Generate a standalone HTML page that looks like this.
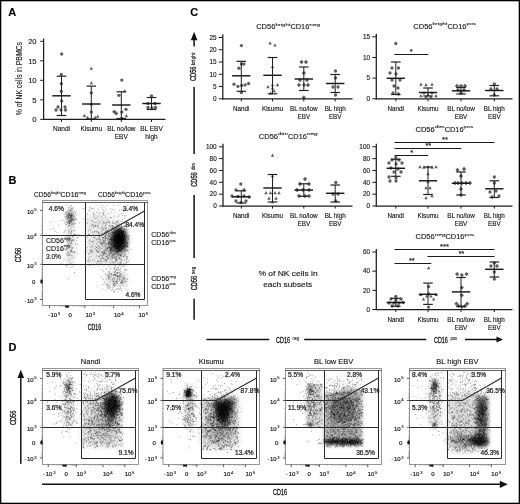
<!DOCTYPE html>
<html><head><meta charset="utf-8"><style>
html,body{margin:0;padding:0;background:#fff;}
svg{display:block;font-family:"Liberation Sans", sans-serif;will-change:transform;}
text{stroke:#222;stroke-width:0.14px;}
</style></head><body>
<svg width="520" height="504" viewBox="0 0 520 504">
<defs><filter id="b1" x="-50%" y="-50%" width="200%" height="200%"><feGaussianBlur stdDeviation="1"/></filter><filter id="b2" x="-50%" y="-50%" width="200%" height="200%"><feGaussianBlur stdDeviation="2"/></filter><filter id="b3" x="-50%" y="-50%" width="200%" height="200%"><feGaussianBlur stdDeviation="3"/></filter><filter id="b5" x="-50%" y="-50%" width="200%" height="200%"><feGaussianBlur stdDeviation="5"/></filter><radialGradient id="rg"><stop offset="0" stop-color="#000" stop-opacity="1"/><stop offset="0.55" stop-color="#000" stop-opacity="0.8"/><stop offset="1" stop-color="#000" stop-opacity="0"/></radialGradient></defs>
<rect width="520" height="504" fill="#fff"/>
<rect x="0.65" y="0.65" width="518.7" height="502.7" fill="none" stroke="#000" stroke-width="1.3"/>
<text x="8.2" y="16.2" font-size="11" font-weight="bold" fill="#000">A</text>
<text x="8.5" y="184.1" font-size="11" font-weight="bold" fill="#000">B</text>
<text x="190.2" y="16.2" font-size="11" font-weight="bold" fill="#000">C</text>
<text x="8.5" y="351.3" font-size="11" font-weight="bold" fill="#000">D</text>
<circle cx="61.70" cy="54.00" r="1.65" fill="#5e5e5e"/>
<circle cx="61.30" cy="74.50" r="1.65" fill="#5e5e5e"/>
<circle cx="61.30" cy="83.70" r="1.65" fill="#5e5e5e"/>
<circle cx="61.30" cy="91.50" r="1.65" fill="#5e5e5e"/>
<circle cx="61.70" cy="101.00" r="1.65" fill="#5e5e5e"/>
<circle cx="58.00" cy="107.00" r="1.65" fill="#5e5e5e"/>
<circle cx="65.00" cy="107.00" r="1.65" fill="#5e5e5e"/>
<circle cx="56.00" cy="110.00" r="1.65" fill="#5e5e5e"/>
<circle cx="61.00" cy="110.00" r="1.65" fill="#5e5e5e"/>
<circle cx="65.50" cy="110.00" r="1.65" fill="#5e5e5e"/>
<path d="M91.30 66.72L93.02 69.85L89.58 69.85Z" fill="#5e5e5e"/>
<path d="M91.30 81.22L93.02 84.35L89.58 84.35Z" fill="#5e5e5e"/>
<circle cx="91.30" cy="92.80" r="1.65" fill="#5e5e5e"/>
<circle cx="91.30" cy="104.20" r="1.65" fill="#5e5e5e"/>
<circle cx="91.30" cy="112.10" r="1.65" fill="#5e5e5e"/>
<path d="M84.40 113.82L86.12 116.95L82.68 116.95Z" fill="#5e5e5e"/>
<path d="M87.50 115.72L89.22 118.85L85.78 118.85Z" fill="#5e5e5e"/>
<path d="M95.20 115.72L96.92 118.85L93.48 118.85Z" fill="#5e5e5e"/>
<path d="M97.70 114.62L99.42 117.75L95.98 117.75Z" fill="#5e5e5e"/>
<circle cx="121.80" cy="80.10" r="1.65" fill="#5e5e5e"/>
<path d="M124.80 89.22L126.52 92.35L123.08 92.35Z" fill="#5e5e5e"/>
<circle cx="118.90" cy="95.30" r="1.65" fill="#5e5e5e"/>
<path d="M114.20 109.66L116.34 111.80L114.20 113.94L112.06 111.80Z" fill="#5e5e5e"/>
<path d="M116.20 111.26L118.34 113.40L116.20 115.55L114.06 113.40Z" fill="#5e5e5e"/>
<circle cx="121.80" cy="112.10" r="1.65" fill="#5e5e5e"/>
<circle cx="126.00" cy="109.30" r="1.65" fill="#5e5e5e"/>
<path d="M126.30 114.02L128.02 117.15L124.58 117.15Z" fill="#5e5e5e"/>
<circle cx="121.80" cy="118.30" r="1.65" fill="#5e5e5e"/>
<circle cx="151.50" cy="96.00" r="1.65" fill="#5e5e5e"/>
<circle cx="148.00" cy="103.50" r="1.65" fill="#5e5e5e"/>
<circle cx="155.00" cy="103.50" r="1.65" fill="#5e5e5e"/>
<circle cx="148.00" cy="107.50" r="1.65" fill="#5e5e5e"/>
<circle cx="152.00" cy="108.00" r="1.65" fill="#5e5e5e"/>
<circle cx="155.50" cy="107.50" r="1.65" fill="#5e5e5e"/>
<line x1="43.6" y1="38.5" x2="43.6" y2="119.89999999999999" stroke="#1c1c1c" stroke-width="1.25"/>
<line x1="43.0" y1="119.3" x2="165.5" y2="119.3" stroke="#1c1c1c" stroke-width="1.25"/>
<line x1="40.2" y1="119.3" x2="43.6" y2="119.3" stroke="#1c1c1c" stroke-width="1.0"/>
<text x="36.6" y="122.04" font-size="7.6" text-anchor="end" fill="#151515">0</text>
<line x1="40.2" y1="99.8" x2="43.6" y2="99.8" stroke="#1c1c1c" stroke-width="1.0"/>
<text x="36.6" y="102.54" font-size="7.6" text-anchor="end" fill="#151515">5</text>
<line x1="40.2" y1="80.3" x2="43.6" y2="80.3" stroke="#1c1c1c" stroke-width="1.0"/>
<text x="36.6" y="83.04" font-size="7.6" text-anchor="end" fill="#151515">10</text>
<line x1="40.2" y1="60.8" x2="43.6" y2="60.8" stroke="#1c1c1c" stroke-width="1.0"/>
<text x="36.6" y="63.54" font-size="7.6" text-anchor="end" fill="#151515">15</text>
<line x1="40.2" y1="41.3" x2="43.6" y2="41.3" stroke="#1c1c1c" stroke-width="1.0"/>
<text x="36.6" y="44.04" font-size="7.6" text-anchor="end" fill="#151515">20</text>
<line x1="61.5" y1="119.3" x2="61.5" y2="121.89999999999999" stroke="#1c1c1c" stroke-width="1.0"/>
<line x1="61.5" y1="76.2" x2="61.5" y2="115.5" stroke="#222" stroke-width="1.0"/>
<line x1="56.7" y1="76.2" x2="66.3" y2="76.2" stroke="#222" stroke-width="1.2"/>
<line x1="56.7" y1="115.5" x2="66.3" y2="115.5" stroke="#222" stroke-width="1.2"/>
<line x1="52.3" y1="95.8" x2="70.7" y2="95.8" stroke="#181818" stroke-width="1.45"/>
<text x="61.5" y="131.3" font-size="6.5" text-anchor="middle" fill="#151515">Nandi</text>
<line x1="91.3" y1="119.3" x2="91.3" y2="121.89999999999999" stroke="#1c1c1c" stroke-width="1.0"/>
<line x1="91.3" y1="86.1" x2="91.3" y2="119" stroke="#222" stroke-width="1.0"/>
<line x1="86.5" y1="86.1" x2="96.1" y2="86.1" stroke="#222" stroke-width="1.2"/>
<line x1="86.5" y1="119" x2="96.1" y2="119" stroke="#222" stroke-width="1.2"/>
<line x1="82.1" y1="104" x2="100.5" y2="104" stroke="#181818" stroke-width="1.45"/>
<text x="91.3" y="131.3" font-size="6.5" text-anchor="middle" fill="#151515">Kisumu</text>
<line x1="121.3" y1="119.3" x2="121.3" y2="121.89999999999999" stroke="#1c1c1c" stroke-width="1.0"/>
<line x1="121.3" y1="91.8" x2="121.3" y2="118.5" stroke="#222" stroke-width="1.0"/>
<line x1="116.5" y1="91.8" x2="126.1" y2="91.8" stroke="#222" stroke-width="1.2"/>
<line x1="116.5" y1="118.5" x2="126.1" y2="118.5" stroke="#222" stroke-width="1.2"/>
<line x1="112.1" y1="105" x2="130.5" y2="105" stroke="#181818" stroke-width="1.45"/>
<text x="121.3" y="131.3" font-size="6.5" text-anchor="middle" fill="#151515">BL no/low</text>
<text x="121.3" y="138.6" font-size="6.5" text-anchor="middle" fill="#151515">EBV</text>
<line x1="151.5" y1="119.3" x2="151.5" y2="121.89999999999999" stroke="#1c1c1c" stroke-width="1.0"/>
<line x1="151.5" y1="97.5" x2="151.5" y2="109.5" stroke="#222" stroke-width="1.0"/>
<line x1="146.7" y1="97.5" x2="156.3" y2="97.5" stroke="#222" stroke-width="1.2"/>
<line x1="146.7" y1="109.5" x2="156.3" y2="109.5" stroke="#222" stroke-width="1.2"/>
<line x1="142.3" y1="103.5" x2="160.7" y2="103.5" stroke="#181818" stroke-width="1.45"/>
<text x="151.5" y="131.3" font-size="6.5" text-anchor="middle" fill="#151515">BL EBV</text>
<text x="151.5" y="138.6" font-size="6.5" text-anchor="middle" fill="#151515">high</text>
<text transform="translate(22.0,78.6) rotate(-90)" font-size="9" text-anchor="middle" fill="#151515" style="stroke-width:0.1px" textLength="73.2" lengthAdjust="spacingAndGlyphs">% of NK cells in PBMCs</text>
<circle cx="241.40" cy="45.60" r="1.65" fill="#5e5e5e"/>
<circle cx="241.40" cy="64.00" r="1.65" fill="#5e5e5e"/>
<circle cx="243.80" cy="64.00" r="1.65" fill="#5e5e5e"/>
<circle cx="238.90" cy="68.20" r="1.65" fill="#5e5e5e"/>
<circle cx="234.00" cy="84.20" r="1.65" fill="#5e5e5e"/>
<circle cx="237.90" cy="86.30" r="1.65" fill="#5e5e5e"/>
<circle cx="241.70" cy="85.50" r="1.65" fill="#5e5e5e"/>
<circle cx="245.10" cy="84.90" r="1.65" fill="#5e5e5e"/>
<circle cx="248.60" cy="83.50" r="1.65" fill="#5e5e5e"/>
<circle cx="241.40" cy="92.50" r="1.65" fill="#5e5e5e"/>
<path d="M270.10 41.32L271.82 44.45L268.38 44.45Z" fill="#5e5e5e"/>
<path d="M275.00 43.42L276.72 46.55L273.28 46.55Z" fill="#5e5e5e"/>
<path d="M272.50 64.92L274.22 68.05L270.78 68.05Z" fill="#5e5e5e"/>
<path d="M268.00 85.12L269.72 88.25L266.28 88.25Z" fill="#5e5e5e"/>
<path d="M277.50 83.02L279.22 86.15L275.78 86.15Z" fill="#5e5e5e"/>
<path d="M272.50 83.02L274.22 86.15L270.78 86.15Z" fill="#5e5e5e"/>
<path d="M270.80 91.32L272.52 94.45L269.08 94.45Z" fill="#5e5e5e"/>
<path d="M274.30 89.22L276.02 92.35L272.58 92.35Z" fill="#5e5e5e"/>
<path d="M272.50 86.42L274.22 89.55L270.78 89.55Z" fill="#5e5e5e"/>
<path d="M301.50 59.85L303.64 62.00L301.50 64.14L299.36 62.00Z" fill="#5e5e5e"/>
<path d="M306.00 59.85L308.14 62.00L306.00 64.14L303.86 62.00Z" fill="#5e5e5e"/>
<path d="M303.80 70.86L305.94 73.00L303.80 75.14L301.66 73.00Z" fill="#5e5e5e"/>
<path d="M300.00 77.86L302.14 80.00L300.00 82.14L297.86 80.00Z" fill="#5e5e5e"/>
<path d="M307.00 77.86L309.14 80.00L307.00 82.14L304.86 80.00Z" fill="#5e5e5e"/>
<path d="M299.00 82.86L301.14 85.00L299.00 87.14L296.86 85.00Z" fill="#5e5e5e"/>
<path d="M304.00 82.86L306.14 85.00L304.00 87.14L301.86 85.00Z" fill="#5e5e5e"/>
<path d="M308.00 82.86L310.14 85.00L308.00 87.14L305.86 85.00Z" fill="#5e5e5e"/>
<path d="M303.80 95.36L305.94 97.50L303.80 99.64L301.66 97.50Z" fill="#5e5e5e"/>
<circle cx="335.50" cy="71.00" r="1.65" fill="#5e5e5e"/>
<circle cx="335.50" cy="78.00" r="1.65" fill="#5e5e5e"/>
<circle cx="333.00" cy="87.00" r="1.65" fill="#5e5e5e"/>
<circle cx="338.00" cy="87.00" r="1.65" fill="#5e5e5e"/>
<circle cx="335.50" cy="95.00" r="1.65" fill="#5e5e5e"/>
<line x1="222.8" y1="34.2" x2="222.8" y2="99.39999999999999" stroke="#1c1c1c" stroke-width="1.25"/>
<line x1="222.20000000000002" y1="98.8" x2="352.5" y2="98.8" stroke="#1c1c1c" stroke-width="1.25"/>
<line x1="218.8" y1="98.8" x2="222.8" y2="98.8" stroke="#1c1c1c" stroke-width="1.0"/>
<text x="216.5" y="101.1" font-size="6.4" text-anchor="end" fill="#151515">0</text>
<line x1="218.8" y1="86.54" x2="222.8" y2="86.54" stroke="#1c1c1c" stroke-width="1.0"/>
<text x="216.5" y="88.84" font-size="6.4" text-anchor="end" fill="#151515">5</text>
<line x1="218.8" y1="74.28" x2="222.8" y2="74.28" stroke="#1c1c1c" stroke-width="1.0"/>
<text x="216.5" y="76.58" font-size="6.4" text-anchor="end" fill="#151515">10</text>
<line x1="218.8" y1="62.02" x2="222.8" y2="62.02" stroke="#1c1c1c" stroke-width="1.0"/>
<text x="216.5" y="64.32" font-size="6.4" text-anchor="end" fill="#151515">15</text>
<line x1="218.8" y1="49.76" x2="222.8" y2="49.76" stroke="#1c1c1c" stroke-width="1.0"/>
<text x="216.5" y="52.06" font-size="6.4" text-anchor="end" fill="#151515">20</text>
<line x1="218.8" y1="37.5" x2="222.8" y2="37.5" stroke="#1c1c1c" stroke-width="1.0"/>
<text x="216.5" y="39.8" font-size="6.4" text-anchor="end" fill="#151515">25</text>
<line x1="241.3" y1="98.8" x2="241.3" y2="101.39999999999999" stroke="#1c1c1c" stroke-width="1.0"/>
<line x1="241.3" y1="61.3" x2="241.3" y2="91.3" stroke="#222" stroke-width="1.0"/>
<line x1="236.5" y1="61.3" x2="246.10000000000002" y2="61.3" stroke="#222" stroke-width="1.2"/>
<line x1="236.5" y1="91.3" x2="246.10000000000002" y2="91.3" stroke="#222" stroke-width="1.2"/>
<line x1="232.10000000000002" y1="75.8" x2="250.5" y2="75.8" stroke="#181818" stroke-width="1.45"/>
<text x="241.3" y="110.5" font-size="6.3" text-anchor="middle" fill="#151515">Nandi</text>
<line x1="272.5" y1="98.8" x2="272.5" y2="101.39999999999999" stroke="#1c1c1c" stroke-width="1.0"/>
<line x1="272.5" y1="57.5" x2="272.5" y2="93.8" stroke="#222" stroke-width="1.0"/>
<line x1="267.7" y1="57.5" x2="277.3" y2="57.5" stroke="#222" stroke-width="1.2"/>
<line x1="267.7" y1="93.8" x2="277.3" y2="93.8" stroke="#222" stroke-width="1.2"/>
<line x1="263.3" y1="75.3" x2="281.7" y2="75.3" stroke="#181818" stroke-width="1.45"/>
<text x="272.5" y="110.5" font-size="6.3" text-anchor="middle" fill="#151515">Kisumu</text>
<line x1="303.8" y1="98.8" x2="303.8" y2="101.39999999999999" stroke="#1c1c1c" stroke-width="1.0"/>
<line x1="303.8" y1="67.0" x2="303.8" y2="90.5" stroke="#222" stroke-width="1.0"/>
<line x1="299.0" y1="67.0" x2="308.6" y2="67.0" stroke="#222" stroke-width="1.2"/>
<line x1="299.0" y1="90.5" x2="308.6" y2="90.5" stroke="#222" stroke-width="1.2"/>
<line x1="294.6" y1="79.0" x2="313.0" y2="79.0" stroke="#181818" stroke-width="1.45"/>
<text x="303.8" y="110.5" font-size="6.3" text-anchor="middle" fill="#151515">BL no/low</text>
<text x="303.8" y="118.6" font-size="6.3" text-anchor="middle" fill="#151515">EBV</text>
<line x1="335.2" y1="98.8" x2="335.2" y2="101.39999999999999" stroke="#1c1c1c" stroke-width="1.0"/>
<line x1="335.2" y1="74.5" x2="335.2" y2="92.5" stroke="#222" stroke-width="1.0"/>
<line x1="330.4" y1="74.5" x2="340.0" y2="74.5" stroke="#222" stroke-width="1.2"/>
<line x1="330.4" y1="92.5" x2="340.0" y2="92.5" stroke="#222" stroke-width="1.2"/>
<line x1="326.0" y1="83.5" x2="344.4" y2="83.5" stroke="#181818" stroke-width="1.45"/>
<text x="335.2" y="110.5" font-size="6.3" text-anchor="middle" fill="#151515">BL high</text>
<text x="335.2" y="118.6" font-size="6.3" text-anchor="middle" fill="#151515">EBV</text>
<circle cx="395.80" cy="43.50" r="1.65" fill="#5e5e5e"/>
<circle cx="392.00" cy="68.00" r="1.65" fill="#5e5e5e"/>
<circle cx="398.50" cy="68.00" r="1.65" fill="#5e5e5e"/>
<circle cx="390.00" cy="73.00" r="1.65" fill="#5e5e5e"/>
<circle cx="396.00" cy="74.00" r="1.65" fill="#5e5e5e"/>
<circle cx="392.00" cy="80.00" r="1.65" fill="#5e5e5e"/>
<circle cx="400.00" cy="80.00" r="1.65" fill="#5e5e5e"/>
<circle cx="394.00" cy="86.00" r="1.65" fill="#5e5e5e"/>
<circle cx="398.00" cy="88.00" r="1.65" fill="#5e5e5e"/>
<circle cx="393.00" cy="93.00" r="1.65" fill="#5e5e5e"/>
<circle cx="398.50" cy="94.00" r="1.65" fill="#5e5e5e"/>
<path d="M421.00 82.62L422.72 85.75L419.28 85.75Z" fill="#5e5e5e"/>
<path d="M426.00 83.12L427.72 86.25L424.28 86.25Z" fill="#5e5e5e"/>
<path d="M432.00 82.62L433.72 85.75L430.28 85.75Z" fill="#5e5e5e"/>
<path d="M424.00 91.12L425.72 94.25L422.28 94.25Z" fill="#5e5e5e"/>
<path d="M428.00 93.12L429.72 96.25L426.28 96.25Z" fill="#5e5e5e"/>
<path d="M432.00 91.12L433.72 94.25L430.28 94.25Z" fill="#5e5e5e"/>
<path d="M421.00 94.12L422.72 97.25L419.28 97.25Z" fill="#5e5e5e"/>
<path d="M426.00 95.12L427.72 98.25L424.28 98.25Z" fill="#5e5e5e"/>
<path d="M431.00 95.12L432.72 98.25L429.28 98.25Z" fill="#5e5e5e"/>
<path d="M436.00 94.12L437.72 97.25L434.28 97.25Z" fill="#5e5e5e"/>
<path d="M457.00 83.86L459.14 86.00L457.00 88.14L454.86 86.00Z" fill="#5e5e5e"/>
<path d="M461.00 83.86L463.14 86.00L461.00 88.14L458.86 86.00Z" fill="#5e5e5e"/>
<path d="M465.00 83.86L467.14 86.00L465.00 88.14L462.86 86.00Z" fill="#5e5e5e"/>
<path d="M458.00 87.86L460.14 90.00L458.00 92.14L455.86 90.00Z" fill="#5e5e5e"/>
<path d="M464.00 87.86L466.14 90.00L464.00 92.14L461.86 90.00Z" fill="#5e5e5e"/>
<path d="M461.00 90.86L463.14 93.00L461.00 95.14L458.86 93.00Z" fill="#5e5e5e"/>
<circle cx="494.30" cy="84.00" r="1.65" fill="#5e5e5e"/>
<circle cx="491.00" cy="89.00" r="1.65" fill="#5e5e5e"/>
<circle cx="497.00" cy="89.00" r="1.65" fill="#5e5e5e"/>
<circle cx="494.30" cy="95.00" r="1.65" fill="#5e5e5e"/>
<line x1="376.3" y1="33.8" x2="376.3" y2="99.39999999999999" stroke="#1c1c1c" stroke-width="1.25"/>
<line x1="375.7" y1="98.8" x2="512.5" y2="98.8" stroke="#1c1c1c" stroke-width="1.25"/>
<line x1="372.3" y1="98.8" x2="376.3" y2="98.8" stroke="#1c1c1c" stroke-width="1.0"/>
<text x="370.0" y="101.1" font-size="6.4" text-anchor="end" fill="#151515">0</text>
<line x1="372.3" y1="78.13" x2="376.3" y2="78.13" stroke="#1c1c1c" stroke-width="1.0"/>
<text x="370.0" y="80.43" font-size="6.4" text-anchor="end" fill="#151515">5</text>
<line x1="372.3" y1="57.47" x2="376.3" y2="57.47" stroke="#1c1c1c" stroke-width="1.0"/>
<text x="370.0" y="59.77" font-size="6.4" text-anchor="end" fill="#151515">10</text>
<line x1="372.3" y1="36.8" x2="376.3" y2="36.8" stroke="#1c1c1c" stroke-width="1.0"/>
<text x="370.0" y="39.1" font-size="6.4" text-anchor="end" fill="#151515">15</text>
<line x1="395.8" y1="98.8" x2="395.8" y2="101.39999999999999" stroke="#1c1c1c" stroke-width="1.0"/>
<line x1="395.8" y1="62.0" x2="395.8" y2="94.5" stroke="#222" stroke-width="1.0"/>
<line x1="391.0" y1="62.0" x2="400.6" y2="62.0" stroke="#222" stroke-width="1.2"/>
<line x1="391.0" y1="94.5" x2="400.6" y2="94.5" stroke="#222" stroke-width="1.2"/>
<line x1="386.6" y1="78.3" x2="405.0" y2="78.3" stroke="#181818" stroke-width="1.45"/>
<text x="395.8" y="110.5" font-size="6.3" text-anchor="middle" fill="#151515">Nandi</text>
<line x1="428.0" y1="98.8" x2="428.0" y2="101.39999999999999" stroke="#1c1c1c" stroke-width="1.0"/>
<line x1="428.0" y1="88.0" x2="428.0" y2="96" stroke="#222" stroke-width="1.0"/>
<line x1="423.2" y1="88.0" x2="432.8" y2="88.0" stroke="#222" stroke-width="1.2"/>
<line x1="423.2" y1="96" x2="432.8" y2="96" stroke="#222" stroke-width="1.2"/>
<line x1="418.8" y1="92.5" x2="437.2" y2="92.5" stroke="#181818" stroke-width="1.45"/>
<text x="428.0" y="110.5" font-size="6.3" text-anchor="middle" fill="#151515">Kisumu</text>
<line x1="461.0" y1="98.8" x2="461.0" y2="101.39999999999999" stroke="#1c1c1c" stroke-width="1.0"/>
<line x1="461.0" y1="87.5" x2="461.0" y2="94" stroke="#222" stroke-width="1.0"/>
<line x1="456.2" y1="87.5" x2="465.8" y2="87.5" stroke="#222" stroke-width="1.2"/>
<line x1="456.2" y1="94" x2="465.8" y2="94" stroke="#222" stroke-width="1.2"/>
<line x1="451.8" y1="90.8" x2="470.2" y2="90.8" stroke="#181818" stroke-width="1.45"/>
<text x="461.0" y="110.5" font-size="6.3" text-anchor="middle" fill="#151515">BL no/low</text>
<text x="461.0" y="118.6" font-size="6.3" text-anchor="middle" fill="#151515">EBV</text>
<line x1="494.3" y1="98.8" x2="494.3" y2="101.39999999999999" stroke="#1c1c1c" stroke-width="1.0"/>
<line x1="494.3" y1="85.5" x2="494.3" y2="95.8" stroke="#222" stroke-width="1.0"/>
<line x1="489.5" y1="85.5" x2="499.1" y2="85.5" stroke="#222" stroke-width="1.2"/>
<line x1="489.5" y1="95.8" x2="499.1" y2="95.8" stroke="#222" stroke-width="1.2"/>
<line x1="485.1" y1="90.5" x2="503.5" y2="90.5" stroke="#181818" stroke-width="1.45"/>
<text x="494.3" y="110.5" font-size="6.3" text-anchor="middle" fill="#151515">BL high</text>
<text x="494.3" y="118.6" font-size="6.3" text-anchor="middle" fill="#151515">EBV</text>
<line x1="394.3" y1="54.5" x2="428.3" y2="54.5" stroke="#1c1c1c" stroke-width="1.1"/>
<text x="411.3" y="54.3" font-size="7.5" text-anchor="middle" fill="#111">*</text>
<circle cx="240.80" cy="184.00" r="1.65" fill="#5e5e5e"/>
<circle cx="236.00" cy="190.00" r="1.65" fill="#5e5e5e"/>
<circle cx="244.00" cy="190.00" r="1.65" fill="#5e5e5e"/>
<circle cx="232.00" cy="196.00" r="1.65" fill="#5e5e5e"/>
<circle cx="238.00" cy="196.50" r="1.65" fill="#5e5e5e"/>
<circle cx="244.00" cy="196.00" r="1.65" fill="#5e5e5e"/>
<circle cx="249.00" cy="197.00" r="1.65" fill="#5e5e5e"/>
<circle cx="236.00" cy="201.00" r="1.65" fill="#5e5e5e"/>
<circle cx="241.00" cy="202.50" r="1.65" fill="#5e5e5e"/>
<circle cx="246.00" cy="201.00" r="1.65" fill="#5e5e5e"/>
<path d="M272.50 153.62L274.22 156.75L270.78 156.75Z" fill="#5e5e5e"/>
<path d="M272.50 174.12L274.22 177.25L270.78 177.25Z" fill="#5e5e5e"/>
<path d="M266.00 191.12L267.72 194.25L264.28 194.25Z" fill="#5e5e5e"/>
<path d="M270.50 191.12L272.22 194.25L268.78 194.25Z" fill="#5e5e5e"/>
<path d="M275.00 191.12L276.72 194.25L273.28 194.25Z" fill="#5e5e5e"/>
<path d="M279.00 191.12L280.72 194.25L277.28 194.25Z" fill="#5e5e5e"/>
<path d="M269.00 196.62L270.72 199.75L267.28 199.75Z" fill="#5e5e5e"/>
<path d="M276.00 196.62L277.72 199.75L274.28 199.75Z" fill="#5e5e5e"/>
<path d="M272.50 200.12L274.22 203.25L270.78 203.25Z" fill="#5e5e5e"/>
<path d="M305.00 176.85L307.14 179.00L305.00 181.15L302.86 179.00Z" fill="#5e5e5e"/>
<path d="M300.00 181.85L302.14 184.00L300.00 186.15L297.86 184.00Z" fill="#5e5e5e"/>
<path d="M309.00 181.85L311.14 184.00L309.00 186.15L306.86 184.00Z" fill="#5e5e5e"/>
<path d="M297.00 187.85L299.14 190.00L297.00 192.15L294.86 190.00Z" fill="#5e5e5e"/>
<path d="M303.00 187.85L305.14 190.00L303.00 192.15L300.86 190.00Z" fill="#5e5e5e"/>
<path d="M309.00 187.85L311.14 190.00L309.00 192.15L306.86 190.00Z" fill="#5e5e5e"/>
<path d="M299.00 193.85L301.14 196.00L299.00 198.15L296.86 196.00Z" fill="#5e5e5e"/>
<path d="M305.00 193.85L307.14 196.00L305.00 198.15L302.86 196.00Z" fill="#5e5e5e"/>
<path d="M309.00 193.85L311.14 196.00L309.00 198.15L306.86 196.00Z" fill="#5e5e5e"/>
<circle cx="335.80" cy="182.50" r="1.65" fill="#5e5e5e"/>
<circle cx="333.00" cy="194.00" r="1.65" fill="#5e5e5e"/>
<circle cx="338.00" cy="194.00" r="1.65" fill="#5e5e5e"/>
<circle cx="335.80" cy="201.00" r="1.65" fill="#5e5e5e"/>
<line x1="223.0" y1="143.8" x2="223.0" y2="206.6" stroke="#1c1c1c" stroke-width="1.25"/>
<line x1="222.4" y1="206.0" x2="352.5" y2="206.0" stroke="#1c1c1c" stroke-width="1.25"/>
<line x1="219.0" y1="206.0" x2="223.0" y2="206.0" stroke="#1c1c1c" stroke-width="1.0"/>
<text x="216.7" y="208.3" font-size="6.4" text-anchor="end" fill="#151515">0</text>
<line x1="219.0" y1="194.16" x2="223.0" y2="194.16" stroke="#1c1c1c" stroke-width="1.0"/>
<text x="216.7" y="196.46" font-size="6.4" text-anchor="end" fill="#151515">20</text>
<line x1="219.0" y1="182.32" x2="223.0" y2="182.32" stroke="#1c1c1c" stroke-width="1.0"/>
<text x="216.7" y="184.62" font-size="6.4" text-anchor="end" fill="#151515">40</text>
<line x1="219.0" y1="170.48" x2="223.0" y2="170.48" stroke="#1c1c1c" stroke-width="1.0"/>
<text x="216.7" y="172.78" font-size="6.4" text-anchor="end" fill="#151515">60</text>
<line x1="219.0" y1="158.64" x2="223.0" y2="158.64" stroke="#1c1c1c" stroke-width="1.0"/>
<text x="216.7" y="160.94" font-size="6.4" text-anchor="end" fill="#151515">80</text>
<line x1="219.0" y1="146.8" x2="223.0" y2="146.8" stroke="#1c1c1c" stroke-width="1.0"/>
<text x="216.7" y="149.1" font-size="6.4" text-anchor="end" fill="#151515">100</text>
<line x1="241.3" y1="206.0" x2="241.3" y2="208.6" stroke="#1c1c1c" stroke-width="1.0"/>
<line x1="241.3" y1="190.8" x2="241.3" y2="203" stroke="#222" stroke-width="1.0"/>
<line x1="236.5" y1="190.8" x2="246.10000000000002" y2="190.8" stroke="#222" stroke-width="1.2"/>
<line x1="236.5" y1="203" x2="246.10000000000002" y2="203" stroke="#222" stroke-width="1.2"/>
<line x1="232.10000000000002" y1="196.8" x2="250.5" y2="196.8" stroke="#181818" stroke-width="1.45"/>
<text x="241.3" y="218.3" font-size="6.3" text-anchor="middle" fill="#151515">Nandi</text>
<line x1="272.5" y1="206.0" x2="272.5" y2="208.6" stroke="#1c1c1c" stroke-width="1.0"/>
<line x1="272.5" y1="174.5" x2="272.5" y2="202" stroke="#222" stroke-width="1.0"/>
<line x1="267.7" y1="174.5" x2="277.3" y2="174.5" stroke="#222" stroke-width="1.2"/>
<line x1="267.7" y1="202" x2="277.3" y2="202" stroke="#222" stroke-width="1.2"/>
<line x1="263.3" y1="188.0" x2="281.7" y2="188.0" stroke="#181818" stroke-width="1.45"/>
<text x="272.5" y="218.3" font-size="6.3" text-anchor="middle" fill="#151515">Kisumu</text>
<line x1="303.8" y1="206.0" x2="303.8" y2="208.6" stroke="#1c1c1c" stroke-width="1.0"/>
<line x1="303.8" y1="183.8" x2="303.8" y2="196.3" stroke="#222" stroke-width="1.0"/>
<line x1="299.0" y1="183.8" x2="308.6" y2="183.8" stroke="#222" stroke-width="1.2"/>
<line x1="299.0" y1="196.3" x2="308.6" y2="196.3" stroke="#222" stroke-width="1.2"/>
<line x1="294.6" y1="190.0" x2="313.0" y2="190.0" stroke="#181818" stroke-width="1.45"/>
<text x="303.8" y="218.3" font-size="6.3" text-anchor="middle" fill="#151515">BL no/low</text>
<text x="303.8" y="225.9" font-size="6.3" text-anchor="middle" fill="#151515">EBV</text>
<line x1="335.2" y1="206.0" x2="335.2" y2="208.6" stroke="#1c1c1c" stroke-width="1.0"/>
<line x1="335.2" y1="185.0" x2="335.2" y2="202" stroke="#222" stroke-width="1.0"/>
<line x1="330.4" y1="185.0" x2="340.0" y2="185.0" stroke="#222" stroke-width="1.2"/>
<line x1="330.4" y1="202" x2="340.0" y2="202" stroke="#222" stroke-width="1.2"/>
<line x1="326.0" y1="193.3" x2="344.4" y2="193.3" stroke="#181818" stroke-width="1.45"/>
<text x="335.2" y="218.3" font-size="6.3" text-anchor="middle" fill="#151515">BL high</text>
<text x="335.2" y="225.9" font-size="6.3" text-anchor="middle" fill="#151515">EBV</text>
<circle cx="395.80" cy="157.50" r="1.65" fill="#5e5e5e"/>
<circle cx="392.00" cy="160.00" r="1.65" fill="#5e5e5e"/>
<circle cx="399.00" cy="160.00" r="1.65" fill="#5e5e5e"/>
<circle cx="389.00" cy="163.00" r="1.65" fill="#5e5e5e"/>
<circle cx="396.00" cy="164.00" r="1.65" fill="#5e5e5e"/>
<circle cx="402.00" cy="163.00" r="1.65" fill="#5e5e5e"/>
<circle cx="391.00" cy="168.00" r="1.65" fill="#5e5e5e"/>
<circle cx="398.00" cy="169.00" r="1.65" fill="#5e5e5e"/>
<circle cx="394.00" cy="172.00" r="1.65" fill="#5e5e5e"/>
<circle cx="401.00" cy="172.00" r="1.65" fill="#5e5e5e"/>
<circle cx="389.00" cy="177.00" r="1.65" fill="#5e5e5e"/>
<circle cx="396.00" cy="178.00" r="1.65" fill="#5e5e5e"/>
<circle cx="390.00" cy="181.00" r="1.65" fill="#5e5e5e"/>
<circle cx="396.00" cy="181.00" r="1.65" fill="#5e5e5e"/>
<path d="M420.00 165.12L421.72 168.25L418.28 168.25Z" fill="#5e5e5e"/>
<path d="M424.00 165.62L425.72 168.75L422.28 168.75Z" fill="#5e5e5e"/>
<path d="M428.00 165.12L429.72 168.25L426.28 168.25Z" fill="#5e5e5e"/>
<path d="M432.00 165.62L433.72 168.75L430.28 168.75Z" fill="#5e5e5e"/>
<path d="M436.00 165.12L437.72 168.25L434.28 168.25Z" fill="#5e5e5e"/>
<path d="M428.00 172.12L429.72 175.25L426.28 175.25Z" fill="#5e5e5e"/>
<path d="M428.00 180.12L429.72 183.25L426.28 183.25Z" fill="#5e5e5e"/>
<path d="M426.00 186.12L427.72 189.25L424.28 189.25Z" fill="#5e5e5e"/>
<path d="M430.00 186.12L431.72 189.25L428.28 189.25Z" fill="#5e5e5e"/>
<path d="M426.00 196.12L427.72 199.25L424.28 199.25Z" fill="#5e5e5e"/>
<path d="M432.00 194.12L433.72 197.25L430.28 197.25Z" fill="#5e5e5e"/>
<path d="M457.50 167.85L459.64 170.00L457.50 172.15L455.36 170.00Z" fill="#5e5e5e"/>
<path d="M464.00 166.85L466.14 169.00L464.00 171.15L461.86 169.00Z" fill="#5e5e5e"/>
<path d="M461.00 173.85L463.14 176.00L461.00 178.15L458.86 176.00Z" fill="#5e5e5e"/>
<path d="M455.00 180.85L457.14 183.00L455.00 185.15L452.86 183.00Z" fill="#5e5e5e"/>
<path d="M458.00 180.85L460.14 183.00L458.00 185.15L455.86 183.00Z" fill="#5e5e5e"/>
<path d="M462.00 180.85L464.14 183.00L462.00 185.15L459.86 183.00Z" fill="#5e5e5e"/>
<path d="M466.00 180.85L468.14 183.00L466.00 185.15L463.86 183.00Z" fill="#5e5e5e"/>
<path d="M470.00 180.85L472.14 183.00L470.00 185.15L467.86 183.00Z" fill="#5e5e5e"/>
<path d="M461.00 186.85L463.14 189.00L461.00 191.15L458.86 189.00Z" fill="#5e5e5e"/>
<path d="M461.00 192.85L463.14 195.00L461.00 197.15L458.86 195.00Z" fill="#5e5e5e"/>
<circle cx="494.30" cy="177.00" r="1.65" fill="#5e5e5e"/>
<circle cx="494.30" cy="183.00" r="1.65" fill="#5e5e5e"/>
<circle cx="490.00" cy="192.00" r="1.65" fill="#5e5e5e"/>
<circle cx="496.00" cy="191.00" r="1.65" fill="#5e5e5e"/>
<circle cx="492.00" cy="197.00" r="1.65" fill="#5e5e5e"/>
<circle cx="499.00" cy="196.00" r="1.65" fill="#5e5e5e"/>
<line x1="376.3" y1="143.8" x2="376.3" y2="206.6" stroke="#1c1c1c" stroke-width="1.25"/>
<line x1="375.7" y1="206.0" x2="512.5" y2="206.0" stroke="#1c1c1c" stroke-width="1.25"/>
<line x1="372.3" y1="206.0" x2="376.3" y2="206.0" stroke="#1c1c1c" stroke-width="1.0"/>
<text x="370.0" y="208.3" font-size="6.4" text-anchor="end" fill="#151515">0</text>
<line x1="372.3" y1="194.16" x2="376.3" y2="194.16" stroke="#1c1c1c" stroke-width="1.0"/>
<text x="370.0" y="196.46" font-size="6.4" text-anchor="end" fill="#151515">20</text>
<line x1="372.3" y1="182.32" x2="376.3" y2="182.32" stroke="#1c1c1c" stroke-width="1.0"/>
<text x="370.0" y="184.62" font-size="6.4" text-anchor="end" fill="#151515">40</text>
<line x1="372.3" y1="170.48" x2="376.3" y2="170.48" stroke="#1c1c1c" stroke-width="1.0"/>
<text x="370.0" y="172.78" font-size="6.4" text-anchor="end" fill="#151515">60</text>
<line x1="372.3" y1="158.64" x2="376.3" y2="158.64" stroke="#1c1c1c" stroke-width="1.0"/>
<text x="370.0" y="160.94" font-size="6.4" text-anchor="end" fill="#151515">80</text>
<line x1="372.3" y1="146.8" x2="376.3" y2="146.8" stroke="#1c1c1c" stroke-width="1.0"/>
<text x="370.0" y="149.1" font-size="6.4" text-anchor="end" fill="#151515">100</text>
<line x1="395.8" y1="206.0" x2="395.8" y2="208.6" stroke="#1c1c1c" stroke-width="1.0"/>
<line x1="395.8" y1="159.3" x2="395.8" y2="176.3" stroke="#222" stroke-width="1.0"/>
<line x1="391.0" y1="159.3" x2="400.6" y2="159.3" stroke="#222" stroke-width="1.2"/>
<line x1="391.0" y1="176.3" x2="400.6" y2="176.3" stroke="#222" stroke-width="1.2"/>
<line x1="386.6" y1="168.3" x2="405.0" y2="168.3" stroke="#181818" stroke-width="1.45"/>
<text x="395.8" y="218.3" font-size="6.3" text-anchor="middle" fill="#151515">Nandi</text>
<line x1="428.0" y1="206.0" x2="428.0" y2="208.6" stroke="#1c1c1c" stroke-width="1.0"/>
<line x1="428.0" y1="167.0" x2="428.0" y2="194.5" stroke="#222" stroke-width="1.0"/>
<line x1="423.2" y1="167.0" x2="432.8" y2="167.0" stroke="#222" stroke-width="1.2"/>
<line x1="423.2" y1="194.5" x2="432.8" y2="194.5" stroke="#222" stroke-width="1.2"/>
<line x1="418.8" y1="180.8" x2="437.2" y2="180.8" stroke="#181818" stroke-width="1.45"/>
<text x="428.0" y="218.3" font-size="6.3" text-anchor="middle" fill="#151515">Kisumu</text>
<line x1="461.0" y1="206.0" x2="461.0" y2="208.6" stroke="#1c1c1c" stroke-width="1.0"/>
<line x1="461.0" y1="172.0" x2="461.0" y2="195.0" stroke="#222" stroke-width="1.0"/>
<line x1="456.2" y1="172.0" x2="465.8" y2="172.0" stroke="#222" stroke-width="1.2"/>
<line x1="456.2" y1="195.0" x2="465.8" y2="195.0" stroke="#222" stroke-width="1.2"/>
<line x1="451.8" y1="183.3" x2="470.2" y2="183.3" stroke="#181818" stroke-width="1.45"/>
<text x="461.0" y="218.3" font-size="6.3" text-anchor="middle" fill="#151515">BL no/low</text>
<text x="461.0" y="225.9" font-size="6.3" text-anchor="middle" fill="#151515">EBV</text>
<line x1="494.3" y1="206.0" x2="494.3" y2="208.6" stroke="#1c1c1c" stroke-width="1.0"/>
<line x1="494.3" y1="180.8" x2="494.3" y2="197.5" stroke="#222" stroke-width="1.0"/>
<line x1="489.5" y1="180.8" x2="499.1" y2="180.8" stroke="#222" stroke-width="1.2"/>
<line x1="489.5" y1="197.5" x2="499.1" y2="197.5" stroke="#222" stroke-width="1.2"/>
<line x1="485.1" y1="188.8" x2="503.5" y2="188.8" stroke="#181818" stroke-width="1.45"/>
<text x="494.3" y="218.3" font-size="6.3" text-anchor="middle" fill="#151515">BL high</text>
<text x="494.3" y="225.9" font-size="6.3" text-anchor="middle" fill="#151515">EBV</text>
<line x1="394.5" y1="142.5" x2="494.5" y2="142.5" stroke="#1c1c1c" stroke-width="1.1"/>
<text x="445" y="142.3" font-size="7.5" text-anchor="middle" fill="#111">**</text>
<line x1="394.5" y1="148.5" x2="461.3" y2="148.5" stroke="#1c1c1c" stroke-width="1.1"/>
<text x="428.3" y="148.3" font-size="7.5" text-anchor="middle" fill="#111">**</text>
<line x1="394.5" y1="155.5" x2="428.0" y2="155.5" stroke="#1c1c1c" stroke-width="1.1"/>
<text x="411.8" y="155.3" font-size="7.5" text-anchor="middle" fill="#111">*</text>
<circle cx="395.80" cy="296.50" r="1.65" fill="#5e5e5e"/>
<circle cx="391.00" cy="299.00" r="1.65" fill="#5e5e5e"/>
<circle cx="396.00" cy="300.00" r="1.65" fill="#5e5e5e"/>
<circle cx="401.00" cy="299.00" r="1.65" fill="#5e5e5e"/>
<circle cx="389.00" cy="303.00" r="1.65" fill="#5e5e5e"/>
<circle cx="394.00" cy="303.00" r="1.65" fill="#5e5e5e"/>
<circle cx="399.00" cy="303.00" r="1.65" fill="#5e5e5e"/>
<circle cx="403.00" cy="302.50" r="1.65" fill="#5e5e5e"/>
<circle cx="392.00" cy="306.00" r="1.65" fill="#5e5e5e"/>
<circle cx="398.00" cy="306.00" r="1.65" fill="#5e5e5e"/>
<path d="M428.60 266.22L430.32 269.35L426.88 269.35Z" fill="#5e5e5e"/>
<circle cx="428.60" cy="286.60" r="1.65" fill="#5e5e5e"/>
<path d="M420.80 292.82L422.52 295.95L419.08 295.95Z" fill="#5e5e5e"/>
<path d="M436.20 292.82L437.92 295.95L434.48 295.95Z" fill="#5e5e5e"/>
<circle cx="428.60" cy="294.00" r="1.65" fill="#5e5e5e"/>
<path d="M423.50 297.42L425.22 300.55L421.78 300.55Z" fill="#5e5e5e"/>
<path d="M426.80 294.42L428.52 297.55L425.08 297.55Z" fill="#5e5e5e"/>
<path d="M430.90 294.42L432.62 297.55L429.18 297.55Z" fill="#5e5e5e"/>
<path d="M433.60 297.42L435.32 300.55L431.88 300.55Z" fill="#5e5e5e"/>
<circle cx="428.60" cy="307.10" r="1.65" fill="#5e5e5e"/>
<path d="M457.10 271.96L459.25 274.10L457.10 276.25L454.96 274.10Z" fill="#5e5e5e"/>
<path d="M461.80 272.96L463.94 275.10L461.80 277.25L459.66 275.10Z" fill="#5e5e5e"/>
<path d="M466.50 271.96L468.64 274.10L466.50 276.25L464.36 274.10Z" fill="#5e5e5e"/>
<path d="M461.80 285.46L463.94 287.60L461.80 289.75L459.66 287.60Z" fill="#5e5e5e"/>
<path d="M461.80 293.16L463.94 295.30L461.80 297.44L459.66 295.30Z" fill="#5e5e5e"/>
<path d="M456.40 301.56L458.54 303.70L456.40 305.84L454.25 303.70Z" fill="#5e5e5e"/>
<path d="M458.50 303.86L460.64 306.00L458.50 308.14L456.36 306.00Z" fill="#5e5e5e"/>
<path d="M461.80 304.86L463.94 307.00L461.80 309.14L459.66 307.00Z" fill="#5e5e5e"/>
<path d="M465.00 303.86L467.14 306.00L465.00 308.14L462.86 306.00Z" fill="#5e5e5e"/>
<path d="M467.20 301.56L469.34 303.70L467.20 305.84L465.06 303.70Z" fill="#5e5e5e"/>
<circle cx="494.30" cy="263.00" r="1.65" fill="#5e5e5e"/>
<circle cx="491.00" cy="266.00" r="1.65" fill="#5e5e5e"/>
<circle cx="497.00" cy="266.00" r="1.65" fill="#5e5e5e"/>
<circle cx="494.30" cy="272.00" r="1.65" fill="#5e5e5e"/>
<circle cx="494.30" cy="279.00" r="1.65" fill="#5e5e5e"/>
<line x1="376.3" y1="249.0" x2="376.3" y2="310.1" stroke="#1c1c1c" stroke-width="1.25"/>
<line x1="375.7" y1="309.5" x2="512.5" y2="309.5" stroke="#1c1c1c" stroke-width="1.25"/>
<line x1="372.3" y1="309.5" x2="376.3" y2="309.5" stroke="#1c1c1c" stroke-width="1.0"/>
<text x="370.0" y="311.8" font-size="6.4" text-anchor="end" fill="#151515">0</text>
<line x1="372.3" y1="290.33" x2="376.3" y2="290.33" stroke="#1c1c1c" stroke-width="1.0"/>
<text x="370.0" y="292.63" font-size="6.4" text-anchor="end" fill="#151515">20</text>
<line x1="372.3" y1="271.17" x2="376.3" y2="271.17" stroke="#1c1c1c" stroke-width="1.0"/>
<text x="370.0" y="273.47" font-size="6.4" text-anchor="end" fill="#151515">40</text>
<line x1="372.3" y1="252.0" x2="376.3" y2="252.0" stroke="#1c1c1c" stroke-width="1.0"/>
<text x="370.0" y="254.3" font-size="6.4" text-anchor="end" fill="#151515">60</text>
<line x1="395.8" y1="309.5" x2="395.8" y2="312.1" stroke="#1c1c1c" stroke-width="1.0"/>
<line x1="395.8" y1="298.3" x2="395.8" y2="306.3" stroke="#222" stroke-width="1.0"/>
<line x1="391.0" y1="298.3" x2="400.6" y2="298.3" stroke="#222" stroke-width="1.2"/>
<line x1="391.0" y1="306.3" x2="400.6" y2="306.3" stroke="#222" stroke-width="1.2"/>
<line x1="386.6" y1="302.5" x2="405.0" y2="302.5" stroke="#181818" stroke-width="1.45"/>
<text x="395.8" y="322.0" font-size="6.3" text-anchor="middle" fill="#151515">Nandi</text>
<line x1="428.0" y1="309.5" x2="428.0" y2="312.1" stroke="#1c1c1c" stroke-width="1.0"/>
<line x1="428.0" y1="283.1" x2="428.0" y2="304.4" stroke="#222" stroke-width="1.0"/>
<line x1="423.2" y1="283.1" x2="432.8" y2="283.1" stroke="#222" stroke-width="1.2"/>
<line x1="423.2" y1="304.4" x2="432.8" y2="304.4" stroke="#222" stroke-width="1.2"/>
<line x1="418.8" y1="294.3" x2="437.2" y2="294.3" stroke="#181818" stroke-width="1.45"/>
<text x="428.0" y="322.0" font-size="6.3" text-anchor="middle" fill="#151515">Kisumu</text>
<line x1="461.0" y1="309.5" x2="461.0" y2="312.1" stroke="#1c1c1c" stroke-width="1.0"/>
<line x1="461.0" y1="277.5" x2="461.0" y2="306.4" stroke="#222" stroke-width="1.0"/>
<line x1="456.2" y1="277.5" x2="465.8" y2="277.5" stroke="#222" stroke-width="1.2"/>
<line x1="456.2" y1="306.4" x2="465.8" y2="306.4" stroke="#222" stroke-width="1.2"/>
<line x1="451.8" y1="291.9" x2="470.2" y2="291.9" stroke="#181818" stroke-width="1.45"/>
<text x="461.0" y="322.0" font-size="6.3" text-anchor="middle" fill="#151515">BL no/low</text>
<text x="461.0" y="329.6" font-size="6.3" text-anchor="middle" fill="#151515">EBV</text>
<line x1="494.3" y1="309.5" x2="494.3" y2="312.1" stroke="#1c1c1c" stroke-width="1.0"/>
<line x1="494.3" y1="262.0" x2="494.3" y2="277.0" stroke="#222" stroke-width="1.0"/>
<line x1="489.5" y1="262.0" x2="499.1" y2="262.0" stroke="#222" stroke-width="1.2"/>
<line x1="489.5" y1="277.0" x2="499.1" y2="277.0" stroke="#222" stroke-width="1.2"/>
<line x1="485.1" y1="269.3" x2="503.5" y2="269.3" stroke="#181818" stroke-width="1.45"/>
<text x="494.3" y="322.0" font-size="6.3" text-anchor="middle" fill="#151515">BL high</text>
<text x="494.3" y="329.6" font-size="6.3" text-anchor="middle" fill="#151515">EBV</text>
<line x1="394.5" y1="249.5" x2="494.5" y2="249.5" stroke="#1c1c1c" stroke-width="1.1"/>
<text x="444.5" y="249.3" font-size="7.5" text-anchor="middle" fill="#111">***</text>
<line x1="427.5" y1="256.5" x2="494.5" y2="256.5" stroke="#1c1c1c" stroke-width="1.1"/>
<text x="461.3" y="256.3" font-size="7.5" text-anchor="middle" fill="#111">**</text>
<line x1="394.5" y1="263.5" x2="431.3" y2="263.5" stroke="#1c1c1c" stroke-width="1.1"/>
<text x="411.8" y="263.3" font-size="7.5" text-anchor="middle" fill="#111">**</text>
<text x="256.2" y="29.2" font-size="7.6" textLength="19.2" lengthAdjust="spacingAndGlyphs" fill="#151515">CD56</text>
<text x="275.4" y="25.6" font-size="4.3" textLength="15.0" lengthAdjust="spacingAndGlyphs" fill="#151515" style="stroke-width:0.1px">bright</text>
<text x="290.4" y="29.2" font-size="7.6" textLength="18.9" lengthAdjust="spacingAndGlyphs" fill="#151515">CD16</text>
<text x="309.3" y="25.6" font-size="4.3" textLength="10.8" lengthAdjust="spacingAndGlyphs" fill="#151515" style="stroke-width:0.1px">neg</text>
<text x="413.3" y="28.7" font-size="7.6" textLength="19.2" lengthAdjust="spacingAndGlyphs" fill="#151515">CD56</text>
<text x="432.5" y="25.1" font-size="4.3" textLength="15.0" lengthAdjust="spacingAndGlyphs" fill="#151515" style="stroke-width:0.1px">bright</text>
<text x="447.5" y="28.7" font-size="7.6" textLength="18.9" lengthAdjust="spacingAndGlyphs" fill="#151515">CD16</text>
<text x="466.4" y="25.1" font-size="4.3" textLength="9.5" lengthAdjust="spacingAndGlyphs" fill="#151515" style="stroke-width:0.1px">pos</text>
<text x="258.8" y="138.6" font-size="7.6" textLength="19.2" lengthAdjust="spacingAndGlyphs" fill="#151515">CD56</text>
<text x="278.0" y="135.0" font-size="4.3" textLength="10.0" lengthAdjust="spacingAndGlyphs" fill="#151515" style="stroke-width:0.1px">dim</text>
<text x="288.0" y="138.6" font-size="7.6" textLength="18.9" lengthAdjust="spacingAndGlyphs" fill="#151515">CD16</text>
<text x="306.9" y="135.0" font-size="4.3" textLength="10.8" lengthAdjust="spacingAndGlyphs" fill="#151515" style="stroke-width:0.1px">neg</text>
<text x="415.5" y="131.6" font-size="7.6" textLength="19.2" lengthAdjust="spacingAndGlyphs" fill="#151515">CD56</text>
<text x="434.7" y="128.0" font-size="4.3" textLength="10.0" lengthAdjust="spacingAndGlyphs" fill="#151515" style="stroke-width:0.1px">dim</text>
<text x="444.7" y="131.6" font-size="7.6" textLength="18.9" lengthAdjust="spacingAndGlyphs" fill="#151515">CD16</text>
<text x="463.6" y="128.0" font-size="4.3" textLength="9.5" lengthAdjust="spacingAndGlyphs" fill="#151515" style="stroke-width:0.1px">pos</text>
<text x="415.5" y="239.1" font-size="7.6" textLength="19.2" lengthAdjust="spacingAndGlyphs" fill="#151515">CD56</text>
<text x="434.7" y="235.5" font-size="4.3" textLength="10.8" lengthAdjust="spacingAndGlyphs" fill="#151515" style="stroke-width:0.1px">neg</text>
<text x="445.5" y="239.1" font-size="7.6" textLength="18.9" lengthAdjust="spacingAndGlyphs" fill="#151515">CD16</text>
<text x="464.4" y="235.5" font-size="4.3" textLength="9.5" lengthAdjust="spacingAndGlyphs" fill="#151515" style="stroke-width:0.1px">pos</text>
<line x1="194.1" y1="38" x2="194.1" y2="46.4" stroke="#111" stroke-width="1.5"/>
<path d="M194.1 31.8L197.4 40.2L190.8 40.2Z" fill="#111"/>
<line x1="194.1" y1="87.0" x2="194.1" y2="154.0" stroke="#111" stroke-width="1.5"/>
<line x1="194.1" y1="195.1" x2="194.1" y2="258" stroke="#111" stroke-width="1.5"/>
<line x1="194.1" y1="298.7" x2="194.1" y2="319.8" stroke="#111" stroke-width="1.5"/>
<text transform="translate(196.2,81.0) rotate(-90)" font-size="8.3" fill="#1a1a1a" style="stroke-width:0.35px" textLength="14.4" lengthAdjust="spacingAndGlyphs">CD56</text>
<text transform="translate(194.79999999999998,65.2) rotate(-90)" font-size="5.2" fill="#1a1a1a" textLength="12.600000000000001" lengthAdjust="spacingAndGlyphs">bright</text>
<text transform="translate(196.6,186.7) rotate(-90)" font-size="8.3" fill="#1a1a1a" style="stroke-width:0.35px" textLength="14.4" lengthAdjust="spacingAndGlyphs">CD56</text>
<text transform="translate(195.2,170.0) rotate(-90)" font-size="5.2" fill="#1a1a1a" textLength="6.599999999999994" lengthAdjust="spacingAndGlyphs">dim</text>
<text transform="translate(196.6,290.2) rotate(-90)" font-size="8.3" fill="#1a1a1a" style="stroke-width:0.35px" textLength="14.4" lengthAdjust="spacingAndGlyphs">CD56</text>
<text transform="translate(195.2,274.3) rotate(-90)" font-size="5.2" fill="#1a1a1a" textLength="7.400000000000034" lengthAdjust="spacingAndGlyphs">neg</text>
<line x1="206.4" y1="339.6" x2="269.2" y2="339.6" stroke="#111" stroke-width="1.5"/>
<line x1="304.2" y1="339.6" x2="426.3" y2="339.6" stroke="#111" stroke-width="1.5"/>
<line x1="465" y1="339.6" x2="499" y2="339.6" stroke="#111" stroke-width="1.5"/>
<path d="M503 339.6L496.5 336.6L496.5 342.6Z" fill="#111"/>
<text x="276.1" y="343.1" font-size="8.6" textLength="13.8" lengthAdjust="spacingAndGlyphs" fill="#1a1a1a" style="stroke-width:0.35px">CD16</text>
<text x="292.6" y="339.9" font-size="4.8" textLength="6.6" lengthAdjust="spacingAndGlyphs" fill="#1a1a1a" style="stroke-width:0.1px">neg</text>
<text x="434.0" y="343.1" font-size="8.6" textLength="13.8" lengthAdjust="spacingAndGlyphs" fill="#1a1a1a" style="stroke-width:0.35px">CD16</text>
<text x="450.5" y="339.9" font-size="4.8" textLength="6.6" lengthAdjust="spacingAndGlyphs" fill="#1a1a1a" style="stroke-width:0.1px">pos</text>
<text x="288.0" y="275.8" font-size="8.1" text-anchor="middle" textLength="59.2" lengthAdjust="spacingAndGlyphs" fill="#151515">% of NK cells in</text>
<text x="287.7" y="286.5" font-size="8.1" text-anchor="middle" textLength="49.1" lengthAdjust="spacingAndGlyphs" fill="#151515">each subsets</text>
<clipPath id="c497"><rect x="43.0" y="202.5" width="104.0" height="102.0"/></clipPath><g clip-path="url(#c497)"><path d="M86 214L104 212L116 224L128 232L128 266L86 266Z" fill="#000" opacity="0.09" filter="url(#b3)"/><ellipse cx="112" cy="246" rx="12" ry="14" fill="#000" opacity="0.12" filter="url(#b5)"/><ellipse cx="119.3" cy="239.5" rx="8" ry="12.5" fill="#000" opacity="0.85" filter="url(#b2)"/><ellipse cx="119.5" cy="238.5" rx="4.5" ry="7.5" fill="#000" opacity="0.6" filter="url(#b1)"/><ellipse cx="114" cy="248" rx="6" ry="7" fill="#000" opacity="0.25" filter="url(#b2)"/><ellipse cx="115.5" cy="279" rx="12" ry="9" fill="#000" opacity="0.1" filter="url(#b3)"/><ellipse cx="70" cy="219" rx="3" ry="6" fill="#000" opacity="0.35" filter="url(#b2)"/><rect x="66" y="210" width="8" height="56" fill="#000" opacity="0.1" filter="url(#b2)"/></g>
<path d="M119.6 244.6h.9M125.2 243.3h.9M124.6 245.3h.9M117.4 236.7h.9M118.2 243.4h.9M117.3 251.1h.9M121.9 243.8h.9M119.3 235.3h.9M122.6 242.6h.9M111.7 246.6h.9M126.1 241.2h.9M119.1 235.6h.9M122.4 248.3h.9M118.9 231.5h.9M117.9 242.0h.9M121.4 238.9h.9M123.0 231.8h.9M118.6 246.3h.9M118.9 241.1h.9M122.4 232.0h.9M115.8 242.6h.9M113.1 236.4h.9M121.2 227.6h.9M116.7 234.9h.9M111.4 240.6h.9M116.1 242.8h.9M117.5 240.0h.9M114.5 239.3h.9M113.2 241.8h.9M119.7 237.7h.9M123.3 246.1h.9M118.5 239.9h.9M116.4 240.8h.9M121.1 242.2h.9M122.5 232.7h.9M118.2 234.7h.9M121.8 248.2h.9M123.9 241.0h.9M118.6 237.3h.9M116.1 241.0h.9M121.0 236.1h.9M120.5 240.7h.9M124.1 235.0h.9M114.1 240.7h.9M116.7 229.5h.9M116.0 247.0h.9M112.2 235.9h.9M120.0 229.5h.9M121.7 237.7h.9M116.4 236.8h.9M125.3 239.9h.9M123.0 232.1h.9M122.1 241.4h.9M121.2 260.7h.9M123.5 231.3h.9M113.9 241.0h.9M122.1 237.1h.9M122.0 240.2h.9M112.1 228.1h.9M121.0 232.1h.9M118.4 241.8h.9M122.8 238.8h.9M117.7 248.8h.9M119.4 234.8h.9M120.9 240.0h.9M115.8 256.5h.9M122.0 234.4h.9M119.1 233.6h.9M121.6 238.8h.9M117.3 238.7h.9M124.1 244.1h.9M122.0 239.8h.9M118.8 234.5h.9M122.2 240.3h.9M124.8 254.8h.9M127.0 246.6h.9M112.9 222.3h.9M123.2 238.1h.9M121.5 233.7h.9M119.1 242.7h.9M115.3 238.0h.9M124.8 250.6h.9M114.2 244.6h.9M121.9 244.3h.9M125.0 240.1h.9M112.8 238.8h.9M118.2 241.0h.9M114.0 246.8h.9M120.5 242.2h.9M125.9 236.9h.9M128.0 246.7h.9M112.0 240.2h.9M117.1 238.5h.9M122.5 234.3h.9M126.1 235.6h.9M121.3 235.2h.9M116.4 222.2h.9M120.7 245.1h.9M119.4 242.4h.9M118.6 237.7h.9M116.4 245.3h.9M121.1 241.6h.9M120.8 241.2h.9M119.1 224.2h.9M118.6 237.6h.9M114.1 242.2h.9M117.5 248.7h.9M124.6 250.0h.9M118.7 247.6h.9M113.5 232.0h.9M125.1 225.8h.9M121.7 242.4h.9M119.8 244.8h.9M117.6 238.2h.9M113.4 240.3h.9M125.1 230.0h.9M116.1 236.3h.9M116.8 241.1h.9M122.0 241.8h.9M116.0 238.3h.9M118.4 240.9h.9M118.0 238.9h.9M120.3 243.6h.9M124.1 242.0h.9M119.6 235.7h.9M123.4 235.5h.9M117.7 249.5h.9M120.9 238.4h.9M110.5 245.0h.9M113.4 241.4h.9M122.8 235.6h.9M117.0 234.5h.9M121.9 239.7h.9M121.8 240.5h.9M125.1 242.7h.9M122.9 231.4h.9M123.8 235.4h.9M119.0 238.4h.9M116.6 248.6h.9M116.4 224.8h.9M117.5 241.6h.9M114.8 235.8h.9M117.2 241.6h.9M119.1 236.0h.9M120.6 241.2h.9M118.1 248.4h.9M111.4 241.1h.9M119.2 241.6h.9M120.4 241.2h.9M124.1 234.5h.9M121.9 242.3h.9M116.8 237.7h.9M116.5 234.1h.9M127.9 238.8h.9M122.7 237.6h.9M127.2 243.5h.9M128.4 238.7h.9M116.1 235.8h.9M121.1 247.7h.9M121.4 244.9h.9M121.9 246.6h.9M121.8 242.6h.9M120.3 238.3h.9M120.2 236.5h.9M113.2 237.3h.9M118.8 244.7h.9M116.4 239.7h.9M120.0 230.1h.9M117.5 238.8h.9M122.1 230.5h.9M122.9 240.0h.9M120.8 231.8h.9M120.8 231.4h.9M119.9 239.7h.9M117.6 238.5h.9M118.8 229.0h.9M117.4 243.5h.9M121.1 252.0h.9M119.6 230.1h.9M121.9 249.9h.9M113.9 234.9h.9M123.2 236.0h.9M116.3 237.9h.9M116.4 230.3h.9M118.7 246.8h.9M117.1 242.0h.9M120.7 234.5h.9M117.1 237.3h.9M115.0 229.9h.9M115.9 236.9h.9M125.0 244.6h.9M119.7 228.7h.9M114.6 236.4h.9M119.5 239.9h.9M113.0 245.3h.9M127.0 247.1h.9M113.1 236.3h.9M121.5 234.6h.9M121.8 241.7h.9M113.4 236.8h.9M120.8 237.1h.9M123.7 245.5h.9M121.5 249.1h.9M120.6 240.6h.9M123.5 237.8h.9M120.2 242.4h.9M120.9 227.7h.9M119.0 238.9h.9M122.2 232.6h.9M115.5 253.3h.9M122.8 243.3h.9M117.4 239.8h.9M114.9 237.8h.9M121.0 223.9h.9M126.6 243.3h.9M123.5 248.8h.9M117.3 234.6h.9M122.4 243.1h.9M117.6 243.3h.9M119.0 229.7h.9M119.9 244.6h.9M109.8 247.1h.9M120.3 240.4h.9M115.2 238.6h.9M116.6 243.7h.9M113.3 229.8h.9M113.1 239.6h.9M115.5 245.3h.9M123.0 231.5h.9M126.5 245.0h.9M119.4 236.5h.9M124.1 226.5h.9M118.4 238.4h.9M111.5 233.2h.9M120.1 240.9h.9M121.4 232.0h.9M117.7 245.3h.9M120.8 234.6h.9M121.9 241.1h.9M115.9 235.4h.9M113.3 237.1h.9M118.6 246.2h.9M118.6 240.3h.9M118.0 236.6h.9M123.6 231.5h.9M126.7 246.0h.9M117.8 243.4h.9M122.4 237.0h.9M116.1 242.4h.9M107.6 237.7h.9M105.4 240.3h.9M109.2 233.5h.9M120.7 232.4h.9M114.0 241.7h.9M114.9 233.1h.9M110.4 268.6h.9M110.9 239.8h.9M114.7 237.4h.9M98.3 238.4h.9M125.9 233.2h.9M106.7 219.4h.9M108.5 241.4h.9M123.7 247.0h.9M114.8 228.9h.9M113.3 244.0h.9M108.3 231.8h.9M100.5 243.6h.9M114.5 247.5h.9M122.6 248.8h.9M105.8 248.3h.9M123.9 236.9h.9M104.0 252.7h.9M107.1 239.4h.9M117.0 247.4h.9M113.0 251.0h.9M118.5 240.9h.9M107.1 231.1h.9M104.7 250.1h.9M98.1 232.7h.9M103.4 235.0h.9M104.4 232.9h.9M101.6 252.3h.9M115.5 242.3h.9M107.7 221.4h.9M97.1 251.3h.9M106.3 261.9h.9M103.0 238.2h.9M122.9 244.7h.9M122.3 249.0h.9M103.8 252.8h.9M101.2 244.3h.9M105.0 233.0h.9M122.0 251.4h.9M110.5 250.1h.9M106.5 230.6h.9M112.8 240.2h.9M122.6 246.6h.9M101.9 243.9h.9M109.9 249.1h.9M101.9 251.8h.9M130.4 249.3h.9M127.5 242.7h.9M120.6 230.4h.9M111.9 250.0h.9M118.3 257.9h.9M96.2 263.6h.9M115.2 243.5h.9M102.3 243.5h.9M102.4 258.3h.9M107.4 258.3h.9M110.2 247.3h.9M117.6 251.0h.9M118.6 236.3h.9M115.1 249.7h.9M105.4 235.6h.9M118.4 242.4h.9M112.0 242.6h.9M122.4 239.2h.9M105.7 222.7h.9M90.9 235.6h.9M109.2 247.2h.9M116.8 239.9h.9M111.4 248.1h.9M120.1 250.7h.9M117.0 252.3h.9M116.7 235.8h.9M108.9 244.1h.9M113.6 240.5h.9M114.6 235.1h.9M107.9 228.9h.9M104.1 242.9h.9M114.1 235.1h.9M120.7 265.4h.9M118.2 242.8h.9M117.0 241.6h.9M117.0 239.9h.9M115.1 234.4h.9M121.3 242.2h.9M128.7 236.1h.9M113.4 242.6h.9M115.1 243.5h.9M121.4 254.8h.9M126.5 229.7h.9M115.5 243.6h.9M115.9 260.0h.9M113.7 238.7h.9M103.4 242.1h.9M121.9 235.0h.9M111.0 217.6h.9M99.2 242.8h.9M111.8 255.6h.9M99.2 239.2h.9M105.0 225.4h.9M113.2 246.5h.9M105.7 244.6h.9M121.6 253.8h.9M101.3 252.9h.9M115.2 241.1h.9M117.5 247.8h.9M124.7 225.8h.9M120.4 255.0h.9M114.9 245.7h.9M113.7 254.7h.9M112.6 254.5h.9M122.2 241.0h.9M107.8 242.3h.9M117.2 235.1h.9M112.3 223.2h.9M115.0 242.5h.9M111.0 245.4h.9M107.8 250.9h.9M115.1 244.8h.9M115.3 248.4h.9M118.0 236.1h.9M116.7 226.2h.9M116.5 251.6h.9M120.9 249.9h.9M101.1 242.7h.9M113.2 239.6h.9M103.2 241.1h.9M115.0 242.5h.9M103.6 238.7h.9M105.4 223.7h.9M112.6 251.7h.9M124.3 228.9h.9M117.7 240.5h.9M115.5 240.8h.9M124.3 246.4h.9M105.5 227.7h.9M96.4 255.9h.9M109.7 250.4h.9M110.9 251.5h.9M123.0 256.5h.9M102.5 212.5h.9M125.6 257.0h.9M119.8 255.5h.9M116.1 238.5h.9M113.8 246.8h.9M109.3 225.8h.9M114.2 237.3h.9M102.2 237.6h.9M116.9 259.8h.9M112.2 237.4h.9M115.8 259.7h.9M116.0 244.1h.9M104.6 227.2h.9M123.6 266.1h.9M105.0 234.3h.9M120.2 250.2h.9M100.4 261.1h.9M116.1 238.6h.9M106.6 231.7h.9M113.5 254.4h.9M107.9 244.7h.9M95.7 231.7h.9M104.2 233.2h.9M113.7 240.1h.9M118.1 253.6h.9M101.4 241.1h.9M96.1 250.5h.9M106.1 260.5h.9M111.4 256.7h.9M108.1 258.4h.9M106.6 256.3h.9M119.9 227.9h.9M120.9 256.2h.9M119.1 247.3h.9M105.6 242.8h.9M113.7 233.2h.9M111.6 228.1h.9M101.7 232.9h.9M120.2 243.8h.9M113.8 232.2h.9M109.2 235.8h.9M124.5 237.8h.9M119.2 250.7h.9M120.0 241.0h.9M122.7 242.5h.9M118.9 257.3h.9M103.0 240.8h.9M110.0 250.0h.9M121.1 233.4h.9M107.0 247.3h.9M113.4 245.2h.9M116.3 245.8h.9M124.6 239.3h.9M123.5 233.7h.9M120.3 241.0h.9M111.6 239.3h.9M120.4 254.3h.9M117.3 253.1h.9M111.8 232.0h.9M124.0 250.3h.9M117.1 239.2h.9M107.1 248.6h.9M123.2 239.2h.9M111.1 229.3h.9M117.9 254.2h.9M100.9 248.5h.9M112.9 231.7h.9M105.5 225.1h.9M105.3 238.7h.9M97.8 232.2h.9M111.9 250.2h.9M115.0 258.7h.9M121.9 240.4h.9M112.1 257.8h.9M117.2 255.6h.9M102.2 239.7h.9M114.6 227.3h.9M109.8 252.5h.9M117.1 250.1h.9M114.5 267.5h.9M102.0 258.3h.9M98.3 251.8h.9M105.0 260.9h.9M119.0 233.5h.9M116.5 246.0h.9M116.3 241.3h.9M96.9 261.5h.9M91.5 249.7h.9M108.1 213.5h.9M110.4 257.8h.9M108.2 235.0h.9M115.9 251.8h.9M111.7 239.3h.9M103.6 246.5h.9M106.0 250.5h.9M114.2 246.1h.9M113.6 234.6h.9M112.4 258.1h.9M110.9 244.0h.9M114.0 251.2h.9M105.1 238.8h.9M110.2 263.0h.9M117.2 246.4h.9M117.6 247.8h.9M111.8 247.6h.9M116.2 235.0h.9M113.5 232.4h.9M98.0 246.4h.9M86.8 247.7h.9M119.6 248.7h.9M112.5 233.3h.9M99.1 249.5h.9M102.8 252.5h.9M123.8 254.2h.9M90.7 247.5h.9M110.4 232.0h.9M119.9 255.8h.9M114.1 236.9h.9M119.0 249.9h.9M112.0 228.5h.9M104.8 236.3h.9M102.1 255.0h.9M115.2 261.8h.9M124.4 255.9h.9M112.6 232.5h.9M121.4 234.7h.9M108.8 235.5h.9M103.5 250.8h.9M124.2 247.6h.9M125.5 245.8h.9M125.3 247.3h.9M109.5 250.0h.9M103.8 250.7h.9M103.6 261.1h.9M111.2 243.6h.9M117.7 246.2h.9M117.1 225.6h.9M101.5 230.9h.9M114.6 237.2h.9M113.1 232.3h.9M113.7 246.3h.9M112.8 254.5h.9M111.4 239.8h.9M117.7 239.2h.9M114.0 239.0h.9M114.8 245.4h.9M107.5 238.6h.9M116.2 248.3h.9M112.0 247.1h.9M96.1 247.5h.9M116.9 251.7h.9M110.9 244.4h.9M120.4 245.5h.9M111.7 261.6h.9M112.2 243.6h.9M114.7 252.0h.9M112.9 244.6h.9M109.4 239.4h.9M98.7 239.4h.9M127.7 235.8h.9M100.4 244.1h.9M110.3 238.0h.9M118.2 239.8h.9M116.0 256.2h.9M117.5 242.7h.9M119.2 255.4h.9M123.1 246.6h.9M115.4 252.6h.9M104.9 245.5h.9M114.8 270.3h.9M110.1 252.2h.9M108.6 254.0h.9M115.3 246.3h.9M124.7 252.5h.9M107.3 232.3h.9M107.3 235.4h.9M118.8 248.2h.9M117.4 252.1h.9M121.2 242.1h.9M114.8 240.3h.9M110.4 242.0h.9M114.7 231.9h.9M111.6 229.6h.9M102.1 243.1h.9M113.1 226.5h.9M111.6 234.1h.9M111.1 237.3h.9M109.6 233.3h.9M126.5 246.2h.9M118.6 239.4h.9M120.5 243.0h.9M108.1 233.7h.9M104.8 236.4h.9M110.7 248.9h.9M115.0 247.4h.9M110.2 239.1h.9M111.5 247.4h.9M120.7 245.6h.9M115.4 245.3h.9M105.1 259.7h.9M109.6 239.7h.9M107.7 247.9h.9M114.4 247.9h.9M103.7 241.4h.9M111.6 232.1h.9M118.5 250.6h.9M113.2 246.3h.9M105.7 244.2h.9M108.1 243.9h.9M114.0 243.9h.9M116.9 234.7h.9M119.7 246.6h.9M111.8 225.6h.9M102.5 243.3h.9M124.4 228.6h.9M115.4 240.1h.9M116.2 250.7h.9M115.4 241.0h.9M104.7 238.7h.9M110.4 248.7h.9M115.1 240.8h.9M121.3 239.4h.9M113.5 239.6h.9M88.0 258.6h.9M111.1 250.1h.9M115.8 248.3h.9M123.4 231.6h.9M118.7 249.7h.9M124.4 248.2h.9M123.8 232.3h.9M120.5 263.0h.9M101.9 226.6h.9M119.8 255.6h.9M117.8 251.4h.9M108.8 225.7h.9M117.7 241.0h.9M116.3 257.8h.9M109.3 254.8h.9M112.0 226.8h.9M110.9 238.2h.9M114.8 231.7h.9M109.6 233.1h.9M117.4 237.0h.9M97.7 261.8h.9M110.7 244.7h.9M99.5 241.1h.9M109.1 240.0h.9M117.1 250.0h.9M113.2 250.3h.9M112.1 234.2h.9M113.6 258.0h.9M125.6 232.5h.9M104.1 240.6h.9M120.1 247.9h.9M100.9 260.5h.9M109.3 239.9h.9M114.3 246.2h.9M106.2 256.4h.9M114.6 249.6h.9M118.8 254.6h.9M103.5 253.7h.9M112.4 245.9h.9M110.0 249.7h.9M97.5 252.5h.9M111.5 243.1h.9M106.6 259.3h.9M123.7 223.5h.9M106.0 234.1h.9M126.6 257.8h.9M108.7 247.6h.9M117.3 247.1h.9M116.6 254.2h.9M119.4 237.8h.9M120.2 251.0h.9M124.2 242.1h.9M126.9 242.2h.9M110.2 242.7h.9M103.0 254.5h.9M91.6 232.2h.9M109.9 239.7h.9M119.1 250.0h.9M116.0 231.2h.9M113.9 227.6h.9M110.2 249.1h.9M107.9 243.4h.9M110.7 241.9h.9M116.1 244.8h.9M98.9 233.6h.9M118.8 272.5h.9M101.3 233.5h.9M94.6 246.7h.9M92.4 251.9h.9M99.0 236.6h.9M102.2 230.4h.9M125.9 250.6h.9M120.6 259.0h.9M117.3 241.7h.9M123.4 226.3h.9M102.1 257.0h.9M127.4 244.3h.9M124.1 251.4h.9M93.8 224.7h.9M101.9 256.1h.9M98.9 237.1h.9M94.1 260.9h.9M125.4 231.4h.9M102.4 220.3h.9M122.5 234.7h.9M111.1 253.3h.9M88.5 253.1h.9M104.2 259.0h.9M118.8 229.7h.9M99.4 247.3h.9M98.3 223.4h.9M89.9 230.3h.9M105.9 222.1h.9M125.6 248.9h.9M86.8 261.2h.9M123.2 247.7h.9M111.2 247.7h.9M97.8 261.6h.9M123.7 235.2h.9M125.0 245.6h.9M126.9 257.2h.9M105.4 228.9h.9M103.4 252.3h.9M113.9 223.5h.9M123.3 237.0h.9M100.7 228.5h.9M99.9 239.9h.9M103.2 229.4h.9M86.9 222.8h.9M121.3 240.4h.9M105.2 238.0h.9M105.6 253.8h.9M112.6 220.6h.9M120.0 249.2h.9M115.6 222.0h.9M100.0 242.3h.9M98.4 220.9h.9M100.0 261.9h.9M108.4 242.4h.9M120.1 242.0h.9M86.3 223.3h.9M111.4 256.2h.9M121.4 232.2h.9M109.6 241.6h.9M102.0 253.2h.9M105.9 256.4h.9M107.6 237.8h.9M112.3 222.8h.9M89.2 265.4h.9M119.3 231.7h.9M109.2 221.9h.9M97.6 248.5h.9M124.5 260.2h.9M102.7 224.0h.9M118.5 222.1h.9M98.5 251.1h.9M109.0 246.3h.9M94.0 231.9h.9M97.5 232.2h.9M99.8 255.3h.9M92.0 221.0h.9M117.9 231.1h.9M104.9 236.7h.9M100.6 255.6h.9M110.6 234.5h.9M95.7 222.5h.9M104.4 254.2h.9M109.8 251.7h.9M111.9 225.9h.9M103.7 253.5h.9M117.2 248.7h.9M122.4 236.9h.9M126.5 246.6h.9M109.5 243.1h.9M126.5 256.5h.9M125.4 263.8h.9M113.5 235.7h.9M91.7 224.2h.9M112.9 236.8h.9M108.3 247.6h.9M115.5 231.8h.9M97.4 227.1h.9M127.7 229.8h.9M100.5 259.0h.9M128.0 252.8h.9M97.6 225.8h.9M106.1 233.8h.9M114.6 232.5h.9M96.9 225.2h.9M103.1 258.6h.9M113.8 233.3h.9M117.6 246.0h.9M124.5 237.6h.9M109.2 223.2h.9M126.4 221.7h.9M97.8 252.0h.9M111.6 248.9h.9M117.8 242.6h.9M89.5 228.2h.9M119.1 235.7h.9M120.4 243.3h.9M109.6 229.9h.9M124.8 246.5h.9M115.4 258.6h.9M101.4 228.2h.9M119.9 262.8h.9M107.8 243.4h.9M114.7 265.0h.9M127.5 264.5h.9M115.2 222.9h.9M118.6 251.4h.9M120.3 231.2h.9M94.4 248.6h.9M87.6 260.9h.9M89.2 241.1h.9M105.5 250.0h.9M126.6 250.7h.9M104.7 228.6h.9M124.8 239.6h.9M98.3 233.4h.9M92.0 242.2h.9M103.1 255.1h.9M121.5 226.7h.9M126.6 245.4h.9M108.6 243.2h.9M102.0 237.7h.9M119.1 258.7h.9M103.9 236.1h.9M98.7 256.8h.9M117.8 223.3h.9M89.5 240.2h.9M118.6 225.0h.9M126.1 259.0h.9M90.3 250.6h.9M118.8 229.8h.9M87.0 237.1h.9M91.2 225.9h.9M98.3 260.7h.9M128.0 261.1h.9M88.2 261.1h.9M105.2 247.9h.9M104.6 232.2h.9M93.4 241.0h.9M127.1 250.6h.9M95.9 239.6h.9M123.9 222.7h.9M108.8 244.2h.9M115.9 224.0h.9M117.2 230.8h.9M114.3 257.6h.9M120.0 248.2h.9M123.0 256.7h.9M91.9 251.2h.9M89.7 250.3h.9M105.1 231.4h.9M90.5 252.6h.9M110.8 225.8h.9M125.5 220.8h.9M107.6 235.6h.9M93.1 227.2h.9M90.9 252.0h.9M108.3 233.1h.9M117.2 221.6h.9M119.9 255.7h.9M117.7 263.0h.9M105.5 252.7h.9M122.8 263.9h.9M108.7 256.0h.9M114.7 262.8h.9M86.1 251.0h.9M106.6 256.1h.9M89.6 256.6h.9M94.9 225.4h.9M98.7 234.7h.9M110.1 248.4h.9M89.2 234.8h.9M115.9 260.2h.9M102.6 222.5h.9M95.2 225.9h.9M126.1 235.1h.9M113.8 235.8h.9M100.1 258.3h.9M91.2 220.7h.9M106.6 258.1h.9M118.4 264.7h.9M107.5 222.3h.9M99.0 263.8h.9M90.7 250.4h.9M95.4 226.1h.9M119.2 258.2h.9M92.7 225.5h.9M127.2 237.7h.9M116.6 231.0h.9M102.9 237.7h.9M93.9 226.7h.9M105.6 237.4h.9M126.0 246.2h.9M91.0 241.4h.9M96.2 244.0h.9M89.2 261.1h.9M116.4 259.2h.9M125.9 225.2h.9M109.4 253.8h.9M98.5 256.6h.9M126.5 261.8h.9M110.7 238.1h.9M126.3 262.5h.9M101.7 245.6h.9M92.1 241.6h.9M88.9 243.4h.9M97.2 239.0h.9M104.2 251.7h.9M118.1 244.5h.9M105.7 260.4h.9M97.3 241.6h.9M123.8 222.4h.9M110.2 227.2h.9M111.3 239.0h.9M120.4 241.7h.9M114.2 257.4h.9M96.1 247.2h.9M126.0 227.8h.9M92.8 233.9h.9M92.7 244.7h.9M113.3 256.5h.9M110.5 252.6h.9M95.6 249.5h.9M115.5 231.8h.9M90.2 246.2h.9M106.0 231.3h.9M125.8 223.0h.9M123.6 254.9h.9M111.4 249.9h.9M119.3 265.5h.9M113.9 254.4h.9M95.8 231.6h.9M122.1 221.3h.9M111.7 239.8h.9M111.0 235.6h.9M126.0 243.7h.9M109.5 237.2h.9M99.7 222.2h.9M103.7 223.1h.9M109.3 236.5h.9M122.6 247.1h.9M121.4 228.1h.9M102.7 228.3h.9M106.5 230.7h.9M88.1 254.1h.9M112.8 255.2h.9M119.7 242.4h.9M94.3 222.5h.9M112.7 263.3h.9M91.9 260.0h.9M121.2 233.9h.9M116.7 220.4h.9M125.2 242.6h.9M97.9 227.7h.9M93.2 237.5h.9M110.0 238.4h.9M88.4 234.3h.9M120.5 262.0h.9M94.6 237.9h.9M91.6 225.2h.9M92.2 246.4h.9M115.5 260.9h.9M88.1 230.6h.9M103.7 243.3h.9M93.6 237.4h.9M118.8 251.1h.9M88.3 234.4h.9M94.2 231.7h.9M118.4 264.2h.9M107.7 257.9h.9M90.8 252.3h.9M127.6 250.2h.9M101.6 263.0h.9M103.6 222.6h.9M117.1 240.3h.9M106.7 248.7h.9M120.8 225.9h.9M108.5 265.8h.9M96.3 251.6h.9M108.5 254.9h.9M121.2 264.4h.9M97.8 246.6h.9M112.7 262.0h.9M108.6 221.3h.9M103.1 213.8h.9M94.2 215.0h.9M92.9 214.2h.9M103.1 213.6h.9M111.8 209.6h.9M121.9 215.6h.9M96.2 212.5h.9M122.2 219.4h.9M113.8 209.9h.9M92.7 208.3h.9M87.3 219.6h.9M87.0 214.1h.9M126.5 208.9h.9M96.3 218.2h.9M88.8 209.9h.9M113.7 217.2h.9M97.6 216.1h.9M125.6 210.0h.9M113.9 215.9h.9M123.2 213.3h.9M113.3 205.5h.9M116.8 221.6h.9M105.4 209.4h.9M103.8 211.5h.9M118.8 220.0h.9M93.7 216.7h.9M88.8 207.9h.9M124.3 215.9h.9M102.1 205.4h.9M109.5 217.7h.9M102.6 215.3h.9M117.3 216.3h.9M118.6 214.7h.9M93.7 211.0h.9M118.4 216.1h.9M99.3 212.8h.9M109.9 217.7h.9M106.3 205.6h.9M121.5 209.5h.9M103.5 207.7h.9M120.7 213.7h.9M125.5 215.6h.9M110.2 208.7h.9M120.3 221.1h.9M123.3 211.3h.9M95.6 205.2h.9M105.0 217.3h.9M123.9 206.9h.9M118.0 205.2h.9M121.6 209.9h.9M111.3 213.0h.9M101.9 209.1h.9M119.0 210.6h.9M100.5 207.2h.9M110.4 211.1h.9M94.8 218.5h.9M102.8 210.3h.9M104.8 214.9h.9M90.8 208.6h.9M90.3 207.1h.9M123.2 210.4h.9M127.4 205.6h.9M92.8 213.1h.9M101.4 217.0h.9M114.3 212.2h.9M92.0 208.8h.9M88.8 210.5h.9M124.1 218.9h.9M97.8 209.1h.9M69.1 215.4h.9M71.0 218.0h.9M72.8 213.7h.9M71.2 220.4h.9M70.8 208.4h.9M70.1 216.9h.9M67.5 218.0h.9M67.6 210.3h.9M66.2 214.1h.9M70.9 222.0h.9M69.2 215.4h.9M68.2 212.0h.9M68.4 217.5h.9M72.6 216.5h.9M74.8 218.7h.9M71.1 225.2h.9M68.2 216.0h.9M66.1 216.6h.9M75.1 212.9h.9M71.1 215.7h.9M66.9 215.9h.9M72.7 219.4h.9M65.7 218.5h.9M68.8 212.6h.9M69.3 213.9h.9M69.0 222.2h.9M67.0 211.7h.9M76.1 219.4h.9M68.9 223.3h.9M70.9 218.9h.9M70.0 217.1h.9M65.8 222.1h.9M68.5 217.6h.9M70.5 216.0h.9M72.3 215.1h.9M69.1 221.2h.9M70.9 219.1h.9M69.1 223.0h.9M71.5 214.5h.9M63.6 214.6h.9M71.5 214.0h.9M68.4 217.3h.9M68.5 212.9h.9M62.6 220.2h.9M67.2 217.5h.9M71.5 211.6h.9M68.2 207.8h.9M68.3 222.5h.9M71.2 215.7h.9M70.7 216.7h.9M68.5 214.1h.9M69.5 217.8h.9M69.0 207.3h.9M71.6 207.0h.9M72.0 208.6h.9M74.5 216.3h.9M72.3 219.2h.9M71.7 218.1h.9M70.4 215.4h.9M72.4 210.2h.9M67.4 219.6h.9M75.6 214.7h.9M70.7 215.9h.9M73.6 215.7h.9M67.9 213.9h.9M72.7 212.7h.9M71.0 213.3h.9M69.5 210.2h.9M68.3 217.1h.9M67.7 215.2h.9M74.6 220.6h.9M73.2 207.8h.9M70.3 221.3h.9M70.5 215.7h.9M68.1 215.2h.9M65.2 212.4h.9M65.4 212.3h.9M68.4 209.3h.9M69.6 220.0h.9M67.0 215.0h.9M72.1 219.2h.9M71.3 219.7h.9M70.4 213.7h.9M65.4 214.9h.9M69.4 214.4h.9M69.9 220.6h.9M66.7 216.6h.9M64.3 216.7h.9M75.0 219.2h.9M71.6 215.6h.9M69.0 225.2h.9M74.1 211.8h.9M72.9 221.6h.9M71.2 222.3h.9M70.6 210.9h.9M72.0 219.9h.9M73.8 217.3h.9M70.2 219.9h.9M69.4 210.6h.9M71.5 217.1h.9M62.7 211.6h.9M70.2 214.5h.9M68.9 222.4h.9M70.0 215.4h.9M69.5 205.9h.9M70.9 209.7h.9M70.3 210.9h.9M70.2 220.6h.9M67.8 247.7h.9M65.0 230.6h.9M73.6 252.8h.9M70.8 240.0h.9M71.1 251.2h.9M67.4 223.4h.9M74.6 234.8h.9M69.6 245.9h.9M63.7 245.6h.9M66.4 248.9h.9M67.3 241.6h.9M69.5 239.1h.9M72.4 247.8h.9M67.7 252.9h.9M68.1 222.0h.9M77.1 237.5h.9M70.3 239.1h.9M68.3 243.8h.9M70.1 254.9h.9M66.0 224.5h.9M71.7 248.6h.9M73.1 219.2h.9M68.1 231.9h.9M73.2 234.9h.9M69.1 238.2h.9M70.9 233.8h.9M67.6 235.0h.9M67.4 237.3h.9M65.2 238.2h.9M70.7 217.8h.9M69.1 223.5h.9M69.2 236.0h.9M66.4 248.6h.9M66.3 254.7h.9M68.0 278.7h.9M71.5 243.1h.9M71.0 231.5h.9M67.8 244.0h.9M70.9 250.5h.9M75.6 243.5h.9M70.3 228.0h.9M76.5 240.4h.9M71.4 241.2h.9M74.3 223.5h.9M68.3 226.1h.9M73.8 257.3h.9M66.2 212.9h.9M70.8 243.9h.9M68.9 238.4h.9M63.6 259.7h.9M65.6 249.6h.9M73.6 230.6h.9M71.6 258.0h.9M74.1 234.5h.9M70.6 267.5h.9M60.7 263.2h.9M70.8 240.7h.9M68.2 251.8h.9M68.4 244.1h.9M68.6 230.1h.9M67.5 255.5h.9M66.9 247.3h.9M74.0 252.8h.9M71.4 255.6h.9M67.9 260.1h.9M68.6 255.2h.9M73.1 240.7h.9M71.2 243.0h.9M70.6 247.2h.9M66.1 240.3h.9M68.6 238.8h.9M66.4 265.9h.9M63.8 248.2h.9M72.8 266.4h.9M68.9 232.0h.9M68.7 241.4h.9M66.9 236.3h.9M72.4 236.9h.9M76.7 238.2h.9M71.8 240.4h.9M72.9 236.3h.9M66.0 265.2h.9M70.5 250.7h.9M70.7 232.4h.9M74.7 234.9h.9M70.0 251.6h.9M67.0 249.0h.9M69.8 234.1h.9M68.6 253.9h.9M74.6 223.5h.9M72.1 235.9h.9M71.1 264.2h.9M70.5 208.4h.9M72.7 239.4h.9M68.4 254.7h.9M67.0 240.1h.9M63.9 231.9h.9M73.8 230.5h.9M71.6 215.2h.9M72.0 224.9h.9M70.1 242.8h.9M75.3 234.7h.9M66.8 241.8h.9M73.8 240.1h.9M67.3 245.6h.9M68.5 220.6h.9M66.1 238.0h.9M70.2 237.6h.9M69.0 238.0h.9M71.3 230.5h.9M68.1 213.8h.9M65.5 250.1h.9M71.8 252.5h.9M74.1 272.5h.9M72.3 251.4h.9M69.8 263.1h.9M71.2 249.6h.9M64.5 237.1h.9M68.9 248.4h.9M73.6 227.0h.9M117.2 279.8h.9M114.7 265.8h.9M108.2 272.0h.9M124.0 264.4h.9M123.2 277.5h.9M118.7 275.9h.9M121.2 282.1h.9M126.9 293.8h.9M114.6 274.9h.9M106.1 279.1h.9M108.9 276.4h.9M120.3 259.4h.9M117.1 273.7h.9M105.2 274.0h.9M124.7 280.9h.9M117.0 273.2h.9M126.7 270.0h.9M123.4 283.1h.9M112.5 278.6h.9M116.2 272.8h.9M110.4 273.8h.9M109.7 276.9h.9M113.5 284.8h.9M119.0 289.0h.9M125.1 269.9h.9M109.4 287.2h.9M120.4 279.4h.9M115.9 281.6h.9M114.1 285.8h.9M123.4 272.3h.9M113.1 285.0h.9M125.2 269.9h.9M113.3 275.8h.9M109.2 273.1h.9M121.0 290.8h.9M105.5 290.5h.9M107.4 284.3h.9M114.4 282.7h.9M115.7 275.4h.9M113.8 291.2h.9M102.0 288.8h.9M106.4 285.3h.9M119.3 278.3h.9M119.4 276.7h.9M108.7 278.5h.9M117.6 288.4h.9M117.1 272.5h.9M122.8 279.9h.9M110.6 290.5h.9M125.9 285.3h.9M113.6 291.3h.9M125.8 282.0h.9M122.2 282.2h.9M108.7 288.8h.9M113.6 283.7h.9M117.7 281.6h.9M122.8 275.7h.9M106.1 268.9h.9M112.3 289.6h.9M120.1 276.3h.9M119.1 274.1h.9M108.4 285.3h.9M109.5 273.1h.9M118.7 269.9h.9M108.6 275.3h.9M117.4 278.9h.9M122.1 281.2h.9M115.8 282.9h.9M97.1 286.0h.9M123.9 278.5h.9M123.8 281.9h.9M125.6 278.5h.9M121.7 274.9h.9M104.0 282.1h.9M125.6 281.8h.9M118.1 292.2h.9M122.3 283.5h.9M114.6 274.5h.9M114.0 283.5h.9M114.1 277.6h.9M126.9 290.3h.9M117.7 267.5h.9M114.3 274.8h.9M106.8 274.8h.9M119.0 280.2h.9M115.8 278.5h.9M116.8 268.3h.9M122.6 266.5h.9M120.8 280.6h.9M115.8 289.5h.9M117.3 289.4h.9M116.4 276.6h.9M120.8 282.5h.9M120.6 273.4h.9M116.7 269.4h.9M109.8 287.8h.9M121.6 284.0h.9M122.0 277.1h.9M108.3 276.8h.9M118.4 285.7h.9M113.0 281.6h.9M100.5 277.1h.9M115.4 281.3h.9M122.4 279.3h.9M110.6 276.6h.9M110.8 274.4h.9M122.8 285.8h.9M108.0 276.1h.9M109.1 271.2h.9M113.5 291.9h.9M120.0 288.0h.9M120.1 283.0h.9M112.0 278.9h.9M113.5 280.7h.9M116.3 269.4h.9M113.0 279.3h.9M109.6 281.3h.9M108.0 278.0h.9M120.6 282.4h.9M114.1 274.1h.9M120.0 268.5h.9M110.4 279.2h.9M115.7 275.1h.9M118.0 270.2h.9M118.4 276.6h.9M118.8 279.5h.9M118.8 275.2h.9M114.7 285.7h.9M120.2 274.5h.9M112.6 284.3h.9M113.0 275.1h.9M120.6 289.1h.9M124.3 269.9h.9M121.4 282.9h.9M124.1 279.7h.9M115.3 284.5h.9M114.0 268.5h.9M120.2 271.1h.9M120.4 273.5h.9M127.3 279.3h.9M126.5 279.8h.9M102.9 279.3h.9M121.1 277.4h.9M111.0 274.3h.9M100.9 269.7h.9M118.4 276.2h.9M114.5 282.8h.9M113.2 286.1h.9M106.7 275.6h.9M108.5 286.5h.9M114.1 269.8h.9M105.2 284.4h.9M114.8 271.6h.9M116.4 280.8h.9M114.5 272.5h.9M117.7 272.4h.9M115.1 275.3h.9M107.5 288.8h.9M108.4 274.5h.9M116.5 283.3h.9M122.3 280.1h.9M116.6 281.2h.9M112.1 281.2h.9M116.7 283.4h.9M102.9 270.9h.9M108.6 279.4h.9M112.9 281.5h.9M115.1 275.1h.9M113.3 281.5h.9M113.6 272.1h.9M107.2 284.1h.9M111.5 274.3h.9M117.2 277.2h.9M102.7 284.5h.9M107.1 286.5h.9M113.1 275.2h.9M125.8 274.7h.9M120.2 285.9h.9M126.4 259.4h.9M124.9 288.2h.9M112.4 287.9h.9M115.0 271.8h.9M107.3 287.2h.9M123.7 281.6h.9M120.6 282.2h.9M119.6 263.2h.9M120.1 275.7h.9M118.7 277.8h.9M117.0 276.3h.9M117.4 276.4h.9M124.0 277.1h.9M110.0 259.4h.9M108.2 277.7h.9M115.5 274.3h.9M123.6 278.5h.9M117.2 275.7h.9M114.1 279.0h.9M121.3 281.0h.9M63.9 223.1h.9M70.6 221.6h.9M54.5 231.6h.9M68.4 235.6h.9M49.7 255.7h.9M56.7 232.4h.9M66.3 247.7h.9M58.0 225.1h.9M63.3 233.1h.9M73.8 224.5h.9M53.0 228.5h.9M71.6 247.0h.9M83.5 218.9h.9M78.2 234.4h.9M60.6 249.5h.9M70.9 205.6h.9M50.4 229.5h.9M74.1 251.4h.9M75.2 244.4h.9M54.6 253.9h.9M60.8 220.4h.9M69.6 241.9h.9M71.7 223.5h.9M70.2 210.1h.9M75.2 252.2h.9M79.2 222.9h.9M64.3 249.0h.9M46.6 251.3h.9M77.4 253.4h.9M50.3 222.4h.9M66.7 253.1h.9M73.8 219.7h.9M77.5 244.9h.9M66.7 205.5h.9M70.7 252.1h.9M83.6 208.8h.9M76.0 248.1h.9M57.1 243.0h.9M82.5 208.8h.9M72.4 240.0h.9" stroke="#000" stroke-width=".9" stroke-opacity="0.42" fill="none"/>
<rect x="42.5" y="200.5" width="105.00" height="105.00" fill="none" stroke="#8c8c8c" stroke-width="0.9"/>
<line x1="42.5" y1="202.5" x2="147.5" y2="202.5" stroke="#505050" stroke-width="0.9"/>
<path d="M85.5 202.6V299.5H144.5V202.6" fill="none" stroke="#2a2a2a" stroke-width="1.0"/>
<path d="M42.5 235.5H101.1L144.5 210.9" fill="none" stroke="#2a2a2a" stroke-width="1.1"/>
<line x1="42.5" y1="264.5" x2="144.5" y2="264.5" stroke="#2a2a2a" stroke-width="1.0"/>
<line x1="39.9" y1="210.3" x2="42.5" y2="210.3" stroke="#333" stroke-width="0.8"/>
<text x="26.99" y="213.6" font-size="6.0" fill="#151515" style="stroke-width:0.2px">10</text>
<text x="34.36" y="211.2" font-size="4.2" fill="#151515" style="stroke-width:0.12px">5</text>
<line x1="39.9" y1="235.3" x2="42.5" y2="235.3" stroke="#333" stroke-width="0.8"/>
<text x="26.99" y="238.6" font-size="6.0" fill="#151515" style="stroke-width:0.2px">10</text>
<text x="34.36" y="236.2" font-size="4.2" fill="#151515" style="stroke-width:0.12px">4</text>
<line x1="39.9" y1="264.3" x2="42.5" y2="264.3" stroke="#333" stroke-width="0.8"/>
<text x="26.99" y="267.6" font-size="6.0" fill="#151515" style="stroke-width:0.2px">10</text>
<text x="34.36" y="265.2" font-size="4.2" fill="#151515" style="stroke-width:0.12px">3</text>
<line x1="39.9" y1="281.2" x2="42.5" y2="281.2" stroke="#333" stroke-width="0.8"/>
<text x="35.400000000000006" y="283.7" font-size="6.0" text-anchor="end" fill="#151515" style="stroke-width:0.2px">0</text>
<line x1="39.9" y1="299.5" x2="42.5" y2="299.5" stroke="#333" stroke-width="0.8"/>
<text x="24.59" y="302.8" font-size="5.4" fill="#151515" style="stroke-width:0.1px">-</text>
<text x="26.99" y="302.8" font-size="6.0" fill="#151515" style="stroke-width:0.2px">10</text>
<text x="34.36" y="300.4" font-size="4.2" fill="#151515" style="stroke-width:0.12px">3</text>
<line x1="41.2" y1="217.8" x2="42.5" y2="217.8" stroke="#777" stroke-width="0.5"/>
<line x1="41.2" y1="222.8" x2="42.5" y2="222.8" stroke="#777" stroke-width="0.5"/>
<line x1="41.2" y1="225.8" x2="42.5" y2="225.8" stroke="#777" stroke-width="0.5"/>
<line x1="41.2" y1="228.3" x2="42.5" y2="228.3" stroke="#777" stroke-width="0.5"/>
<line x1="41.2" y1="230.3" x2="42.5" y2="230.3" stroke="#777" stroke-width="0.5"/>
<line x1="41.2" y1="232.05" x2="42.5" y2="232.05" stroke="#777" stroke-width="0.5"/>
<line x1="41.2" y1="233.55" x2="42.5" y2="233.55" stroke="#777" stroke-width="0.5"/>
<line x1="41.2" y1="244.0" x2="42.5" y2="244.0" stroke="#777" stroke-width="0.5"/>
<line x1="41.2" y1="249.8" x2="42.5" y2="249.8" stroke="#777" stroke-width="0.5"/>
<line x1="41.2" y1="253.28" x2="42.5" y2="253.28" stroke="#777" stroke-width="0.5"/>
<line x1="41.2" y1="256.18" x2="42.5" y2="256.18" stroke="#777" stroke-width="0.5"/>
<line x1="41.2" y1="258.5" x2="42.5" y2="258.5" stroke="#777" stroke-width="0.5"/>
<line x1="41.2" y1="260.53000000000003" x2="42.5" y2="260.53000000000003" stroke="#777" stroke-width="0.5"/>
<line x1="41.2" y1="262.27000000000004" x2="42.5" y2="262.27000000000004" stroke="#777" stroke-width="0.5"/>
<line x1="41.2" y1="269.37" x2="42.5" y2="269.37" stroke="#777" stroke-width="0.5"/>
<line x1="41.2" y1="272.75" x2="42.5" y2="272.75" stroke="#777" stroke-width="0.5"/>
<line x1="41.2" y1="274.778" x2="42.5" y2="274.778" stroke="#777" stroke-width="0.5"/>
<line x1="41.2" y1="276.468" x2="42.5" y2="276.468" stroke="#777" stroke-width="0.5"/>
<line x1="41.2" y1="277.82" x2="42.5" y2="277.82" stroke="#777" stroke-width="0.5"/>
<line x1="41.2" y1="279.003" x2="42.5" y2="279.003" stroke="#777" stroke-width="0.5"/>
<line x1="41.2" y1="280.017" x2="42.5" y2="280.017" stroke="#777" stroke-width="0.5"/>
<line x1="41.2" y1="286.69" x2="42.5" y2="286.69" stroke="#777" stroke-width="0.5"/>
<line x1="41.2" y1="290.35" x2="42.5" y2="290.35" stroke="#777" stroke-width="0.5"/>
<line x1="41.2" y1="292.546" x2="42.5" y2="292.546" stroke="#777" stroke-width="0.5"/>
<line x1="41.2" y1="294.376" x2="42.5" y2="294.376" stroke="#777" stroke-width="0.5"/>
<line x1="41.2" y1="295.84" x2="42.5" y2="295.84" stroke="#777" stroke-width="0.5"/>
<line x1="41.2" y1="297.121" x2="42.5" y2="297.121" stroke="#777" stroke-width="0.5"/>
<line x1="41.2" y1="298.219" x2="42.5" y2="298.219" stroke="#777" stroke-width="0.5"/>
<line x1="49.5" y1="305.5" x2="49.5" y2="308.1" stroke="#333" stroke-width="0.8"/>
<text x="48.0" y="317.2" font-size="5.4" fill="#151515" style="stroke-width:0.1px">-</text>
<text x="50.4" y="317.2" font-size="6.0" fill="#151515" style="stroke-width:0.2px">10</text>
<text x="57.77" y="314.8" font-size="4.2" fill="#151515" style="stroke-width:0.12px">3</text>
<line x1="67.1" y1="305.5" x2="67.1" y2="308.1" stroke="#333" stroke-width="0.8"/>
<text x="70.1" y="317.2" font-size="6.0" text-anchor="middle" fill="#151515" style="stroke-width:0.2px">0</text>
<line x1="84.8" y1="305.5" x2="84.8" y2="308.1" stroke="#333" stroke-width="0.8"/>
<text x="85.5" y="317.2" font-size="6.0" fill="#151515" style="stroke-width:0.2px">10</text>
<text x="92.87" y="314.8" font-size="4.2" fill="#151515" style="stroke-width:0.12px">3</text>
<line x1="113.6" y1="305.5" x2="113.6" y2="308.1" stroke="#333" stroke-width="0.8"/>
<text x="114.0" y="317.2" font-size="6.0" fill="#151515" style="stroke-width:0.2px">10</text>
<text x="121.37" y="314.8" font-size="4.2" fill="#151515" style="stroke-width:0.12px">4</text>
<line x1="139.4" y1="305.5" x2="139.4" y2="308.1" stroke="#333" stroke-width="0.8"/>
<text x="138.4" y="317.2" font-size="6.0" fill="#151515" style="stroke-width:0.2px">10</text>
<text x="145.77" y="314.8" font-size="4.2" fill="#151515" style="stroke-width:0.12px">5</text>
<line x1="54.78" y1="305.5" x2="54.78" y2="306.8" stroke="#777" stroke-width="0.5"/>
<line x1="58.3" y1="305.5" x2="58.3" y2="306.8" stroke="#777" stroke-width="0.5"/>
<line x1="60.412" y1="305.5" x2="60.412" y2="306.8" stroke="#777" stroke-width="0.5"/>
<line x1="62.172" y1="305.5" x2="62.172" y2="306.8" stroke="#777" stroke-width="0.5"/>
<line x1="63.58" y1="305.5" x2="63.58" y2="306.8" stroke="#777" stroke-width="0.5"/>
<line x1="64.812" y1="305.5" x2="64.812" y2="306.8" stroke="#777" stroke-width="0.5"/>
<line x1="65.868" y1="305.5" x2="65.868" y2="306.8" stroke="#777" stroke-width="0.5"/>
<line x1="72.41" y1="305.5" x2="72.41" y2="306.8" stroke="#777" stroke-width="0.5"/>
<line x1="75.94999999999999" y1="305.5" x2="75.94999999999999" y2="306.8" stroke="#777" stroke-width="0.5"/>
<line x1="78.074" y1="305.5" x2="78.074" y2="306.8" stroke="#777" stroke-width="0.5"/>
<line x1="79.844" y1="305.5" x2="79.844" y2="306.8" stroke="#777" stroke-width="0.5"/>
<line x1="81.25999999999999" y1="305.5" x2="81.25999999999999" y2="306.8" stroke="#777" stroke-width="0.5"/>
<line x1="82.499" y1="305.5" x2="82.499" y2="306.8" stroke="#777" stroke-width="0.5"/>
<line x1="83.56099999999999" y1="305.5" x2="83.56099999999999" y2="306.8" stroke="#777" stroke-width="0.5"/>
<line x1="93.44" y1="305.5" x2="93.44" y2="306.8" stroke="#777" stroke-width="0.5"/>
<line x1="99.19999999999999" y1="305.5" x2="99.19999999999999" y2="306.8" stroke="#777" stroke-width="0.5"/>
<line x1="102.65599999999999" y1="305.5" x2="102.65599999999999" y2="306.8" stroke="#777" stroke-width="0.5"/>
<line x1="105.536" y1="305.5" x2="105.536" y2="306.8" stroke="#777" stroke-width="0.5"/>
<line x1="107.84" y1="305.5" x2="107.84" y2="306.8" stroke="#777" stroke-width="0.5"/>
<line x1="109.856" y1="305.5" x2="109.856" y2="306.8" stroke="#777" stroke-width="0.5"/>
<line x1="111.584" y1="305.5" x2="111.584" y2="306.8" stroke="#777" stroke-width="0.5"/>
<line x1="121.34" y1="305.5" x2="121.34" y2="306.8" stroke="#777" stroke-width="0.5"/>
<line x1="126.5" y1="305.5" x2="126.5" y2="306.8" stroke="#777" stroke-width="0.5"/>
<line x1="129.596" y1="305.5" x2="129.596" y2="306.8" stroke="#777" stroke-width="0.5"/>
<line x1="132.176" y1="305.5" x2="132.176" y2="306.8" stroke="#777" stroke-width="0.5"/>
<line x1="134.24" y1="305.5" x2="134.24" y2="306.8" stroke="#777" stroke-width="0.5"/>
<line x1="136.046" y1="305.5" x2="136.046" y2="306.8" stroke="#777" stroke-width="0.5"/>
<line x1="137.594" y1="305.5" x2="137.594" y2="306.8" stroke="#777" stroke-width="0.5"/>
<rect x="40.6" y="279.6" width="1.9" height="4" fill="#111"/>
<rect x="65.1" y="305.7" width="4" height="1.8" fill="#111"/>
<text x="48.8" y="211.4" font-size="6.6" fill="#151515" style="stroke-width:0.22px">4.6%</text>
<text x="123.0" y="211.4" font-size="6.6" fill="#151515" style="stroke-width:0.22px">3.4%</text>
<text x="125.4" y="226.9" font-size="6.6" fill="#151515" style="stroke-width:0.22px">84.4%</text>
<text x="45.9" y="242.7" font-size="7.0" textLength="18.0" lengthAdjust="spacingAndGlyphs" fill="#151515">CD56</text>
<text x="64.2" y="239.6" font-size="4.2" textLength="6.0" lengthAdjust="spacingAndGlyphs" fill="#151515" style="stroke-width:0.1px">neg</text>
<text x="45.9" y="250.5" font-size="7.0" textLength="18.0" lengthAdjust="spacingAndGlyphs" fill="#151515">CD16</text>
<text x="64.2" y="247.4" font-size="4.2" textLength="6.0" lengthAdjust="spacingAndGlyphs" fill="#151515" style="stroke-width:0.1px">neg</text>
<text x="45.9" y="258.5" font-size="6.6" fill="#151515">3.0%</text>
<text x="125.4" y="297.3" font-size="6.6" fill="#151515" style="stroke-width:0.22px">4.6%</text>
<text x="151.3" y="237.0" font-size="7.0" textLength="17.9" lengthAdjust="spacingAndGlyphs" fill="#151515">CD56</text>
<text x="169.5" y="233.9" font-size="4.2" textLength="6.2" lengthAdjust="spacingAndGlyphs" fill="#151515" style="stroke-width:0.1px">dim</text>
<text x="151.3" y="244.7" font-size="7.0" textLength="17.9" lengthAdjust="spacingAndGlyphs" fill="#151515">CD16</text>
<text x="169.5" y="241.6" font-size="4.2" textLength="6.2" lengthAdjust="spacingAndGlyphs" fill="#151515" style="stroke-width:0.1px">pos</text>
<text x="151.3" y="280.8" font-size="7.0" textLength="17.9" lengthAdjust="spacingAndGlyphs" fill="#151515">CD56</text>
<text x="169.5" y="277.7" font-size="4.2" textLength="6.2" lengthAdjust="spacingAndGlyphs" fill="#151515" style="stroke-width:0.1px">neg</text>
<text x="151.3" y="288.5" font-size="7.0" textLength="17.9" lengthAdjust="spacingAndGlyphs" fill="#151515">CD16</text>
<text x="169.5" y="285.4" font-size="4.2" textLength="6.2" lengthAdjust="spacingAndGlyphs" fill="#151515" style="stroke-width:0.1px">pos</text>
<text x="34.0" y="197.0" font-size="6.6" textLength="16.8" lengthAdjust="spacingAndGlyphs" fill="#151515">CD56</text>
<text x="50.8" y="194.0" font-size="3.9" textLength="9.8" lengthAdjust="spacingAndGlyphs" fill="#151515" style="stroke-width:0.1px">bright</text>
<text x="60.6" y="197.0" font-size="6.6" textLength="17.8" lengthAdjust="spacingAndGlyphs" fill="#151515">CD16</text>
<text x="78.4" y="194.0" font-size="3.9" textLength="7.6" lengthAdjust="spacingAndGlyphs" fill="#151515" style="stroke-width:0.1px">neg</text>
<text x="98.0" y="197.0" font-size="6.6" textLength="16.8" lengthAdjust="spacingAndGlyphs" fill="#151515">CD56</text>
<text x="114.8" y="194.0" font-size="3.9" textLength="10.3" lengthAdjust="spacingAndGlyphs" fill="#151515" style="stroke-width:0.1px">bright</text>
<text x="125.1" y="197.0" font-size="6.6" textLength="17.9" lengthAdjust="spacingAndGlyphs" fill="#151515">CD16</text>
<text x="143.0" y="194.0" font-size="3.9" textLength="7.6" lengthAdjust="spacingAndGlyphs" fill="#151515" style="stroke-width:0.1px">pos</text>
<text transform="translate(20.7,255) rotate(-90)" font-size="8.8" text-anchor="middle" fill="#1a1a1a" style="stroke-width:0.35px" textLength="14.6" lengthAdjust="spacingAndGlyphs">CD56</text>
<text x="94.45" y="330.4" font-size="8.8" text-anchor="middle" textLength="13.3" lengthAdjust="spacingAndGlyphs" fill="#1a1a1a" style="stroke-width:0.35px">CD16</text>
<clipPath id="c619"><rect x="43.0" y="370.5" width="95.30000000000001" height="93.5"/></clipPath><g clip-path="url(#c619)"><path d="M82 394L98 394L110 388L121 392L121 447L82 447Z" fill="#000" opacity="0.1" filter="url(#b3)"/><ellipse cx="105" cy="422" rx="14" ry="18" fill="#000" opacity="0.1" filter="url(#b5)"/><ellipse cx="112" cy="405" rx="8.5" ry="11.5" fill="#000" opacity="0.7" filter="url(#b2)"/><ellipse cx="110" cy="420" rx="5" ry="7" fill="#000" opacity="0.35" filter="url(#b2)"/><ellipse cx="113" cy="404" rx="5" ry="7" fill="#000" opacity="0.4" filter="url(#b1)"/><rect x="63" y="380" width="11" height="46" fill="#000" opacity="0.08" filter="url(#b2)"/><ellipse cx="68" cy="387" rx="3" ry="5" fill="#000" opacity="0.25" filter="url(#b2)"/></g>
<path d="M104.8 402.6h.9M108.9 406.2h.9M99.9 409.8h.9M108.8 407.7h.9M115.2 405.6h.9M106.7 398.8h.9M112.1 407.0h.9M107.5 398.0h.9M113.4 401.1h.9M114.4 406.4h.9M117.3 406.2h.9M111.8 412.5h.9M116.2 411.1h.9M113.3 408.6h.9M109.4 403.4h.9M118.1 405.4h.9M108.8 403.9h.9M112.3 416.6h.9M122.5 408.4h.9M115.4 401.3h.9M107.8 400.0h.9M112.8 413.4h.9M109.0 399.9h.9M110.8 407.8h.9M104.7 406.6h.9M112.5 412.3h.9M104.5 399.9h.9M113.2 408.5h.9M113.2 406.8h.9M115.3 410.6h.9M121.5 414.2h.9M104.1 406.2h.9M106.1 404.1h.9M107.0 411.1h.9M108.9 396.5h.9M115.4 406.7h.9M110.0 399.2h.9M108.9 397.8h.9M106.4 395.4h.9M108.7 394.9h.9M109.5 410.9h.9M111.0 411.1h.9M105.1 406.2h.9M111.1 412.2h.9M114.0 405.7h.9M113.0 402.4h.9M105.9 398.6h.9M115.2 410.5h.9M115.1 410.8h.9M112.8 413.7h.9M106.0 400.4h.9M104.9 403.8h.9M111.7 396.9h.9M106.9 412.9h.9M105.5 410.1h.9M115.5 408.9h.9M115.6 405.5h.9M114.4 404.6h.9M117.4 403.3h.9M115.5 412.6h.9M106.3 401.5h.9M116.6 411.3h.9M112.0 407.5h.9M113.5 399.2h.9M118.5 396.3h.9M113.5 400.6h.9M118.6 405.4h.9M111.7 397.3h.9M109.8 409.6h.9M108.3 412.9h.9M110.9 409.1h.9M103.9 394.8h.9M111.2 390.5h.9M110.9 411.2h.9M109.1 415.2h.9M101.5 403.1h.9M101.8 409.0h.9M114.7 403.9h.9M107.2 401.5h.9M117.7 412.0h.9M108.3 402.1h.9M113.1 411.1h.9M105.0 416.7h.9M108.6 404.8h.9M110.5 417.7h.9M114.1 397.2h.9M119.1 411.5h.9M115.8 405.7h.9M105.0 422.2h.9M111.5 405.9h.9M110.7 400.5h.9M108.6 416.1h.9M114.1 395.8h.9M118.6 408.5h.9M109.4 400.7h.9M116.5 414.5h.9M117.8 405.0h.9M106.7 411.2h.9M119.5 405.4h.9M119.1 398.5h.9M112.8 391.7h.9M119.2 417.2h.9M112.6 407.1h.9M116.7 398.2h.9M114.4 403.6h.9M107.6 412.0h.9M112.7 396.0h.9M110.7 420.3h.9M109.3 404.0h.9M106.3 403.2h.9M108.0 413.9h.9M106.0 407.0h.9M116.6 399.1h.9M102.7 411.5h.9M111.8 408.5h.9M108.7 412.9h.9M105.9 399.6h.9M114.8 398.3h.9M107.9 409.6h.9M116.9 402.8h.9M110.7 391.6h.9M113.0 401.8h.9M110.9 409.6h.9M114.4 400.9h.9M115.7 413.8h.9M109.5 402.3h.9M111.5 404.9h.9M119.4 395.0h.9M108.9 400.3h.9M119.6 404.3h.9M109.7 409.3h.9M109.0 406.7h.9M103.9 412.4h.9M107.7 391.4h.9M103.7 405.7h.9M108.9 404.6h.9M114.6 398.7h.9M111.2 405.2h.9M108.8 400.7h.9M106.9 408.3h.9M108.4 403.3h.9M105.0 408.8h.9M105.8 399.6h.9M120.3 413.7h.9M112.6 408.1h.9M107.4 417.1h.9M114.5 404.6h.9M118.3 402.2h.9M108.6 406.4h.9M111.0 402.5h.9M105.8 398.7h.9M104.3 405.6h.9M117.7 405.1h.9M108.2 403.0h.9M104.2 399.2h.9M117.9 406.4h.9M116.3 396.8h.9M113.6 416.5h.9M118.1 405.7h.9M110.0 411.6h.9M112.7 397.7h.9M115.1 407.7h.9M110.1 404.6h.9M113.6 411.9h.9M110.4 411.2h.9M113.5 394.8h.9M112.2 413.0h.9M102.6 395.8h.9M111.9 414.2h.9M105.1 405.2h.9M107.7 397.7h.9M104.0 410.1h.9M115.2 405.8h.9M110.0 399.0h.9M109.7 400.7h.9M117.1 408.6h.9M114.7 396.6h.9M110.5 399.9h.9M102.1 417.6h.9M114.5 400.5h.9M110.3 407.9h.9M109.8 408.4h.9M114.8 411.8h.9M108.6 411.2h.9M111.1 389.0h.9M115.5 402.3h.9M114.1 413.2h.9M108.7 400.3h.9M118.0 417.4h.9M116.7 407.1h.9M120.0 397.5h.9M111.2 409.2h.9M112.5 418.2h.9M116.2 401.1h.9M113.5 409.2h.9M112.1 399.7h.9M111.0 401.7h.9M110.1 406.3h.9M108.6 408.9h.9M108.6 407.8h.9M113.3 406.9h.9M110.1 421.3h.9M105.2 398.4h.9M111.7 393.4h.9M119.0 409.2h.9M117.6 406.8h.9M102.5 396.1h.9M107.7 416.8h.9M115.0 400.9h.9M111.9 396.3h.9M111.8 408.3h.9M110.9 409.7h.9M111.8 420.9h.9M106.9 395.5h.9M116.8 397.2h.9M106.8 403.7h.9M110.9 402.7h.9M118.4 405.1h.9M116.4 400.9h.9M111.5 395.3h.9M111.5 402.6h.9M108.8 410.2h.9M109.3 410.7h.9M110.5 401.2h.9M117.5 409.1h.9M109.6 408.3h.9M114.1 402.3h.9M113.5 403.2h.9M113.4 405.8h.9M110.3 423.9h.9M114.8 406.6h.9M112.3 399.7h.9M112.0 404.5h.9M109.4 401.9h.9M101.9 413.0h.9M114.8 391.4h.9M115.0 398.4h.9M109.3 411.0h.9M110.8 408.3h.9M112.9 405.7h.9M107.2 410.3h.9M114.8 396.8h.9M114.8 408.0h.9M115.4 398.1h.9M115.7 397.1h.9M103.1 408.8h.9M113.9 400.3h.9M109.6 403.2h.9M116.6 409.7h.9M116.4 398.7h.9M115.3 409.6h.9M111.2 420.3h.9M111.4 411.9h.9M107.0 410.6h.9M116.0 397.3h.9M105.2 396.6h.9M120.2 405.6h.9M116.2 391.6h.9M117.6 405.9h.9M116.3 407.3h.9M113.5 408.7h.9M105.8 408.6h.9M109.0 414.4h.9M114.2 403.4h.9M110.8 414.5h.9M113.3 409.1h.9M108.6 409.1h.9M108.2 404.6h.9M113.0 411.9h.9M115.0 400.7h.9M111.7 410.4h.9M107.3 413.0h.9M104.3 401.2h.9M120.7 399.4h.9M106.6 400.7h.9M107.8 405.4h.9M108.4 408.0h.9M115.7 411.4h.9M108.3 418.1h.9M114.1 416.3h.9M113.0 407.5h.9M106.5 403.1h.9M112.3 397.7h.9M106.2 411.1h.9M110.9 409.1h.9M114.9 403.8h.9M110.6 404.6h.9M107.6 404.9h.9M109.7 388.7h.9M110.8 405.3h.9M113.1 407.8h.9M101.4 404.8h.9M103.3 398.7h.9M113.7 406.0h.9M111.0 408.8h.9M111.6 417.5h.9M112.5 412.6h.9M110.8 409.6h.9M117.4 392.4h.9M105.2 403.1h.9M120.2 415.9h.9M111.5 409.3h.9M104.7 404.0h.9M105.8 424.7h.9M105.0 415.3h.9M109.2 436.0h.9M96.3 401.6h.9M107.1 411.5h.9M101.1 412.0h.9M121.7 419.2h.9M113.6 415.4h.9M121.8 412.9h.9M111.0 410.7h.9M110.1 414.9h.9M112.4 405.2h.9M98.1 421.7h.9M107.4 389.9h.9M119.7 426.6h.9M111.2 393.7h.9M103.3 408.8h.9M106.8 413.9h.9M100.0 406.6h.9M100.6 406.3h.9M93.7 427.2h.9M116.8 441.8h.9M116.6 425.3h.9M105.7 414.6h.9M94.5 405.0h.9M104.5 403.3h.9M124.9 427.4h.9M94.7 423.5h.9M102.1 428.7h.9M102.4 424.9h.9M114.0 428.8h.9M95.2 405.3h.9M109.1 403.1h.9M99.3 400.3h.9M103.5 412.3h.9M95.7 410.3h.9M111.5 414.0h.9M102.3 398.0h.9M101.4 414.7h.9M116.6 422.4h.9M109.9 413.5h.9M110.6 412.3h.9M107.5 408.2h.9M107.9 423.7h.9M118.1 420.3h.9M104.2 407.9h.9M109.7 416.6h.9M102.1 424.4h.9M112.8 409.3h.9M102.2 416.3h.9M101.7 414.6h.9M110.8 420.0h.9M119.0 411.1h.9M114.5 418.4h.9M113.5 390.4h.9M107.2 409.8h.9M84.9 422.6h.9M105.2 420.7h.9M104.9 400.9h.9M111.6 402.9h.9M122.6 417.4h.9M113.6 416.9h.9M90.9 418.2h.9M106.9 413.3h.9M104.6 413.9h.9M113.2 425.1h.9M106.1 401.3h.9M89.3 395.8h.9M98.5 424.8h.9M103.7 403.3h.9M88.1 420.9h.9M105.5 404.4h.9M104.0 399.2h.9M116.3 431.2h.9M105.5 411.7h.9M100.9 395.5h.9M105.4 409.9h.9M106.7 410.4h.9M115.4 409.9h.9M97.9 414.5h.9M86.0 398.6h.9M113.4 417.8h.9M106.9 419.9h.9M96.1 402.7h.9M99.3 388.6h.9M102.5 430.0h.9M110.9 398.9h.9M102.3 407.0h.9M113.6 412.6h.9M103.3 417.8h.9M118.3 412.1h.9M110.7 402.6h.9M91.3 411.9h.9M106.1 437.4h.9M96.0 442.6h.9M105.2 409.8h.9M106.4 420.2h.9M104.2 415.0h.9M91.7 421.0h.9M107.4 408.8h.9M95.7 434.4h.9M112.8 419.9h.9M120.7 381.0h.9M102.7 405.1h.9M96.8 421.1h.9M109.0 406.6h.9M93.7 391.4h.9M97.5 405.6h.9M99.4 430.9h.9M105.0 420.7h.9M92.4 423.0h.9M87.4 414.9h.9M119.4 432.0h.9M101.3 378.9h.9M104.6 398.2h.9M111.7 435.7h.9M110.3 425.3h.9M100.3 415.5h.9M102.2 408.5h.9M121.1 390.8h.9M117.8 407.5h.9M113.2 410.9h.9M121.6 401.5h.9M89.1 429.2h.9M107.6 425.1h.9M103.8 409.2h.9M88.8 423.5h.9M109.5 412.1h.9M112.3 415.9h.9M108.8 406.9h.9M89.9 442.5h.9M104.5 394.6h.9M108.4 411.0h.9M104.3 425.1h.9M109.1 425.0h.9M111.1 393.1h.9M119.5 401.3h.9M108.7 411.5h.9M108.5 404.6h.9M109.2 409.7h.9M113.7 410.8h.9M105.9 426.0h.9M103.6 392.2h.9M118.0 425.4h.9M87.0 410.0h.9M90.3 419.7h.9M113.4 441.0h.9M111.6 391.0h.9M109.4 427.0h.9M109.2 407.4h.9M97.9 410.0h.9M104.0 429.9h.9M97.2 410.3h.9M117.2 423.7h.9M112.5 430.3h.9M108.9 405.6h.9M110.2 437.2h.9M105.5 428.0h.9M96.1 410.2h.9M122.3 415.6h.9M112.7 404.3h.9M105.1 416.4h.9M112.1 423.4h.9M118.4 425.0h.9M117.5 415.6h.9M112.8 406.7h.9M114.3 405.1h.9M104.6 401.4h.9M119.1 409.5h.9M115.4 420.2h.9M115.5 405.9h.9M94.8 404.7h.9M112.6 400.2h.9M112.9 419.8h.9M114.1 409.8h.9M82.9 393.4h.9M89.5 426.2h.9M109.2 425.7h.9M98.0 413.1h.9M110.2 408.7h.9M105.8 412.5h.9M114.5 401.7h.9M101.4 425.0h.9M96.8 429.6h.9M111.4 425.3h.9M104.0 415.8h.9M95.7 415.7h.9M88.3 419.3h.9M103.2 403.3h.9M104.2 412.7h.9M88.4 404.6h.9M97.1 398.3h.9M105.0 416.9h.9M109.4 426.5h.9M113.6 400.1h.9M99.5 424.7h.9M110.9 421.0h.9M117.0 418.5h.9M101.7 429.2h.9M105.8 405.0h.9M89.7 432.3h.9M98.8 408.6h.9M93.6 419.4h.9M112.6 394.3h.9M104.7 424.6h.9M121.1 413.2h.9M108.1 406.1h.9M113.8 400.5h.9M111.2 415.3h.9M108.3 428.8h.9M96.5 419.2h.9M121.7 408.7h.9M105.6 403.6h.9M89.4 400.2h.9M101.1 408.9h.9M96.2 393.5h.9M117.3 408.3h.9M116.1 425.9h.9M120.6 412.0h.9M100.4 405.5h.9M88.9 421.3h.9M97.7 420.3h.9M110.2 429.8h.9M81.3 404.3h.9M100.8 399.3h.9M114.2 405.4h.9M98.5 397.9h.9M105.3 412.1h.9M98.0 407.5h.9M122.7 402.3h.9M96.9 424.7h.9M98.5 421.2h.9M107.7 405.1h.9M113.0 413.0h.9M110.6 416.4h.9M112.7 420.5h.9M115.9 408.4h.9M118.1 397.1h.9M108.7 400.9h.9M102.8 408.1h.9M106.5 409.3h.9M115.2 406.9h.9M114.1 414.5h.9M120.0 410.0h.9M119.0 406.0h.9M100.0 407.0h.9M109.4 418.3h.9M114.6 416.0h.9M115.2 390.3h.9M103.9 392.8h.9M92.3 374.7h.9M104.9 416.1h.9M101.0 415.7h.9M106.4 406.3h.9M117.7 406.3h.9M113.9 408.7h.9M96.6 405.0h.9M100.3 412.1h.9M109.1 412.1h.9M117.9 401.9h.9M106.7 429.6h.9M109.3 424.7h.9M93.0 407.7h.9M102.6 438.6h.9M99.7 441.9h.9M108.9 427.5h.9M104.5 426.9h.9M98.8 405.6h.9M96.8 408.8h.9M108.8 393.7h.9M100.7 407.6h.9M117.4 424.3h.9M108.2 407.7h.9M104.2 392.5h.9M115.2 431.9h.9M95.5 436.2h.9M115.2 430.8h.9M99.9 394.3h.9M113.4 422.6h.9M100.2 402.7h.9M97.7 411.0h.9M89.3 421.1h.9M106.9 431.1h.9M111.0 405.2h.9M93.4 408.5h.9M123.0 397.5h.9M106.3 412.8h.9M95.9 401.0h.9M102.6 421.8h.9M120.0 412.6h.9M80.1 414.2h.9M108.1 422.4h.9M106.3 429.4h.9M109.4 398.7h.9M95.6 393.4h.9M115.0 418.9h.9M110.4 421.1h.9M109.3 429.5h.9M101.0 422.2h.9M95.5 433.6h.9M109.7 418.9h.9M113.9 405.1h.9M107.6 424.8h.9M104.4 402.0h.9M101.4 404.5h.9M112.9 417.7h.9M119.8 409.7h.9M104.8 424.0h.9M98.3 408.2h.9M91.8 400.4h.9M108.7 421.3h.9M105.3 407.2h.9M118.5 429.8h.9M105.0 405.9h.9M90.8 422.0h.9M95.7 374.7h.9M107.3 403.9h.9M106.0 432.7h.9M100.1 415.2h.9M101.0 413.9h.9M91.7 423.5h.9M92.5 441.9h.9M100.4 399.6h.9M99.8 411.9h.9M104.9 407.4h.9M95.3 421.4h.9M120.8 404.4h.9M90.0 394.1h.9M114.4 394.5h.9M111.4 420.9h.9M121.0 415.5h.9M119.2 423.3h.9M94.1 393.6h.9M109.7 402.1h.9M113.5 406.4h.9M115.2 423.2h.9M111.2 418.3h.9M101.2 410.9h.9M118.5 400.8h.9M105.4 415.3h.9M102.0 407.2h.9M108.3 423.7h.9M102.4 434.0h.9M100.4 414.4h.9M107.7 399.5h.9M109.6 420.7h.9M107.4 419.5h.9M102.5 414.4h.9M109.9 415.1h.9M95.7 414.2h.9M111.1 416.2h.9M109.1 395.0h.9M107.5 404.4h.9M111.0 412.0h.9M104.8 414.8h.9M112.8 415.4h.9M111.6 418.3h.9M111.8 391.1h.9M106.7 401.4h.9M114.8 405.0h.9M105.0 414.7h.9M118.5 410.8h.9M105.6 437.0h.9M118.4 408.5h.9M109.0 410.2h.9M106.4 394.4h.9M97.4 435.1h.9M112.5 414.1h.9M110.0 411.7h.9M107.1 405.3h.9M110.4 414.1h.9M107.9 408.9h.9M98.2 427.7h.9M95.8 403.4h.9M112.5 407.9h.9M108.4 406.7h.9M120.7 420.2h.9M114.3 425.0h.9M112.6 419.7h.9M111.9 420.0h.9M107.7 413.8h.9M100.8 424.1h.9M82.4 419.0h.9M113.8 417.2h.9M112.1 393.8h.9M107.0 407.5h.9M107.9 404.8h.9M115.7 391.2h.9M115.2 428.9h.9M108.5 430.6h.9M104.4 426.2h.9M112.3 420.0h.9M114.1 431.0h.9M98.3 428.5h.9M111.3 388.7h.9M98.6 415.0h.9M102.5 414.5h.9M102.9 420.9h.9M105.5 421.6h.9M101.4 404.6h.9M114.7 404.9h.9M102.8 403.0h.9M91.3 414.6h.9M108.0 408.9h.9M114.3 393.8h.9M106.4 424.6h.9M108.1 399.3h.9M100.2 407.1h.9M98.0 404.0h.9M106.7 404.0h.9M96.1 420.0h.9M102.5 404.6h.9M97.4 395.7h.9M104.4 405.0h.9M113.9 400.5h.9M106.2 394.4h.9M117.0 423.9h.9M109.9 426.8h.9M105.3 395.6h.9M98.1 431.8h.9M107.4 435.0h.9M95.7 396.2h.9M113.5 418.0h.9M94.0 409.6h.9M93.6 422.9h.9M98.5 377.6h.9M91.0 420.4h.9M107.4 408.5h.9M99.3 418.7h.9M102.1 423.6h.9M112.1 384.5h.9M86.0 412.3h.9M104.1 412.9h.9M109.7 420.2h.9M115.8 426.6h.9M107.6 422.0h.9M100.2 403.6h.9M115.0 421.5h.9M115.0 403.8h.9M104.5 410.8h.9M119.1 414.6h.9M108.3 393.8h.9M97.0 409.1h.9M112.9 398.6h.9M118.5 424.1h.9M84.7 428.2h.9M118.7 395.5h.9M98.7 385.9h.9M121.3 415.8h.9M108.6 406.1h.9M107.8 401.7h.9M119.3 440.4h.9M103.3 407.9h.9M97.5 409.6h.9M100.8 416.4h.9M96.3 431.9h.9M111.4 416.6h.9M105.7 397.9h.9M113.7 407.0h.9M116.5 435.1h.9M113.7 392.0h.9M116.3 412.4h.9M116.4 427.1h.9M105.5 416.2h.9M99.4 410.4h.9M97.2 402.3h.9M113.1 414.9h.9M101.3 419.3h.9M97.2 415.6h.9M98.4 425.3h.9M104.1 415.4h.9M108.3 428.5h.9M103.8 414.7h.9M96.6 424.0h.9M111.1 409.1h.9M85.4 434.0h.9M103.0 428.2h.9M115.5 421.4h.9M108.4 401.2h.9M116.9 415.3h.9M106.8 377.7h.9M111.2 408.7h.9M106.2 415.1h.9M101.9 402.7h.9M109.3 415.0h.9M114.8 421.1h.9M87.6 434.9h.9M98.2 413.3h.9M86.4 394.3h.9M97.0 384.9h.9M93.8 411.2h.9M101.1 424.0h.9M102.8 426.6h.9M114.3 414.3h.9M116.8 405.2h.9M98.0 404.7h.9M100.9 411.5h.9M111.2 414.3h.9M99.5 420.4h.9M101.7 414.6h.9M88.3 437.3h.9M112.1 415.1h.9M107.8 419.1h.9M96.5 425.8h.9M93.2 424.6h.9M95.6 405.4h.9M109.4 393.7h.9M100.9 397.6h.9M94.1 417.7h.9M102.4 420.4h.9M113.3 417.4h.9M116.9 422.8h.9M117.8 428.9h.9M106.7 404.0h.9M107.9 444.1h.9M108.3 445.3h.9M111.8 422.5h.9M111.1 411.2h.9M96.8 416.4h.9M98.9 396.4h.9M102.1 413.7h.9M112.2 403.5h.9M101.0 412.2h.9M98.6 409.5h.9M115.1 438.2h.9M119.1 403.0h.9M97.4 417.1h.9M104.4 408.5h.9M116.3 432.5h.9M102.0 426.2h.9M114.1 395.0h.9M92.7 401.5h.9M103.7 416.7h.9M111.7 405.9h.9M119.8 418.8h.9M114.4 414.4h.9M90.8 400.4h.9M91.6 409.8h.9M97.7 419.1h.9M113.3 412.5h.9M112.4 415.1h.9M115.7 417.9h.9M112.0 411.9h.9M100.4 429.6h.9M102.2 398.2h.9M97.5 419.1h.9M113.3 407.2h.9M94.1 418.3h.9M106.2 423.6h.9M107.9 421.1h.9M117.0 421.5h.9M98.6 422.6h.9M109.3 419.8h.9M96.5 410.6h.9M115.1 422.3h.9M102.3 425.1h.9M102.8 423.9h.9M96.9 416.8h.9M100.1 416.8h.9M99.7 389.5h.9M100.1 403.6h.9M116.3 411.0h.9M96.6 425.4h.9M107.9 427.8h.9M113.3 415.1h.9M95.3 399.8h.9M86.0 419.2h.9M110.0 425.2h.9M120.1 393.4h.9M99.3 419.8h.9M117.3 415.1h.9M106.6 409.8h.9M112.7 445.9h.9M91.3 434.1h.9M97.2 403.5h.9M114.9 398.2h.9M110.3 441.7h.9M119.0 439.8h.9M113.1 397.2h.9M108.8 439.2h.9M108.9 426.5h.9M93.0 435.9h.9M87.7 432.9h.9M105.6 410.6h.9M105.7 440.1h.9M116.7 395.3h.9M92.1 444.5h.9M91.9 395.9h.9M119.0 429.6h.9M101.3 418.8h.9M101.4 428.0h.9M108.0 444.2h.9M82.3 432.9h.9M89.4 420.4h.9M118.5 430.8h.9M87.1 413.3h.9M119.1 400.8h.9M118.9 400.5h.9M84.4 407.7h.9M102.7 442.6h.9M94.0 416.9h.9M108.7 430.9h.9M119.3 411.6h.9M94.3 438.6h.9M87.5 427.7h.9M119.4 406.8h.9M112.9 395.9h.9M96.7 435.6h.9M116.0 402.8h.9M103.0 434.9h.9M86.2 400.8h.9M97.1 437.5h.9M111.6 431.3h.9M94.5 402.9h.9M107.9 417.7h.9M89.0 429.1h.9M113.3 403.0h.9M90.2 403.9h.9M95.4 402.9h.9M112.9 396.6h.9M89.9 445.5h.9M100.2 405.1h.9M114.4 423.2h.9M107.6 402.9h.9M85.2 407.9h.9M86.1 441.8h.9M112.9 403.4h.9M84.1 397.0h.9M88.3 439.2h.9M84.5 421.0h.9M89.7 417.5h.9M106.8 444.6h.9M94.1 412.8h.9M83.0 435.8h.9M108.1 415.1h.9M105.4 416.7h.9M103.8 433.5h.9M106.0 414.9h.9M107.4 394.4h.9M89.8 407.5h.9M82.6 440.7h.9M97.8 410.9h.9M82.7 426.4h.9M98.7 426.3h.9M115.1 436.9h.9M86.3 413.8h.9M109.4 429.8h.9M106.4 413.2h.9M115.9 407.2h.9M103.0 397.1h.9M109.4 437.9h.9M112.5 397.3h.9M106.5 414.0h.9M90.3 428.3h.9M119.3 407.9h.9M101.0 420.5h.9M90.8 438.6h.9M115.9 433.8h.9M107.1 412.0h.9M97.0 442.7h.9M111.6 440.5h.9M100.8 437.9h.9M108.3 405.1h.9M117.0 415.0h.9M82.8 447.8h.9M112.1 425.5h.9M118.8 406.5h.9M115.1 417.6h.9M121.9 413.2h.9M99.1 424.2h.9M91.6 410.3h.9M96.3 445.1h.9M83.4 420.4h.9M108.0 420.0h.9M87.3 394.7h.9M116.5 405.7h.9M121.7 404.2h.9M99.0 416.1h.9M112.0 396.7h.9M93.3 409.7h.9M121.7 439.1h.9M118.8 420.5h.9M108.6 442.5h.9M103.5 415.4h.9M82.8 425.1h.9M121.0 440.5h.9M82.2 413.2h.9M119.0 418.7h.9M101.2 415.9h.9M121.7 422.0h.9M97.7 408.1h.9M95.7 432.7h.9M107.5 405.0h.9M111.4 396.7h.9M105.3 400.0h.9M83.2 401.6h.9M88.9 420.3h.9M98.3 435.5h.9M95.1 416.3h.9M108.0 402.1h.9M120.5 398.8h.9M107.0 435.2h.9M105.2 414.6h.9M84.4 394.3h.9M93.9 430.9h.9M114.2 438.1h.9M114.9 445.5h.9M88.5 440.7h.9M109.9 394.7h.9M116.2 430.6h.9M119.1 424.5h.9M100.5 414.0h.9M97.9 399.2h.9M84.8 400.9h.9M93.5 435.8h.9M85.6 410.7h.9M103.5 427.9h.9M90.7 424.8h.9M117.3 432.8h.9M88.9 432.0h.9M84.2 414.0h.9M118.2 401.2h.9M106.3 421.1h.9M106.2 407.2h.9M108.1 434.0h.9M84.2 423.9h.9M84.9 425.2h.9M94.8 433.5h.9M99.5 432.4h.9M102.1 419.2h.9M111.2 438.0h.9M105.6 435.3h.9M101.4 436.4h.9M113.5 398.1h.9M104.1 436.2h.9M84.3 423.7h.9M102.1 418.7h.9M96.6 435.3h.9M96.6 441.4h.9M90.1 438.1h.9M110.1 395.8h.9M90.7 441.4h.9M87.1 402.5h.9M108.2 423.3h.9M114.1 443.6h.9M118.4 404.8h.9M91.0 430.2h.9M82.2 411.3h.9M103.5 401.9h.9M121.3 440.2h.9M91.4 436.7h.9M96.0 443.3h.9M117.9 396.5h.9M108.4 404.1h.9M106.2 397.3h.9M111.3 396.9h.9M88.5 420.0h.9M100.2 438.2h.9M90.6 438.1h.9M106.2 393.6h.9M107.9 410.7h.9M102.8 410.7h.9M112.2 445.8h.9M88.1 408.5h.9M100.7 435.2h.9M82.4 402.4h.9M91.5 404.2h.9M86.0 429.0h.9M93.9 424.3h.9M118.1 424.0h.9M118.3 401.9h.9M93.6 439.1h.9M104.1 439.3h.9M93.0 406.5h.9M91.7 424.6h.9M101.2 411.1h.9M119.4 403.5h.9M118.3 444.9h.9M117.7 423.7h.9M119.2 398.3h.9M116.1 417.0h.9M88.1 407.1h.9M82.7 446.7h.9M94.9 408.7h.9M84.4 419.3h.9M91.3 411.1h.9M89.7 399.0h.9M102.2 441.8h.9M119.3 431.7h.9M109.3 443.5h.9M109.6 440.3h.9M100.6 426.2h.9M116.2 424.9h.9M108.7 431.5h.9M120.9 414.4h.9M84.2 432.9h.9M95.9 400.3h.9M107.9 425.2h.9M95.5 431.6h.9M97.2 400.5h.9M96.9 395.4h.9M114.8 415.7h.9M90.9 435.3h.9M111.3 410.2h.9M90.2 402.1h.9M107.1 431.5h.9M105.0 433.0h.9M89.6 408.6h.9M106.0 402.0h.9M88.3 417.0h.9M104.6 402.9h.9M109.6 393.6h.9M92.6 438.5h.9M91.5 421.9h.9M92.3 403.1h.9M83.6 409.2h.9M104.4 410.6h.9M106.5 416.8h.9M118.8 444.3h.9M85.9 437.3h.9M95.0 399.0h.9M121.0 432.0h.9M103.8 417.9h.9M101.1 407.0h.9M99.2 396.7h.9M103.6 427.3h.9M112.8 446.2h.9M84.2 394.8h.9M100.9 443.2h.9M84.9 439.9h.9M86.0 411.0h.9M97.4 432.4h.9M88.4 431.9h.9M90.1 431.3h.9M99.9 427.4h.9M116.7 437.6h.9M120.0 440.5h.9M101.6 406.3h.9M91.6 421.0h.9M103.9 443.0h.9M95.6 398.5h.9M115.3 423.3h.9M120.2 436.9h.9M82.6 442.5h.9M83.5 429.2h.9M110.3 421.8h.9M120.7 420.2h.9M92.6 407.6h.9M107.1 411.7h.9M82.7 430.9h.9M111.7 441.6h.9M102.0 445.2h.9M121.2 444.0h.9M119.6 407.8h.9M86.8 406.5h.9M90.1 397.5h.9M106.8 442.4h.9M87.8 423.8h.9M106.2 411.3h.9M112.8 428.7h.9M103.2 438.4h.9M99.7 432.9h.9M121.4 403.5h.9M116.8 423.9h.9M111.5 394.0h.9M107.9 408.3h.9M88.6 424.2h.9M90.2 428.3h.9M107.8 404.6h.9M111.5 430.5h.9M95.1 412.3h.9M103.7 396.3h.9M94.3 447.3h.9M116.9 423.9h.9M100.9 426.4h.9M93.3 402.0h.9M115.0 434.7h.9M98.3 396.9h.9M112.0 402.0h.9M91.7 438.8h.9M105.6 435.1h.9M97.1 417.5h.9M89.7 401.7h.9M108.7 419.6h.9M112.0 407.9h.9M106.0 413.4h.9M100.6 402.7h.9M111.6 443.2h.9M86.5 438.4h.9M83.2 447.2h.9M90.7 412.1h.9M111.4 416.8h.9M103.8 430.7h.9M94.3 443.5h.9M109.2 400.0h.9M96.0 400.5h.9M95.9 396.7h.9M113.2 395.7h.9M121.1 405.0h.9M121.6 409.5h.9M93.2 417.6h.9M105.9 430.8h.9M91.0 434.3h.9M89.4 442.4h.9M91.0 436.8h.9M111.3 410.0h.9M112.5 447.4h.9M99.6 411.9h.9M94.4 400.6h.9M94.1 442.1h.9M95.4 443.3h.9M114.5 416.6h.9M98.0 403.4h.9M91.1 410.4h.9M115.7 444.7h.9M88.3 398.4h.9M119.6 432.7h.9M98.0 395.0h.9M113.6 428.6h.9M102.5 437.5h.9M109.9 426.0h.9M108.3 393.6h.9M105.3 396.9h.9M119.3 420.0h.9M104.3 434.9h.9M103.9 400.0h.9M113.0 414.1h.9M100.5 445.6h.9M96.8 393.5h.9M107.9 446.8h.9M99.6 403.4h.9M89.4 403.4h.9M105.3 440.0h.9M96.0 446.4h.9M102.5 433.7h.9M115.5 393.5h.9M120.8 402.3h.9M121.8 446.2h.9M85.5 423.6h.9M118.4 436.8h.9M120.8 437.7h.9M98.8 424.5h.9M97.2 405.8h.9M100.5 410.1h.9M86.0 440.4h.9M109.4 446.2h.9M91.7 404.3h.9M90.2 430.6h.9M100.5 435.7h.9M115.3 403.0h.9M84.9 424.7h.9M104.1 429.8h.9M119.0 414.4h.9M116.8 413.9h.9M87.9 410.8h.9M92.9 433.7h.9M83.4 442.2h.9M113.2 425.9h.9M84.6 398.1h.9M106.3 433.5h.9M115.5 413.7h.9M109.3 443.7h.9M115.8 418.2h.9M106.3 426.3h.9M83.9 425.9h.9M89.0 442.2h.9M117.5 430.5h.9M87.4 423.3h.9M96.0 425.4h.9M98.6 426.5h.9M111.3 432.3h.9M121.8 443.9h.9M113.0 415.7h.9M87.4 420.1h.9M84.6 434.0h.9M101.3 441.0h.9M87.7 438.0h.9M97.7 432.0h.9M106.8 425.3h.9M101.9 400.4h.9M96.0 396.3h.9M98.3 399.7h.9M122.0 434.9h.9M113.1 396.0h.9M86.9 405.3h.9M101.0 428.3h.9M110.8 415.0h.9M120.8 394.4h.9M94.2 445.3h.9M114.4 440.6h.9M111.9 393.6h.9M86.5 425.0h.9M83.5 443.8h.9M84.9 399.2h.9M86.0 419.4h.9M109.8 413.6h.9M83.6 447.8h.9M112.6 396.9h.9M105.3 396.7h.9M119.0 417.3h.9M93.8 419.0h.9M117.3 414.6h.9M119.4 426.0h.9M101.7 408.4h.9M97.6 433.5h.9M103.3 416.9h.9M114.7 446.9h.9M117.0 397.3h.9M107.4 428.0h.9M90.0 404.2h.9M82.8 427.4h.9M115.0 422.8h.9M113.6 406.9h.9M95.5 414.5h.9M93.4 421.7h.9M116.2 427.5h.9M96.9 442.5h.9M88.2 424.7h.9M108.1 441.8h.9M121.6 425.3h.9M106.7 424.1h.9M84.7 400.8h.9M90.2 430.5h.9M94.9 447.7h.9M121.4 404.9h.9M90.2 437.6h.9M94.1 426.4h.9M83.9 397.2h.9M94.3 406.0h.9M116.1 419.8h.9M94.0 399.6h.9M111.7 397.6h.9M121.7 413.7h.9M87.2 446.1h.9M92.4 407.3h.9M97.0 446.6h.9M82.7 402.9h.9M83.4 415.0h.9M118.8 440.9h.9M121.5 415.2h.9M99.8 441.0h.9M118.6 424.2h.9M90.5 425.2h.9M98.0 437.7h.9M109.2 435.8h.9M93.7 400.1h.9M108.6 423.2h.9M106.1 444.4h.9M120.7 409.4h.9M114.7 401.4h.9M95.6 443.9h.9M105.1 429.1h.9M101.4 436.1h.9M102.7 428.1h.9M103.7 399.1h.9M100.4 442.9h.9M83.4 405.1h.9M87.9 439.4h.9M91.8 420.4h.9M120.1 413.3h.9M119.1 405.5h.9M108.8 442.8h.9M118.2 439.1h.9M113.4 401.0h.9M106.9 446.6h.9M92.7 403.7h.9M89.5 446.2h.9M83.3 427.2h.9M119.5 421.3h.9M95.1 433.6h.9M121.3 439.2h.9M83.2 415.7h.9M103.1 440.1h.9M119.9 441.4h.9M84.0 416.3h.9M122.0 433.6h.9M112.5 427.6h.9M93.4 424.9h.9M121.1 425.1h.9M114.0 401.7h.9M93.2 440.0h.9M118.9 429.3h.9M91.7 398.5h.9M116.6 422.3h.9M115.7 405.1h.9M108.8 418.1h.9M103.1 435.1h.9M94.4 395.4h.9M88.6 433.9h.9M99.1 415.3h.9M87.8 398.3h.9M103.3 398.6h.9M105.7 446.4h.9M111.5 416.0h.9M97.3 407.9h.9M99.4 435.1h.9M111.4 393.2h.9M96.8 445.6h.9M85.9 423.2h.9M117.4 396.9h.9M88.2 424.3h.9M84.3 439.8h.9M91.6 422.4h.9M115.9 395.2h.9M112.2 413.2h.9M86.6 401.3h.9M107.8 393.5h.9M116.8 431.8h.9M119.4 431.6h.9M103.6 398.5h.9M116.7 415.2h.9M96.3 432.4h.9M83.1 403.7h.9M88.2 422.7h.9M92.7 400.5h.9M83.7 397.3h.9M120.6 432.8h.9M122.0 410.6h.9M117.7 429.3h.9M103.2 427.6h.9M99.4 439.5h.9M95.1 398.9h.9M104.7 419.6h.9M87.2 396.0h.9M112.9 436.6h.9M95.7 418.8h.9M114.1 431.1h.9M86.0 441.4h.9M93.0 429.3h.9M115.1 401.9h.9M113.5 411.1h.9M108.3 437.3h.9M105.0 411.7h.9M121.4 426.6h.9M108.5 418.6h.9M94.6 430.1h.9M89.8 436.6h.9M99.2 428.9h.9M119.2 440.5h.9M88.8 403.5h.9M116.8 437.6h.9M112.3 403.8h.9M88.8 426.7h.9M82.5 439.8h.9M84.6 430.9h.9M102.8 395.6h.9M92.1 438.9h.9M110.7 411.2h.9M104.1 400.0h.9M97.3 446.2h.9M104.3 413.7h.9M110.9 400.5h.9M110.4 439.5h.9M87.5 428.7h.9M92.2 398.9h.9M90.0 394.5h.9M106.2 443.7h.9M120.1 445.7h.9M100.8 443.1h.9M84.4 438.1h.9M97.6 396.0h.9M93.6 443.5h.9M100.0 410.3h.9M120.9 414.2h.9M120.7 403.2h.9M104.2 408.3h.9M111.2 394.7h.9M83.0 445.1h.9M105.1 396.8h.9M106.7 447.6h.9M115.6 396.0h.9M99.3 406.3h.9M98.8 397.7h.9M116.1 445.2h.9M87.5 400.8h.9M120.3 433.0h.9M110.1 435.5h.9M116.7 432.6h.9M117.1 403.4h.9M97.9 438.1h.9M119.0 409.0h.9M110.8 441.1h.9M107.0 396.1h.9M87.2 396.3h.9M102.0 398.5h.9M104.5 403.5h.9M88.0 443.6h.9M95.4 408.1h.9M101.2 393.6h.9M90.8 423.7h.9M91.9 421.7h.9M98.0 405.6h.9M87.3 432.4h.9M94.4 416.1h.9M98.0 393.0h.9M92.2 412.6h.9M90.9 414.1h.9M98.8 408.0h.9M108.6 402.1h.9M84.3 419.0h.9M95.2 441.7h.9M93.3 403.6h.9M105.5 442.3h.9M85.8 397.5h.9M86.8 426.9h.9M119.7 399.4h.9M103.9 427.6h.9M105.8 409.0h.9M88.4 431.5h.9M82.7 439.1h.9M85.4 408.2h.9M83.7 438.4h.9M96.5 405.9h.9M91.7 417.9h.9M120.4 397.4h.9M83.7 417.0h.9M82.1 444.8h.9M85.3 402.0h.9M104.6 392.3h.9M117.3 375.0h.9M96.8 389.0h.9M111.6 376.1h.9M108.3 372.2h.9M104.5 381.7h.9M89.9 392.3h.9M86.2 390.4h.9M107.4 380.7h.9M106.0 375.3h.9M115.1 380.3h.9M88.4 387.8h.9M90.2 374.0h.9M115.7 381.7h.9M95.2 375.3h.9M107.1 386.0h.9M114.2 384.2h.9M101.4 388.6h.9M82.2 377.4h.9M111.6 382.2h.9M116.5 372.5h.9M106.9 386.5h.9M92.6 380.5h.9M97.8 376.0h.9M94.3 378.9h.9M88.7 391.2h.9M101.0 375.6h.9M112.8 383.4h.9M102.6 376.2h.9M110.8 392.0h.9M99.5 374.3h.9M85.3 372.4h.9M86.8 374.5h.9M84.6 392.3h.9M108.9 379.4h.9M96.7 389.2h.9M93.8 374.3h.9M115.3 377.5h.9M102.0 389.5h.9M99.9 381.1h.9M84.8 374.6h.9M111.2 387.8h.9M86.2 388.8h.9M105.6 387.2h.9M94.1 378.2h.9M96.5 390.3h.9M108.5 373.3h.9M111.2 387.4h.9M85.5 385.3h.9M106.0 381.9h.9M101.7 381.6h.9M101.8 385.7h.9M91.4 389.3h.9M108.3 386.0h.9M114.8 392.1h.9M102.0 390.2h.9M84.1 389.1h.9M115.9 391.9h.9M108.5 374.0h.9M88.0 387.9h.9M96.6 383.5h.9M108.6 391.9h.9M104.5 378.1h.9M94.1 386.6h.9M98.9 384.5h.9M114.8 379.7h.9M106.6 388.4h.9M106.0 389.4h.9M97.5 387.5h.9M83.1 386.0h.9M90.3 373.9h.9M100.7 381.8h.9M88.4 386.5h.9M103.8 387.9h.9M116.8 391.0h.9M104.3 372.1h.9M102.7 380.2h.9M104.2 390.0h.9M97.7 382.1h.9M93.8 375.0h.9M106.8 373.2h.9M97.8 385.7h.9M85.9 375.3h.9M88.0 381.3h.9M96.5 380.9h.9M109.8 380.0h.9M83.7 380.9h.9M105.8 384.6h.9M112.6 387.5h.9M86.1 390.4h.9M110.6 382.6h.9M105.9 391.8h.9M109.1 372.8h.9M83.4 374.1h.9M94.8 372.4h.9M108.3 377.4h.9M89.5 382.8h.9M101.1 392.4h.9M104.6 378.2h.9M98.1 374.2h.9M100.8 376.0h.9M82.5 373.8h.9M85.8 376.0h.9M96.8 376.7h.9M93.0 376.6h.9M99.7 381.6h.9M105.3 372.8h.9M110.0 376.4h.9M91.3 372.1h.9M110.4 386.6h.9M64.4 401.0h.9M66.4 380.5h.9M69.3 385.1h.9M68.2 384.6h.9M69.1 392.2h.9M68.0 388.6h.9M67.8 389.6h.9M71.9 378.5h.9M70.5 384.5h.9M68.6 392.0h.9M69.4 384.6h.9M67.7 381.0h.9M67.7 388.0h.9M69.1 384.2h.9M68.5 387.0h.9M75.4 388.7h.9M68.7 382.3h.9M69.2 386.8h.9M74.2 393.6h.9M65.3 385.8h.9M68.3 386.0h.9M71.7 384.3h.9M68.6 388.7h.9M67.9 389.6h.9M65.6 382.8h.9M68.1 387.7h.9M66.0 395.2h.9M71.1 379.1h.9M69.7 391.9h.9M67.2 391.4h.9M71.4 379.7h.9M65.1 379.1h.9M65.5 384.3h.9M70.2 393.8h.9M68.9 383.9h.9M64.7 387.2h.9M65.9 387.6h.9M67.4 386.6h.9M66.2 396.7h.9M68.6 388.4h.9M67.7 381.3h.9M69.5 388.5h.9M67.8 390.2h.9M69.1 381.8h.9M66.8 387.9h.9M69.1 384.1h.9M69.0 380.7h.9M70.1 382.6h.9M69.0 390.9h.9M66.9 386.2h.9M67.8 379.0h.9M71.8 390.5h.9M67.2 385.5h.9M68.2 372.6h.9M72.6 381.7h.9M69.9 375.5h.9M70.0 383.9h.9M65.5 400.4h.9M65.4 396.9h.9M68.8 388.3h.9M74.2 382.8h.9M62.8 381.2h.9M63.1 383.3h.9M69.6 388.2h.9M68.7 393.1h.9M65.1 387.3h.9M70.6 393.1h.9M68.5 386.4h.9M66.6 376.8h.9M67.7 388.6h.9M66.4 392.0h.9M68.9 389.9h.9M65.9 392.4h.9M64.7 382.5h.9M65.9 385.7h.9M69.0 387.2h.9M71.2 388.8h.9M66.1 389.9h.9M65.0 391.9h.9M68.8 385.1h.9M71.2 381.9h.9M66.9 384.9h.9M72.3 386.1h.9M65.7 384.9h.9M72.1 382.5h.9M70.0 391.4h.9M63.1 391.8h.9M69.5 391.9h.9M67.3 390.9h.9M67.5 389.7h.9M65.9 384.9h.9M68.0 385.1h.9M66.1 388.5h.9M68.4 378.0h.9M71.0 388.3h.9M71.9 377.4h.9M71.2 396.0h.9M70.5 390.2h.9M69.2 384.0h.9M67.4 386.9h.9M64.7 384.6h.9M70.9 394.6h.9M66.7 392.5h.9M68.5 387.6h.9M64.0 384.6h.9M69.2 390.0h.9M72.0 388.4h.9M67.7 386.9h.9M70.6 384.6h.9M67.5 379.6h.9M68.5 380.5h.9M66.6 383.6h.9M60.3 379.1h.9M69.0 382.5h.9M69.4 395.8h.9M69.6 387.3h.9M72.9 390.5h.9M70.6 384.2h.9M69.3 393.7h.9M66.1 387.8h.9M71.2 406.7h.9M72.4 400.8h.9M69.8 410.8h.9M75.7 421.6h.9M64.5 412.0h.9M66.8 411.2h.9M70.1 401.5h.9M67.8 413.3h.9M69.9 412.3h.9M76.6 398.1h.9M66.9 416.9h.9M69.2 404.2h.9M66.1 385.2h.9M64.9 407.4h.9M60.6 415.4h.9M70.0 414.7h.9M73.6 411.0h.9M68.3 408.9h.9M72.9 417.1h.9M62.9 416.1h.9M67.4 388.5h.9M67.5 401.2h.9M71.0 410.6h.9M68.3 408.6h.9M70.2 419.0h.9M73.9 421.0h.9M63.7 411.2h.9M67.6 405.1h.9M69.6 429.3h.9M65.5 399.7h.9M69.5 408.3h.9M61.2 432.9h.9M64.1 416.8h.9M67.0 416.5h.9M60.9 409.5h.9M76.5 423.5h.9M75.4 443.3h.9M73.0 413.3h.9M71.3 407.0h.9M71.6 423.2h.9M67.0 431.7h.9M67.1 414.0h.9M60.0 400.2h.9M71.7 413.8h.9M67.3 400.7h.9M60.3 420.9h.9M64.7 407.4h.9M70.0 415.8h.9M61.6 410.7h.9M66.0 419.3h.9M59.5 386.5h.9M66.1 413.7h.9M67.7 412.0h.9M58.5 413.2h.9M64.9 393.1h.9M69.7 425.5h.9M66.5 402.3h.9M73.7 415.2h.9M71.3 403.8h.9M72.5 407.5h.9M63.1 404.6h.9M64.2 391.1h.9M69.2 402.4h.9M70.0 425.0h.9M65.8 396.7h.9M67.1 411.3h.9M64.1 389.5h.9M66.0 422.4h.9M69.5 393.9h.9M73.6 396.4h.9M70.2 408.0h.9M71.4 416.1h.9M68.2 394.7h.9M70.0 408.8h.9M71.8 416.1h.9M64.4 410.0h.9M71.8 401.0h.9M70.3 415.1h.9M72.0 422.8h.9M69.7 436.7h.9M65.3 424.8h.9M66.3 390.2h.9M68.1 425.0h.9M58.1 421.9h.9M64.7 413.5h.9M65.5 418.0h.9M65.8 423.0h.9M64.0 407.0h.9M63.7 395.8h.9M66.8 407.0h.9M65.4 417.8h.9M73.0 403.6h.9M67.8 402.5h.9M67.6 395.4h.9M71.1 416.3h.9M67.6 397.6h.9M67.8 407.6h.9M72.5 401.6h.9M71.7 425.2h.9M67.1 421.8h.9M62.8 436.9h.9M65.5 402.0h.9M70.1 398.7h.9M61.5 413.2h.9M66.7 394.1h.9M67.7 404.4h.9M62.0 418.1h.9M72.6 410.8h.9M66.9 420.1h.9M61.9 401.5h.9M64.0 404.7h.9M69.6 408.6h.9M73.3 419.9h.9M69.1 423.1h.9M68.7 424.3h.9M67.2 411.4h.9M74.2 401.8h.9M73.0 405.3h.9M61.7 410.3h.9M68.1 392.2h.9M70.2 399.3h.9M67.2 389.9h.9M69.7 413.5h.9M70.5 412.7h.9M64.5 399.4h.9M73.0 421.3h.9M68.6 411.3h.9M72.1 408.7h.9M69.1 417.9h.9M67.6 414.1h.9M73.2 397.9h.9M69.5 402.4h.9M74.1 393.5h.9M70.4 417.3h.9M76.5 408.9h.9M65.0 420.7h.9M68.3 401.9h.9M65.0 396.4h.9M63.8 423.1h.9M68.7 419.8h.9M62.3 393.2h.9M67.6 422.4h.9M73.0 401.8h.9M70.1 427.7h.9M65.9 416.0h.9M67.0 403.1h.9M70.8 407.4h.9M74.1 408.2h.9M67.0 375.9h.9M68.5 418.0h.9M69.9 406.5h.9M67.3 418.9h.9M69.4 377.3h.9M69.0 418.4h.9M73.1 410.5h.9M65.7 397.0h.9M68.3 433.0h.9M69.3 419.7h.9M65.2 399.2h.9M66.7 400.8h.9M67.9 417.0h.9M62.3 430.9h.9M66.1 416.2h.9M63.6 405.2h.9M66.0 431.2h.9M65.3 403.3h.9M66.1 425.6h.9M70.7 418.1h.9M72.7 408.8h.9M71.2 403.2h.9M64.8 403.6h.9M69.2 410.0h.9M63.1 426.3h.9M70.1 409.5h.9M70.8 400.0h.9M66.6 425.8h.9M68.1 422.3h.9M71.1 411.3h.9M70.8 424.8h.9M65.8 412.5h.9M65.1 431.6h.9M61.4 409.1h.9M66.6 401.8h.9M65.6 405.2h.9M67.9 411.7h.9M70.1 412.1h.9M62.5 403.7h.9M65.0 404.2h.9M66.6 395.1h.9M61.7 404.0h.9M67.1 429.2h.9M66.0 408.0h.9M69.2 398.8h.9M70.4 402.4h.9M70.6 401.2h.9M66.9 408.8h.9M68.8 400.2h.9M68.7 423.7h.9M71.9 400.4h.9M60.8 407.0h.9M67.1 402.0h.9M67.4 412.5h.9M61.2 421.1h.9M72.0 390.5h.9M52.6 374.6h.9M75.4 394.4h.9M52.3 408.3h.9M60.5 396.8h.9M65.5 385.9h.9M54.6 405.1h.9M77.7 401.2h.9M46.7 402.9h.9M55.9 422.3h.9M66.1 417.4h.9M60.1 377.4h.9M63.7 411.3h.9M79.2 391.2h.9M55.3 405.3h.9M54.8 394.0h.9M56.0 423.2h.9M54.0 414.4h.9M60.2 408.2h.9M60.4 385.4h.9M70.6 378.4h.9M69.9 378.7h.9M56.1 402.3h.9M79.5 392.4h.9M54.8 424.0h.9M73.8 394.0h.9M62.5 382.7h.9M76.6 422.7h.9M54.4 399.3h.9M58.3 414.0h.9M55.9 385.4h.9M73.2 401.1h.9M75.7 412.0h.9M52.5 424.0h.9M66.0 374.8h.9M47.1 401.8h.9M72.1 413.8h.9M54.6 387.2h.9M49.1 391.7h.9M79.7 384.6h.9M70.4 381.2h.9M53.8 388.8h.9M73.9 409.6h.9M47.4 383.4h.9M58.4 416.4h.9M51.9 382.3h.9M64.5 394.6h.9" stroke="#000" stroke-width=".9" stroke-opacity="0.42" fill="none"/>
<rect x="42.5" y="368.5" width="96.00" height="96.00" fill="none" stroke="#8c8c8c" stroke-width="0.9"/>
<line x1="42.5" y1="370.5" x2="138.5" y2="370.5" stroke="#505050" stroke-width="0.9"/>
<path d="M81.5 370.6V458.5H135.5V370.6" fill="none" stroke="#2a2a2a" stroke-width="1.0"/>
<path d="M42.5 400.5H95.66L135.5 378.0" fill="none" stroke="#2a2a2a" stroke-width="1.1"/>
<line x1="42.5" y1="427.5" x2="135.5" y2="427.5" stroke="#2a2a2a" stroke-width="1.0"/>
<line x1="39.9" y1="378.4" x2="42.5" y2="378.4" stroke="#333" stroke-width="0.8"/>
<text x="26.99" y="381.7" font-size="6.0" fill="#151515" style="stroke-width:0.2px">10</text>
<text x="34.36" y="379.3" font-size="4.2" fill="#151515" style="stroke-width:0.12px">5</text>
<line x1="39.9" y1="400.5" x2="42.5" y2="400.5" stroke="#333" stroke-width="0.8"/>
<text x="26.99" y="403.8" font-size="6.0" fill="#151515" style="stroke-width:0.2px">10</text>
<text x="34.36" y="401.4" font-size="4.2" fill="#151515" style="stroke-width:0.12px">4</text>
<line x1="39.9" y1="427.4" x2="42.5" y2="427.4" stroke="#333" stroke-width="0.8"/>
<text x="26.99" y="430.7" font-size="6.0" fill="#151515" style="stroke-width:0.2px">10</text>
<text x="34.36" y="428.3" font-size="4.2" fill="#151515" style="stroke-width:0.12px">3</text>
<line x1="39.9" y1="442.5" x2="42.5" y2="442.5" stroke="#333" stroke-width="0.8"/>
<text x="35.400000000000006" y="445.0" font-size="6.0" text-anchor="end" fill="#151515" style="stroke-width:0.2px">0</text>
<line x1="39.9" y1="458.0" x2="42.5" y2="458.0" stroke="#333" stroke-width="0.8"/>
<text x="24.59" y="461.3" font-size="5.4" fill="#151515" style="stroke-width:0.1px">-</text>
<text x="26.99" y="461.3" font-size="6.0" fill="#151515" style="stroke-width:0.2px">10</text>
<text x="34.36" y="458.9" font-size="4.2" fill="#151515" style="stroke-width:0.12px">3</text>
<line x1="41.2" y1="385.03" x2="42.5" y2="385.03" stroke="#777" stroke-width="0.5"/>
<line x1="41.2" y1="389.45" x2="42.5" y2="389.45" stroke="#777" stroke-width="0.5"/>
<line x1="41.2" y1="392.102" x2="42.5" y2="392.102" stroke="#777" stroke-width="0.5"/>
<line x1="41.2" y1="394.312" x2="42.5" y2="394.312" stroke="#777" stroke-width="0.5"/>
<line x1="41.2" y1="396.08" x2="42.5" y2="396.08" stroke="#777" stroke-width="0.5"/>
<line x1="41.2" y1="397.627" x2="42.5" y2="397.627" stroke="#777" stroke-width="0.5"/>
<line x1="41.2" y1="398.953" x2="42.5" y2="398.953" stroke="#777" stroke-width="0.5"/>
<line x1="41.2" y1="408.57" x2="42.5" y2="408.57" stroke="#777" stroke-width="0.5"/>
<line x1="41.2" y1="413.95" x2="42.5" y2="413.95" stroke="#777" stroke-width="0.5"/>
<line x1="41.2" y1="417.178" x2="42.5" y2="417.178" stroke="#777" stroke-width="0.5"/>
<line x1="41.2" y1="419.868" x2="42.5" y2="419.868" stroke="#777" stroke-width="0.5"/>
<line x1="41.2" y1="422.02" x2="42.5" y2="422.02" stroke="#777" stroke-width="0.5"/>
<line x1="41.2" y1="423.90299999999996" x2="42.5" y2="423.90299999999996" stroke="#777" stroke-width="0.5"/>
<line x1="41.2" y1="425.517" x2="42.5" y2="425.517" stroke="#777" stroke-width="0.5"/>
<line x1="41.2" y1="431.93" x2="42.5" y2="431.93" stroke="#777" stroke-width="0.5"/>
<line x1="41.2" y1="434.95" x2="42.5" y2="434.95" stroke="#777" stroke-width="0.5"/>
<line x1="41.2" y1="436.762" x2="42.5" y2="436.762" stroke="#777" stroke-width="0.5"/>
<line x1="41.2" y1="438.272" x2="42.5" y2="438.272" stroke="#777" stroke-width="0.5"/>
<line x1="41.2" y1="439.48" x2="42.5" y2="439.48" stroke="#777" stroke-width="0.5"/>
<line x1="41.2" y1="440.537" x2="42.5" y2="440.537" stroke="#777" stroke-width="0.5"/>
<line x1="41.2" y1="441.443" x2="42.5" y2="441.443" stroke="#777" stroke-width="0.5"/>
<line x1="41.2" y1="447.15" x2="42.5" y2="447.15" stroke="#777" stroke-width="0.5"/>
<line x1="41.2" y1="450.25" x2="42.5" y2="450.25" stroke="#777" stroke-width="0.5"/>
<line x1="41.2" y1="452.11" x2="42.5" y2="452.11" stroke="#777" stroke-width="0.5"/>
<line x1="41.2" y1="453.66" x2="42.5" y2="453.66" stroke="#777" stroke-width="0.5"/>
<line x1="41.2" y1="454.9" x2="42.5" y2="454.9" stroke="#777" stroke-width="0.5"/>
<line x1="41.2" y1="455.985" x2="42.5" y2="455.985" stroke="#777" stroke-width="0.5"/>
<line x1="41.2" y1="456.915" x2="42.5" y2="456.915" stroke="#777" stroke-width="0.5"/>
<line x1="48.278" y1="464.5" x2="48.278" y2="467.1" stroke="#333" stroke-width="0.8"/>
<text x="43.37" y="476.2" font-size="5.4" fill="#151515" style="stroke-width:0.1px">-</text>
<text x="45.77" y="476.2" font-size="6.0" fill="#151515" style="stroke-width:0.2px">10</text>
<text x="53.14" y="473.8" font-size="4.2" fill="#151515" style="stroke-width:0.12px">3</text>
<line x1="66.0935" y1="464.5" x2="66.0935" y2="467.1" stroke="#333" stroke-width="0.8"/>
<text x="66.0935" y="476.2" font-size="6.0" text-anchor="middle" fill="#151515" style="stroke-width:0.2px">0</text>
<line x1="76.39760000000001" y1="464.5" x2="76.39760000000001" y2="467.1" stroke="#333" stroke-width="0.8"/>
<text x="76.4" y="476.2" font-size="6.0" fill="#151515" style="stroke-width:0.2px">10</text>
<text x="83.77" y="473.8" font-size="4.2" fill="#151515" style="stroke-width:0.12px">3</text>
<line x1="102.97640000000001" y1="464.5" x2="102.97640000000001" y2="467.1" stroke="#333" stroke-width="0.8"/>
<text x="102.98" y="476.2" font-size="6.0" fill="#151515" style="stroke-width:0.2px">10</text>
<text x="110.35" y="473.8" font-size="4.2" fill="#151515" style="stroke-width:0.12px">4</text>
<line x1="124.7402" y1="464.5" x2="124.7402" y2="467.1" stroke="#333" stroke-width="0.8"/>
<text x="124.74" y="476.2" font-size="6.0" fill="#151515" style="stroke-width:0.2px">10</text>
<text x="132.11" y="473.8" font-size="4.2" fill="#151515" style="stroke-width:0.12px">5</text>
<line x1="53.62265" y1="464.5" x2="53.62265" y2="465.8" stroke="#777" stroke-width="0.5"/>
<line x1="57.18575" y1="464.5" x2="57.18575" y2="465.8" stroke="#777" stroke-width="0.5"/>
<line x1="59.32361" y1="464.5" x2="59.32361" y2="465.8" stroke="#777" stroke-width="0.5"/>
<line x1="61.105160000000005" y1="464.5" x2="61.105160000000005" y2="465.8" stroke="#777" stroke-width="0.5"/>
<line x1="62.53040000000001" y1="464.5" x2="62.53040000000001" y2="465.8" stroke="#777" stroke-width="0.5"/>
<line x1="63.777485000000006" y1="464.5" x2="63.777485000000006" y2="465.8" stroke="#777" stroke-width="0.5"/>
<line x1="64.84641500000001" y1="464.5" x2="64.84641500000001" y2="465.8" stroke="#777" stroke-width="0.5"/>
<line x1="69.18473" y1="464.5" x2="69.18473" y2="465.8" stroke="#777" stroke-width="0.5"/>
<line x1="71.24555000000001" y1="464.5" x2="71.24555000000001" y2="465.8" stroke="#777" stroke-width="0.5"/>
<line x1="72.482042" y1="464.5" x2="72.482042" y2="465.8" stroke="#777" stroke-width="0.5"/>
<line x1="73.51245200000001" y1="464.5" x2="73.51245200000001" y2="465.8" stroke="#777" stroke-width="0.5"/>
<line x1="74.33678" y1="464.5" x2="74.33678" y2="465.8" stroke="#777" stroke-width="0.5"/>
<line x1="75.05806700000001" y1="464.5" x2="75.05806700000001" y2="465.8" stroke="#777" stroke-width="0.5"/>
<line x1="75.67631300000001" y1="464.5" x2="75.67631300000001" y2="465.8" stroke="#777" stroke-width="0.5"/>
<line x1="84.37124000000001" y1="464.5" x2="84.37124000000001" y2="465.8" stroke="#777" stroke-width="0.5"/>
<line x1="89.68700000000001" y1="464.5" x2="89.68700000000001" y2="465.8" stroke="#777" stroke-width="0.5"/>
<line x1="92.87645600000002" y1="464.5" x2="92.87645600000002" y2="465.8" stroke="#777" stroke-width="0.5"/>
<line x1="95.53433600000001" y1="464.5" x2="95.53433600000001" y2="465.8" stroke="#777" stroke-width="0.5"/>
<line x1="97.66064000000001" y1="464.5" x2="97.66064000000001" y2="465.8" stroke="#777" stroke-width="0.5"/>
<line x1="99.52115600000002" y1="464.5" x2="99.52115600000002" y2="465.8" stroke="#777" stroke-width="0.5"/>
<line x1="101.11588400000001" y1="464.5" x2="101.11588400000001" y2="465.8" stroke="#777" stroke-width="0.5"/>
<line x1="109.50554000000001" y1="464.5" x2="109.50554000000001" y2="465.8" stroke="#777" stroke-width="0.5"/>
<line x1="113.85830000000001" y1="464.5" x2="113.85830000000001" y2="465.8" stroke="#777" stroke-width="0.5"/>
<line x1="116.46995600000001" y1="464.5" x2="116.46995600000001" y2="465.8" stroke="#777" stroke-width="0.5"/>
<line x1="118.646336" y1="464.5" x2="118.646336" y2="465.8" stroke="#777" stroke-width="0.5"/>
<line x1="120.38744" y1="464.5" x2="120.38744" y2="465.8" stroke="#777" stroke-width="0.5"/>
<line x1="121.91090600000001" y1="464.5" x2="121.91090600000001" y2="465.8" stroke="#777" stroke-width="0.5"/>
<line x1="123.216734" y1="464.5" x2="123.216734" y2="465.8" stroke="#777" stroke-width="0.5"/>
<rect x="40.6" y="440.5" width="1.9" height="4" fill="#111"/>
<rect x="62.4564" y="464.7" width="4" height="1.8" fill="#111"/>
<text x="90.65" y="363.8" font-size="7.5" text-anchor="middle" fill="#151515">Nandi</text>
<text x="46.3" y="377.2" font-size="6.6" fill="#151515" style="stroke-width:0.22px">5.9%</text>
<text x="105" y="377.2" font-size="6.6" fill="#151515" style="stroke-width:0.22px">5.7%</text>
<text x="118.6" y="392.9" font-size="6.6" fill="#151515" style="stroke-width:0.22px">75.6%</text>
<text x="46.3" y="409.7" font-size="6.6" fill="#151515" style="stroke-width:0.22px">3.6%</text>
<text x="118.6" y="454.7" font-size="6.6" fill="#151515" style="stroke-width:0.22px">9.1%</text>
<clipPath id="c720"><rect x="163.5" y="370.5" width="95.5" height="93.5"/></clipPath><g clip-path="url(#c720)"><path d="M202 399L216 399L228 394L238 394L238 448L202 448Z" fill="#000" opacity="0.15" filter="url(#b3)"/><ellipse cx="220" cy="425" rx="13" ry="18" fill="#000" opacity="0.12" filter="url(#b5)"/><path d="M213 401L235 399L228 421L223 427L218 419Z" fill="#000" opacity="0.75" filter="url(#b2)"/><ellipse cx="223" cy="410" rx="6" ry="6" fill="#000" opacity="0.5" filter="url(#b2)"/><rect x="184" y="385" width="10" height="42" fill="#000" opacity="0.12" filter="url(#b2)"/><ellipse cx="188" cy="393.5" rx="3" ry="4.5" fill="#000" opacity="0.8" filter="url(#b1)"/></g>
<path d="M227.5 406.7h.9M221.1 402.6h.9M221.3 409.2h.9M225.3 407.2h.9M230.5 408.7h.9M231.6 417.3h.9M220.8 411.9h.9M228.4 404.8h.9M223.1 407.7h.9M231.9 403.1h.9M236.9 416.1h.9M226.7 401.2h.9M227.0 406.0h.9M211.3 420.5h.9M226.8 406.8h.9M215.6 410.0h.9M221.1 412.4h.9M228.3 397.4h.9M216.1 410.3h.9M235.7 415.8h.9M221.3 410.2h.9M227.9 413.2h.9M221.3 402.7h.9M227.5 409.3h.9M221.1 406.8h.9M223.7 409.0h.9M212.5 399.7h.9M228.8 404.6h.9M227.4 412.3h.9M222.3 404.5h.9M222.5 412.7h.9M218.6 419.7h.9M220.3 410.9h.9M225.2 409.7h.9M225.5 413.3h.9M227.6 402.8h.9M229.7 405.5h.9M228.9 401.6h.9M226.0 403.2h.9M225.7 421.0h.9M223.0 403.7h.9M230.2 409.1h.9M220.4 406.7h.9M220.1 406.2h.9M225.7 407.1h.9M216.9 407.6h.9M222.4 411.5h.9M216.5 407.1h.9M219.8 412.0h.9M241.4 408.1h.9M215.9 407.1h.9M228.9 407.8h.9M221.0 420.9h.9M218.3 401.0h.9M216.6 408.2h.9M227.0 414.0h.9M222.1 413.0h.9M224.0 402.5h.9M232.2 401.7h.9M217.2 408.8h.9M213.4 417.2h.9M224.6 414.4h.9M230.8 408.8h.9M224.8 406.9h.9M231.0 407.7h.9M229.6 408.2h.9M225.7 399.7h.9M220.3 399.8h.9M224.8 408.7h.9M229.7 422.2h.9M226.6 410.9h.9M224.0 397.3h.9M226.0 401.8h.9M224.0 408.8h.9M228.2 402.4h.9M223.0 410.8h.9M232.2 404.3h.9M226.1 403.9h.9M225.1 400.2h.9M215.3 412.2h.9M213.5 411.5h.9M223.3 412.0h.9M221.9 413.9h.9M233.7 408.4h.9M220.4 417.5h.9M219.3 402.4h.9M228.1 414.4h.9M214.0 406.6h.9M224.5 406.1h.9M217.6 404.8h.9M210.2 413.3h.9M215.1 410.8h.9M223.2 416.9h.9M223.9 403.3h.9M222.6 411.0h.9M219.4 403.1h.9M224.2 413.2h.9M225.3 419.2h.9M224.2 403.2h.9M231.9 417.1h.9M228.7 402.8h.9M219.2 419.8h.9M220.6 410.8h.9M219.2 413.5h.9M224.5 402.3h.9M228.9 420.7h.9M231.6 409.1h.9M224.7 406.7h.9M220.8 416.5h.9M218.5 404.6h.9M215.7 408.0h.9M232.4 407.3h.9M222.1 404.5h.9M221.3 417.2h.9M233.0 421.3h.9M220.7 403.4h.9M223.4 420.6h.9M226.0 417.3h.9M214.7 407.5h.9M217.2 414.3h.9M225.7 405.6h.9M214.2 406.2h.9M221.1 403.2h.9M223.5 424.1h.9M227.0 416.9h.9M223.5 404.6h.9M218.1 409.0h.9M224.0 414.5h.9M229.5 408.3h.9M221.0 418.0h.9M218.3 410.5h.9M218.6 418.6h.9M212.5 412.5h.9M230.2 411.7h.9M225.6 406.2h.9M223.5 412.5h.9M224.8 415.8h.9M230.2 399.6h.9M222.1 414.1h.9M217.4 419.0h.9M229.4 416.6h.9M212.6 413.2h.9M222.2 409.1h.9M229.8 403.2h.9M231.6 404.4h.9M223.6 408.0h.9M223.6 403.4h.9M223.4 411.2h.9M222.7 407.2h.9M223.4 408.5h.9M230.9 418.8h.9M226.5 411.9h.9M232.5 415.3h.9M226.8 399.1h.9M222.2 414.5h.9M222.7 405.1h.9M234.9 421.4h.9M221.0 400.6h.9M229.2 405.5h.9M219.3 416.2h.9M226.8 424.5h.9M222.3 400.8h.9M221.9 409.2h.9M219.7 405.7h.9M220.3 421.5h.9M224.8 424.6h.9M230.9 412.9h.9M226.0 417.1h.9M219.6 406.8h.9M226.2 403.4h.9M211.5 414.5h.9M223.6 408.1h.9M235.2 416.2h.9M212.0 409.2h.9M222.4 419.8h.9M228.9 410.0h.9M233.4 411.0h.9M230.3 417.4h.9M221.8 412.2h.9M232.3 420.1h.9M231.9 406.9h.9M222.4 404.7h.9M224.5 416.9h.9M219.6 414.2h.9M222.5 407.0h.9M231.0 403.4h.9M218.2 406.3h.9M230.1 410.4h.9M225.8 409.0h.9M226.0 403.4h.9M221.1 404.9h.9M227.9 414.2h.9M223.4 418.0h.9M223.1 420.6h.9M216.1 405.4h.9M224.2 403.2h.9M222.2 414.3h.9M228.4 408.3h.9M224.7 415.4h.9M223.7 416.4h.9M221.4 407.7h.9M221.0 409.4h.9M220.4 399.7h.9M227.5 399.9h.9M216.7 414.9h.9M216.6 423.9h.9M225.3 398.9h.9M231.2 400.5h.9M225.6 406.8h.9M223.1 414.8h.9M234.6 397.6h.9M225.5 410.1h.9M221.1 418.9h.9M224.8 394.9h.9M229.0 402.2h.9M222.0 414.5h.9M227.9 417.2h.9M222.2 404.4h.9M224.6 415.7h.9M225.4 416.1h.9M211.5 400.6h.9M230.0 409.2h.9M226.8 406.0h.9M226.0 407.8h.9M224.7 411.3h.9M222.5 402.5h.9M230.5 397.3h.9M223.7 400.5h.9M228.0 401.0h.9M215.1 408.4h.9M233.6 415.9h.9M224.7 406.3h.9M225.1 405.0h.9M218.5 406.3h.9M219.1 414.8h.9M225.7 408.9h.9M207.2 410.0h.9M229.8 405.2h.9M219.8 409.4h.9M219.5 407.1h.9M223.6 417.4h.9M233.0 410.1h.9M224.5 417.8h.9M228.9 412.7h.9M217.1 411.5h.9M220.4 398.2h.9M227.8 408.3h.9M217.6 403.5h.9M210.2 416.4h.9M219.9 412.0h.9M221.5 412.3h.9M222.2 408.6h.9M226.9 418.7h.9M226.6 396.3h.9M221.2 414.5h.9M226.2 407.0h.9M222.8 402.9h.9M224.0 404.8h.9M218.6 409.3h.9M226.7 411.6h.9M221.7 416.9h.9M229.6 405.1h.9M216.4 404.6h.9M229.1 416.4h.9M217.6 417.1h.9M225.6 402.7h.9M217.9 404.8h.9M218.9 411.7h.9M227.0 407.6h.9M215.3 414.1h.9M228.1 404.4h.9M234.1 405.1h.9M227.1 430.1h.9M215.8 417.1h.9M226.8 420.4h.9M223.0 412.4h.9M224.4 405.3h.9M223.5 417.7h.9M229.0 420.1h.9M232.2 408.5h.9M225.3 407.9h.9M230.8 413.6h.9M221.3 409.1h.9M235.6 399.5h.9M218.9 414.4h.9M218.3 415.2h.9M221.9 397.7h.9M227.9 421.9h.9M228.7 402.0h.9M215.9 401.2h.9M225.0 403.4h.9M225.8 409.4h.9M236.7 408.9h.9M222.3 397.9h.9M216.8 410.2h.9M215.5 412.4h.9M222.9 404.7h.9M226.4 393.6h.9M225.0 401.6h.9M223.5 404.5h.9M219.9 414.4h.9M223.7 406.0h.9M224.1 412.4h.9M236.6 428.7h.9M223.4 409.4h.9M218.4 408.0h.9M221.6 415.5h.9M222.7 417.9h.9M213.2 418.6h.9M223.6 409.7h.9M224.7 400.7h.9M224.5 396.3h.9M218.7 403.4h.9M222.4 407.0h.9M225.2 401.0h.9M227.9 399.1h.9M225.3 406.8h.9M217.2 406.0h.9M227.3 405.1h.9M231.6 421.6h.9M222.6 415.6h.9M210.8 400.1h.9M228.1 415.5h.9M229.2 408.1h.9M224.1 403.5h.9M221.9 405.0h.9M229.8 427.6h.9M228.2 408.2h.9M224.0 402.8h.9M223.2 407.9h.9M225.1 414.1h.9M229.3 409.9h.9M224.8 407.5h.9M218.2 402.5h.9M221.0 404.3h.9M224.9 399.4h.9M226.0 409.1h.9M221.2 412.4h.9M227.8 412.1h.9M220.9 408.5h.9M229.0 418.2h.9M232.5 411.9h.9M228.2 413.2h.9M224.5 401.7h.9M226.9 406.5h.9M213.2 406.0h.9M231.3 416.6h.9M219.5 408.3h.9M218.8 408.1h.9M230.5 420.5h.9M230.3 410.9h.9M206.8 420.0h.9M224.2 420.2h.9M210.1 423.0h.9M200.3 426.6h.9M227.9 426.7h.9M211.9 425.9h.9M221.6 420.3h.9M207.4 418.0h.9M228.3 410.2h.9M224.6 425.7h.9M216.2 433.3h.9M210.8 410.7h.9M212.5 425.4h.9M220.4 415.4h.9M213.1 414.7h.9M209.7 403.6h.9M224.2 413.5h.9M222.1 425.3h.9M228.2 423.5h.9M226.8 428.1h.9M208.2 408.1h.9M220.0 387.7h.9M210.9 426.4h.9M206.5 416.4h.9M220.1 425.9h.9M216.4 441.4h.9M222.7 431.1h.9M215.1 388.9h.9M225.1 410.3h.9M217.5 412.5h.9M221.3 438.1h.9M228.5 406.8h.9M234.8 412.4h.9M215.8 431.3h.9M201.0 392.9h.9M205.0 409.3h.9M230.2 398.2h.9M235.0 402.2h.9M227.0 422.7h.9M232.8 417.1h.9M216.1 414.7h.9M214.5 415.8h.9M231.0 410.8h.9M226.4 415.7h.9M224.4 423.4h.9M225.1 406.2h.9M219.3 418.6h.9M204.6 410.6h.9M229.8 429.4h.9M221.9 433.2h.9M213.0 425.8h.9M215.2 430.8h.9M227.4 410.9h.9M213.7 412.9h.9M209.5 420.0h.9M223.2 413.5h.9M227.3 425.3h.9M228.0 415.2h.9M227.2 400.6h.9M222.4 404.0h.9M218.1 421.0h.9M202.6 449.1h.9M218.4 419.1h.9M214.3 397.0h.9M234.6 420.7h.9M215.3 408.3h.9M222.7 399.8h.9M227.0 452.5h.9M209.7 449.4h.9M209.3 416.9h.9M231.2 417.1h.9M230.6 413.8h.9M204.8 428.5h.9M220.4 428.8h.9M231.9 432.1h.9M212.6 403.1h.9M220.1 414.0h.9M220.6 428.4h.9M216.5 419.7h.9M215.0 397.9h.9M195.7 417.7h.9M209.4 431.1h.9M216.3 389.2h.9M221.3 438.3h.9M235.5 415.7h.9M231.9 430.6h.9M221.2 422.8h.9M209.7 416.7h.9M217.8 415.6h.9M229.2 408.6h.9M218.3 419.8h.9M221.8 422.3h.9M231.0 397.7h.9M211.3 409.6h.9M213.3 386.1h.9M233.1 396.7h.9M224.7 407.0h.9M228.3 423.8h.9M222.2 417.4h.9M210.7 418.7h.9M231.7 411.1h.9M216.3 402.3h.9M224.4 428.4h.9M225.1 426.5h.9M224.1 401.7h.9M209.7 413.2h.9M224.4 422.1h.9M208.4 402.8h.9M222.9 406.4h.9M216.3 423.0h.9M233.5 418.9h.9M214.6 430.1h.9M218.6 413.5h.9M218.4 426.0h.9M202.5 424.5h.9M217.7 442.9h.9M219.3 407.5h.9M212.7 417.0h.9M218.3 404.6h.9M222.1 426.0h.9M223.1 427.4h.9M224.6 440.1h.9M229.1 415.5h.9M229.9 429.3h.9M217.1 421.2h.9M222.6 440.8h.9M219.4 419.0h.9M215.5 416.0h.9M215.2 429.8h.9M210.0 417.4h.9M221.3 409.4h.9M228.2 394.9h.9M215.8 424.9h.9M215.3 435.2h.9M211.4 420.4h.9M207.8 432.0h.9M209.8 413.6h.9M221.2 428.7h.9M204.6 430.2h.9M233.9 413.4h.9M226.7 400.3h.9M219.9 415.2h.9M214.1 419.0h.9M227.6 428.1h.9M216.5 393.0h.9M236.9 438.1h.9M218.3 426.5h.9M223.6 415.2h.9M212.1 404.4h.9M229.3 410.0h.9M224.0 424.0h.9M224.1 424.0h.9M234.6 423.1h.9M211.9 397.4h.9M203.2 412.2h.9M202.1 417.8h.9M213.4 415.3h.9M216.5 409.9h.9M216.3 420.2h.9M224.0 434.4h.9M229.3 401.2h.9M213.2 434.5h.9M230.7 405.5h.9M214.9 405.7h.9M211.0 404.9h.9M226.3 428.6h.9M227.4 424.5h.9M225.8 432.4h.9M210.8 407.9h.9M232.1 402.7h.9M223.4 446.2h.9M212.9 425.5h.9M220.2 385.5h.9M221.6 404.5h.9M219.5 419.0h.9M214.7 437.6h.9M234.7 443.2h.9M215.5 404.2h.9M223.2 427.2h.9M219.4 415.7h.9M222.2 414.3h.9M205.5 412.8h.9M237.6 402.1h.9M233.2 406.3h.9M219.4 413.5h.9M230.0 424.2h.9M220.7 399.8h.9M227.1 437.3h.9M219.1 413.3h.9M206.2 428.8h.9M214.6 405.3h.9M214.8 402.4h.9M213.7 433.0h.9M202.0 425.7h.9M217.8 392.3h.9M224.9 424.7h.9M223.2 396.7h.9M212.7 424.1h.9M234.6 428.5h.9M217.9 418.2h.9M223.1 413.8h.9M218.0 415.7h.9M212.6 417.2h.9M221.0 407.0h.9M211.4 423.7h.9M210.0 410.0h.9M203.1 395.1h.9M221.3 422.1h.9M225.2 441.7h.9M219.3 432.1h.9M216.3 415.8h.9M217.9 408.3h.9M227.0 411.2h.9M215.3 435.9h.9M219.3 428.2h.9M223.0 406.7h.9M218.7 421.3h.9M222.7 438.1h.9M225.6 419.3h.9M217.3 419.9h.9M236.7 410.9h.9M213.8 396.1h.9M219.9 429.9h.9M222.1 426.9h.9M219.5 428.0h.9M209.9 435.1h.9M220.1 417.3h.9M211.4 413.0h.9M218.4 424.2h.9M224.5 402.2h.9M226.4 392.5h.9M219.6 413.6h.9M215.6 410.0h.9M238.6 406.7h.9M218.8 419.6h.9M235.7 427.9h.9M213.0 409.8h.9M221.9 391.7h.9M233.7 395.8h.9M212.1 406.2h.9M209.4 415.4h.9M228.3 418.0h.9M233.7 424.8h.9M227.1 445.3h.9M223.8 405.1h.9M215.3 431.9h.9M223.0 415.9h.9M227.5 420.6h.9M216.5 414.0h.9M205.6 432.7h.9M229.7 429.7h.9M209.6 438.3h.9M208.1 446.3h.9M215.7 401.2h.9M229.4 417.6h.9M208.5 430.9h.9M220.2 432.4h.9M236.2 426.4h.9M223.4 410.1h.9M217.9 446.4h.9M212.7 407.4h.9M206.2 432.0h.9M231.9 413.8h.9M208.1 415.8h.9M221.0 431.1h.9M228.3 408.4h.9M214.6 429.9h.9M218.0 420.7h.9M228.7 405.7h.9M220.9 418.4h.9M230.4 422.5h.9M229.7 428.3h.9M232.9 433.8h.9M207.4 401.0h.9M222.5 408.8h.9M220.5 409.3h.9M218.1 400.4h.9M204.9 444.8h.9M218.4 412.9h.9M230.9 415.0h.9M228.2 413.5h.9M213.6 407.2h.9M218.9 430.9h.9M218.8 420.7h.9M226.9 409.9h.9M213.8 414.6h.9M214.1 424.1h.9M207.4 422.8h.9M226.7 430.1h.9M236.3 435.5h.9M223.3 412.2h.9M225.1 405.8h.9M226.8 412.5h.9M209.9 420.4h.9M225.2 410.6h.9M233.1 422.7h.9M228.9 402.5h.9M218.2 418.0h.9M213.2 422.9h.9M214.0 407.5h.9M230.2 428.4h.9M214.6 440.1h.9M220.9 378.3h.9M221.9 408.1h.9M217.4 415.9h.9M211.9 428.4h.9M223.7 405.2h.9M213.3 420.5h.9M216.2 437.0h.9M229.9 422.2h.9M226.2 411.1h.9M200.9 410.7h.9M210.1 421.5h.9M226.6 424.3h.9M211.9 423.3h.9M226.9 418.5h.9M229.1 390.0h.9M229.1 407.4h.9M235.3 414.1h.9M208.7 420.4h.9M212.2 425.3h.9M215.6 410.0h.9M215.9 427.4h.9M228.3 438.6h.9M224.2 424.8h.9M212.9 428.5h.9M216.1 412.7h.9M209.4 405.1h.9M216.9 424.5h.9M208.3 423.1h.9M236.6 431.9h.9M227.3 413.6h.9M217.1 404.5h.9M218.9 404.7h.9M227.1 421.0h.9M220.1 391.9h.9M231.3 434.8h.9M221.7 412.1h.9M226.1 413.9h.9M210.6 438.0h.9M211.4 400.1h.9M215.6 426.8h.9M235.8 422.9h.9M217.5 432.9h.9M228.4 428.7h.9M207.7 403.7h.9M224.9 396.2h.9M210.8 389.0h.9M216.1 413.1h.9M220.2 423.5h.9M208.0 419.2h.9M240.8 411.8h.9M210.3 423.7h.9M215.8 398.4h.9M235.2 433.6h.9M228.5 436.5h.9M198.8 433.1h.9M223.9 426.7h.9M229.6 440.1h.9M211.3 398.4h.9M220.3 403.4h.9M213.7 417.5h.9M213.6 417.2h.9M235.5 412.8h.9M229.0 423.9h.9M213.0 413.0h.9M209.5 438.7h.9M227.0 418.1h.9M222.4 385.9h.9M217.5 411.6h.9M222.5 407.7h.9M208.9 397.9h.9M213.8 429.8h.9M213.9 404.1h.9M231.4 392.5h.9M220.3 411.6h.9M211.5 441.2h.9M213.9 417.7h.9M230.0 442.2h.9M223.6 426.0h.9M215.8 441.7h.9M217.4 426.3h.9M227.1 425.3h.9M217.9 377.9h.9M218.3 398.7h.9M214.5 398.5h.9M199.0 412.9h.9M225.7 429.6h.9M219.1 426.6h.9M227.8 424.8h.9M217.5 403.1h.9M225.7 414.0h.9M217.3 423.3h.9M213.9 418.6h.9M213.4 404.5h.9M217.2 396.9h.9M220.8 429.5h.9M235.8 403.2h.9M223.7 414.2h.9M215.5 416.6h.9M229.1 422.6h.9M212.4 406.5h.9M226.7 400.5h.9M222.5 413.9h.9M215.7 404.8h.9M224.4 418.5h.9M230.4 396.4h.9M226.1 411.2h.9M203.9 399.7h.9M204.9 445.2h.9M219.3 392.5h.9M217.7 409.6h.9M207.6 412.2h.9M226.9 409.0h.9M224.5 399.5h.9M230.9 403.8h.9M222.8 414.1h.9M235.5 436.4h.9M214.5 434.2h.9M216.8 441.2h.9M226.0 410.6h.9M223.6 420.1h.9M206.8 435.4h.9M213.3 425.5h.9M225.5 421.3h.9M221.3 419.8h.9M213.8 429.8h.9M217.7 411.4h.9M218.9 422.7h.9M218.3 407.7h.9M224.3 428.5h.9M226.0 426.0h.9M213.3 418.2h.9M222.9 416.7h.9M219.1 439.8h.9M236.9 410.8h.9M220.4 422.4h.9M209.9 394.7h.9M208.6 403.7h.9M215.0 417.3h.9M214.7 429.7h.9M204.7 428.7h.9M216.7 409.7h.9M212.6 442.9h.9M231.4 380.7h.9M224.1 397.6h.9M212.7 431.9h.9M229.2 434.8h.9M218.5 440.7h.9M202.5 406.0h.9M219.9 398.8h.9M232.9 397.8h.9M220.8 404.6h.9M214.7 423.3h.9M220.8 412.1h.9M215.0 412.1h.9M225.4 425.7h.9M222.6 414.5h.9M217.3 419.7h.9M227.4 437.1h.9M235.2 408.0h.9M223.2 418.7h.9M231.7 407.1h.9M227.6 427.2h.9M218.7 401.7h.9M220.8 404.8h.9M233.5 426.2h.9M223.9 390.2h.9M229.0 441.8h.9M206.6 425.7h.9M227.2 415.0h.9M205.1 412.6h.9M237.8 424.2h.9M223.3 422.8h.9M228.3 404.1h.9M214.6 419.3h.9M219.9 405.9h.9M210.9 410.5h.9M212.0 417.2h.9M222.4 418.5h.9M217.4 413.4h.9M217.8 416.2h.9M218.9 412.0h.9M232.5 413.3h.9M229.3 438.3h.9M237.2 436.6h.9M218.4 405.6h.9M215.4 388.6h.9M222.6 428.4h.9M227.3 442.4h.9M208.2 414.7h.9M226.4 422.9h.9M218.0 418.2h.9M224.9 422.3h.9M223.4 411.1h.9M218.2 417.7h.9M213.7 414.8h.9M218.3 414.2h.9M230.4 420.2h.9M205.4 399.5h.9M222.1 432.8h.9M219.3 419.3h.9M218.9 420.7h.9M222.3 408.6h.9M224.4 391.1h.9M220.6 416.5h.9M232.2 411.7h.9M218.0 385.6h.9M203.8 438.1h.9M234.8 414.0h.9M217.4 424.2h.9M209.8 437.7h.9M212.5 426.2h.9M216.0 379.8h.9M221.9 434.3h.9M219.7 393.2h.9M232.0 411.5h.9M219.1 438.7h.9M217.8 406.8h.9M217.3 397.5h.9M225.2 415.9h.9M220.9 413.5h.9M234.0 388.9h.9M215.4 436.9h.9M217.2 416.8h.9M216.2 415.1h.9M213.3 418.0h.9M216.5 418.6h.9M212.2 435.0h.9M200.4 414.4h.9M204.6 408.8h.9M209.6 423.3h.9M196.4 420.9h.9M212.0 426.1h.9M224.7 405.6h.9M221.6 423.4h.9M204.6 424.8h.9M205.4 403.6h.9M214.0 424.1h.9M211.7 416.8h.9M223.9 436.0h.9M219.9 439.4h.9M221.0 421.5h.9M216.4 402.2h.9M227.0 416.7h.9M220.6 405.5h.9M225.9 433.8h.9M221.0 424.5h.9M217.6 413.0h.9M214.4 403.0h.9M210.5 419.8h.9M221.3 434.9h.9M224.3 424.9h.9M233.5 420.1h.9M222.5 420.4h.9M228.1 435.1h.9M222.8 428.7h.9M218.1 419.7h.9M224.8 389.8h.9M225.3 426.7h.9M217.9 420.0h.9M217.8 417.0h.9M218.9 432.6h.9M201.7 407.2h.9M222.8 421.6h.9M207.3 419.3h.9M218.8 414.9h.9M222.7 419.3h.9M223.4 432.0h.9M204.8 424.8h.9M234.0 417.4h.9M214.8 427.6h.9M230.3 390.0h.9M232.6 412.0h.9M228.9 407.4h.9M194.8 424.4h.9M210.3 440.6h.9M216.5 427.2h.9M209.2 430.6h.9M220.1 428.6h.9M234.7 439.0h.9M231.7 403.0h.9M216.8 424.1h.9M210.5 406.6h.9M227.5 411.3h.9M227.2 427.1h.9M218.1 428.9h.9M212.7 416.4h.9M234.7 432.2h.9M236.1 417.7h.9M232.2 416.2h.9M228.0 418.3h.9M216.9 418.8h.9M223.1 433.0h.9M210.6 431.8h.9M234.8 412.7h.9M210.7 415.5h.9M213.5 411.6h.9M217.9 425.0h.9M218.9 422.5h.9M233.8 424.2h.9M228.0 403.5h.9M213.3 421.6h.9M223.5 410.0h.9M223.1 404.4h.9M234.2 418.5h.9M205.6 413.6h.9M215.4 424.3h.9M211.0 424.0h.9M222.2 417.5h.9M228.8 424.8h.9M218.7 421.8h.9M211.8 407.4h.9M221.9 430.7h.9M214.4 429.9h.9M207.7 431.4h.9M216.5 405.3h.9M220.9 405.3h.9M214.1 420.7h.9M214.3 429.2h.9M219.9 418.4h.9M214.2 432.5h.9M229.0 404.9h.9M226.0 425.4h.9M221.0 393.2h.9M229.8 407.6h.9M200.1 404.2h.9M211.7 425.9h.9M232.1 410.2h.9M212.3 418.1h.9M229.2 429.3h.9M224.5 410.1h.9M221.5 429.9h.9M218.7 405.8h.9M209.7 435.0h.9M206.6 405.4h.9M204.6 402.7h.9M224.4 423.4h.9M220.0 435.9h.9M223.2 394.9h.9M210.0 430.8h.9M220.7 433.3h.9M230.3 422.7h.9M213.3 400.1h.9M215.8 404.8h.9M216.9 424.2h.9M239.1 389.3h.9M230.6 432.2h.9M238.1 440.8h.9M218.1 402.9h.9M223.2 427.1h.9M198.6 408.8h.9M221.3 426.7h.9M215.5 412.1h.9M220.7 411.3h.9M221.3 416.3h.9M200.3 426.6h.9M223.1 425.9h.9M215.9 417.2h.9M208.3 436.1h.9M214.3 438.0h.9M227.1 428.4h.9M213.7 399.8h.9M232.6 409.5h.9M224.4 415.3h.9M219.4 424.7h.9M210.8 435.3h.9M211.5 410.1h.9M229.7 434.3h.9M219.3 402.4h.9M221.5 422.2h.9M221.8 412.3h.9M227.1 414.6h.9M226.1 434.2h.9M216.0 413.1h.9M222.1 419.3h.9M217.6 440.6h.9M224.2 421.5h.9M205.4 400.0h.9M217.3 404.0h.9M231.3 411.7h.9M207.6 421.1h.9M213.0 421.7h.9M221.1 395.7h.9M207.9 403.2h.9M219.7 401.2h.9M221.8 417.7h.9M226.1 422.9h.9M220.7 415.2h.9M220.1 436.5h.9M218.9 429.9h.9M210.6 443.5h.9M231.3 415.0h.9M219.2 408.9h.9M213.6 421.3h.9M215.6 450.0h.9M237.7 432.7h.9M230.0 431.2h.9M232.7 404.5h.9M231.5 419.4h.9M202.1 430.8h.9M209.3 414.4h.9M224.0 411.0h.9M203.0 442.3h.9M206.5 421.5h.9M210.9 415.9h.9M221.6 427.0h.9M209.9 418.3h.9M205.6 446.6h.9M225.7 410.9h.9M223.0 435.9h.9M224.4 416.4h.9M207.0 410.9h.9M218.4 413.5h.9M224.8 426.2h.9M211.3 437.0h.9M208.3 416.3h.9M203.6 435.1h.9M221.7 449.0h.9M222.6 431.8h.9M218.3 438.1h.9M237.1 442.0h.9M207.2 422.5h.9M222.8 411.1h.9M212.9 448.5h.9M226.1 407.6h.9M206.8 443.3h.9M218.4 416.4h.9M236.0 407.3h.9M218.8 438.1h.9M226.2 447.1h.9M233.7 406.9h.9M214.2 407.3h.9M233.8 414.4h.9M229.4 409.2h.9M227.1 431.8h.9M209.7 400.4h.9M221.3 418.0h.9M229.9 423.6h.9M205.4 438.2h.9M212.0 427.0h.9M227.2 423.3h.9M227.5 445.5h.9M213.1 442.5h.9M209.3 430.4h.9M225.5 429.4h.9M205.9 417.7h.9M233.6 444.8h.9M230.0 428.4h.9M231.0 409.7h.9M231.4 417.5h.9M226.3 445.2h.9M213.8 439.9h.9M204.2 434.8h.9M225.4 436.6h.9M234.6 443.5h.9M204.3 398.4h.9M238.0 433.0h.9M224.5 430.6h.9M202.5 437.4h.9M205.4 417.5h.9M206.7 409.7h.9M218.7 429.2h.9M226.1 444.9h.9M222.9 447.1h.9M208.5 398.5h.9M213.1 416.4h.9M234.9 442.7h.9M209.2 404.4h.9M221.2 438.3h.9M207.5 446.9h.9M215.9 436.8h.9M204.3 442.9h.9M237.5 398.4h.9M205.7 400.3h.9M209.8 440.2h.9M231.2 420.4h.9M204.4 430.3h.9M224.9 418.8h.9M226.3 400.5h.9M203.6 404.4h.9M231.9 413.9h.9M225.3 400.0h.9M210.7 403.0h.9M236.4 405.0h.9M219.1 411.9h.9M207.4 446.2h.9M220.2 449.3h.9M205.8 423.3h.9M222.0 408.8h.9M222.5 429.1h.9M228.1 401.6h.9M221.4 446.2h.9M228.9 399.4h.9M216.5 432.1h.9M202.2 399.0h.9M213.3 402.9h.9M218.7 426.7h.9M203.0 432.0h.9M214.4 413.4h.9M228.5 398.7h.9M232.5 423.1h.9M220.7 426.4h.9M218.7 410.1h.9M231.3 445.3h.9M206.7 404.9h.9M219.2 416.1h.9M229.5 445.9h.9M216.5 420.9h.9M225.9 419.3h.9M217.6 431.9h.9M236.2 428.8h.9M223.4 446.4h.9M207.5 431.9h.9M231.4 436.2h.9M207.9 407.8h.9M218.6 430.8h.9M227.3 420.7h.9M215.5 443.1h.9M233.2 428.8h.9M209.9 413.7h.9M221.1 410.7h.9M234.8 434.4h.9M234.1 409.5h.9M206.0 429.7h.9M226.2 445.2h.9M222.2 445.7h.9M224.5 405.3h.9M224.4 403.3h.9M230.4 431.0h.9M220.4 432.3h.9M205.2 419.5h.9M211.8 428.4h.9M236.1 426.9h.9M204.6 445.1h.9M203.7 407.2h.9M215.6 436.0h.9M223.9 430.2h.9M228.5 415.0h.9M230.0 409.5h.9M228.7 421.9h.9M236.9 437.6h.9M232.8 433.7h.9M215.8 417.5h.9M207.4 450.0h.9M214.0 448.5h.9M204.5 446.7h.9M225.1 408.7h.9M228.0 427.3h.9M227.1 419.9h.9M224.0 408.7h.9M215.1 438.1h.9M230.1 446.8h.9M231.3 408.1h.9M217.1 426.5h.9M203.4 436.6h.9M218.3 448.8h.9M222.7 439.3h.9M236.8 438.2h.9M202.3 404.3h.9M227.7 435.2h.9M206.7 448.6h.9M216.7 410.3h.9M210.2 414.0h.9M205.8 409.5h.9M234.0 403.2h.9M227.8 423.4h.9M228.4 437.8h.9M205.2 437.0h.9M223.6 419.4h.9M218.4 428.2h.9M215.9 412.8h.9M223.2 412.8h.9M205.5 416.4h.9M221.5 434.1h.9M229.9 442.3h.9M219.9 416.3h.9M217.7 440.7h.9M237.2 439.9h.9M222.4 442.7h.9M229.7 432.5h.9M206.1 417.8h.9M218.4 444.9h.9M216.6 421.0h.9M208.8 430.9h.9M214.7 400.6h.9M226.2 410.7h.9M229.0 417.4h.9M212.4 441.8h.9M206.5 449.3h.9M215.9 402.5h.9M234.1 407.3h.9M220.9 440.1h.9M234.3 433.4h.9M208.0 409.4h.9M231.9 413.2h.9M207.7 402.2h.9M230.0 449.6h.9M204.3 436.1h.9M226.5 401.5h.9M220.6 448.5h.9M205.1 413.7h.9M225.4 416.7h.9M207.5 430.9h.9M230.5 442.2h.9M220.0 410.8h.9M227.2 432.7h.9M234.4 399.5h.9M215.9 439.9h.9M211.2 438.3h.9M233.6 398.5h.9M216.0 399.2h.9M202.1 432.3h.9M229.0 422.8h.9M206.0 449.5h.9M220.1 443.7h.9M218.0 414.2h.9M213.3 422.2h.9M228.9 413.8h.9M206.0 418.2h.9M222.0 439.3h.9M233.2 430.1h.9M228.4 430.5h.9M227.1 404.2h.9M207.9 419.3h.9M203.4 398.9h.9M227.7 413.9h.9M234.5 431.7h.9M205.5 429.3h.9M212.4 405.2h.9M237.9 421.7h.9M208.3 405.4h.9M211.8 417.3h.9M213.2 442.0h.9M215.2 449.8h.9M233.5 428.9h.9M223.6 449.7h.9M208.5 419.5h.9M216.6 409.5h.9M232.5 403.2h.9M216.0 426.5h.9M219.5 401.0h.9M223.5 405.0h.9M231.1 447.8h.9M221.8 436.4h.9M225.9 414.9h.9M218.1 428.8h.9M216.4 428.2h.9M223.7 404.6h.9M215.5 442.5h.9M206.9 447.5h.9M221.5 416.7h.9M214.8 442.6h.9M230.8 449.3h.9M221.7 428.7h.9M224.0 444.0h.9M207.9 422.3h.9M223.5 437.4h.9M230.4 424.3h.9M217.1 399.2h.9M214.6 411.7h.9M211.8 423.2h.9M220.1 409.5h.9M214.1 440.7h.9M203.1 447.0h.9M215.2 409.7h.9M233.5 411.1h.9M226.9 421.9h.9M216.1 441.1h.9M207.2 412.3h.9M232.7 428.3h.9M228.5 404.4h.9M229.4 403.0h.9M233.8 414.3h.9M215.8 404.4h.9M202.6 436.3h.9M237.9 446.8h.9M220.1 415.8h.9M218.3 443.3h.9M224.8 428.4h.9M209.5 405.2h.9M228.1 428.7h.9M227.9 442.7h.9M224.0 410.9h.9M228.4 422.0h.9M222.0 412.5h.9M208.7 432.0h.9M236.2 413.4h.9M223.4 420.8h.9M220.9 423.7h.9M237.5 433.5h.9M223.2 448.0h.9M204.1 446.3h.9M231.8 417.1h.9M202.6 423.4h.9M204.9 399.8h.9M211.3 416.8h.9M209.6 419.5h.9M227.5 436.2h.9M235.5 437.3h.9M225.2 444.6h.9M225.5 440.9h.9M220.9 404.8h.9M211.3 423.1h.9M221.5 430.3h.9M205.7 408.3h.9M217.1 436.8h.9M217.5 440.9h.9M229.4 438.3h.9M225.7 414.7h.9M203.6 410.2h.9M212.2 404.5h.9M222.3 398.9h.9M219.7 402.1h.9M206.3 401.9h.9M203.2 446.2h.9M226.0 433.3h.9M218.2 434.0h.9M213.7 443.0h.9M222.6 404.7h.9M218.9 445.9h.9M229.4 444.6h.9M222.4 407.4h.9M209.0 405.7h.9M223.5 435.1h.9M211.0 425.0h.9M228.5 408.9h.9M206.3 433.8h.9M232.5 404.0h.9M231.3 447.4h.9M231.6 409.3h.9M202.6 407.8h.9M232.4 429.1h.9M232.4 430.1h.9M211.5 429.8h.9M228.6 430.3h.9M235.3 420.5h.9M222.4 424.8h.9M237.7 441.9h.9M204.6 411.5h.9M219.4 415.8h.9M227.3 420.3h.9M225.2 406.6h.9M210.9 416.7h.9M210.4 429.6h.9M225.6 429.8h.9M220.9 449.6h.9M207.2 419.6h.9M213.8 427.6h.9M215.5 435.2h.9M203.6 440.3h.9M222.5 447.4h.9M203.0 409.8h.9M225.0 400.1h.9M202.8 449.2h.9M213.7 419.1h.9M207.5 406.3h.9M217.4 433.6h.9M218.1 438.5h.9M212.8 415.9h.9M219.4 440.6h.9M213.2 413.8h.9M233.8 411.2h.9M217.4 440.6h.9M204.8 436.4h.9M217.5 430.0h.9M218.2 409.6h.9M217.0 415.8h.9M218.2 436.2h.9M221.7 434.4h.9M219.4 435.0h.9M236.4 429.5h.9M206.0 406.6h.9M235.7 413.1h.9M203.2 402.1h.9M216.6 444.6h.9M224.9 435.1h.9M204.9 417.8h.9M214.5 403.1h.9M203.3 449.1h.9M205.9 402.0h.9M205.3 424.6h.9M232.5 444.3h.9M237.8 418.3h.9M210.3 406.7h.9M224.3 407.2h.9M229.3 401.3h.9M226.3 420.2h.9M218.7 430.4h.9M219.2 413.6h.9M223.7 421.5h.9M231.9 428.2h.9M213.1 429.2h.9M234.7 420.4h.9M223.9 437.1h.9M237.7 411.9h.9M235.5 443.8h.9M235.3 430.1h.9M225.2 405.1h.9M208.7 420.6h.9M233.7 411.5h.9M216.3 419.2h.9M235.7 406.0h.9M231.3 412.5h.9M211.3 403.6h.9M235.0 427.5h.9M205.9 435.2h.9M228.0 407.9h.9M219.1 449.6h.9M211.2 413.0h.9M223.2 441.9h.9M232.1 411.4h.9M210.0 399.6h.9M216.2 401.5h.9M216.8 400.8h.9M224.1 445.7h.9M237.7 425.1h.9M212.2 441.2h.9M206.2 427.4h.9M206.9 398.2h.9M235.8 431.8h.9M230.7 438.7h.9M234.0 422.0h.9M214.3 436.4h.9M205.8 409.3h.9M220.7 447.1h.9M220.7 448.5h.9M220.4 447.3h.9M209.6 417.7h.9M235.4 442.3h.9M216.7 430.5h.9M226.5 414.4h.9M224.0 413.8h.9M234.2 402.5h.9M232.0 446.0h.9M206.3 408.9h.9M209.9 449.9h.9M225.7 416.0h.9M220.6 413.7h.9M234.2 442.4h.9M209.5 436.5h.9M215.9 401.2h.9M228.5 425.2h.9M208.3 417.7h.9M222.1 406.7h.9M205.4 424.3h.9M219.3 449.0h.9M222.7 435.7h.9M217.8 439.2h.9M209.3 424.8h.9M234.4 402.5h.9M236.0 400.5h.9M207.0 400.7h.9M209.3 444.8h.9M212.0 440.7h.9M217.7 420.8h.9M227.5 408.3h.9M218.0 441.4h.9M226.1 425.3h.9M208.2 426.4h.9M235.1 450.0h.9M215.5 415.7h.9M233.5 399.3h.9M230.6 449.5h.9M216.7 435.4h.9M230.9 406.0h.9M227.6 423.2h.9M218.1 407.1h.9M204.9 431.7h.9M210.8 442.6h.9M206.5 436.8h.9M222.9 416.4h.9M218.9 399.4h.9M228.8 420.1h.9M234.5 432.2h.9M211.8 432.5h.9M206.7 448.4h.9M228.8 421.7h.9M208.3 439.1h.9M207.7 430.6h.9M233.2 436.4h.9M216.8 420.3h.9M219.9 448.0h.9M223.9 402.7h.9M233.0 422.9h.9M216.0 428.1h.9M235.6 443.0h.9M220.2 434.4h.9M221.8 418.7h.9M219.8 412.3h.9M216.2 427.3h.9M224.1 446.8h.9M210.2 430.9h.9M205.1 409.0h.9M217.5 440.4h.9M231.3 410.0h.9M226.5 408.1h.9M212.8 422.1h.9M207.0 431.2h.9M212.5 441.9h.9M212.5 405.8h.9M205.5 413.4h.9M218.0 402.6h.9M224.4 407.0h.9M219.2 448.7h.9M202.7 429.7h.9M207.2 406.1h.9M217.6 441.4h.9M221.1 400.3h.9M217.1 398.6h.9M214.7 442.0h.9M228.9 430.8h.9M220.4 433.3h.9M232.0 421.5h.9M237.8 400.6h.9M219.7 409.0h.9M225.0 440.7h.9M231.9 398.6h.9M228.8 416.1h.9M206.6 435.8h.9M214.8 401.7h.9M220.3 411.1h.9M211.7 429.1h.9M218.4 444.9h.9M236.5 419.0h.9M228.4 433.4h.9M216.1 425.5h.9M217.1 434.0h.9M232.7 423.5h.9M210.4 424.8h.9M227.3 433.2h.9M227.4 410.1h.9M209.8 449.9h.9M214.8 399.8h.9M220.0 421.7h.9M213.7 405.2h.9M235.1 430.5h.9M223.4 406.0h.9M206.0 433.8h.9M216.4 400.7h.9M206.5 403.3h.9M218.2 402.7h.9M228.6 429.0h.9M217.2 416.2h.9M225.9 399.4h.9M212.1 423.0h.9M207.5 427.3h.9M213.1 425.4h.9M230.9 433.2h.9M208.2 436.6h.9M218.5 437.9h.9M227.0 439.4h.9M221.7 438.9h.9M208.4 398.0h.9M220.0 415.4h.9M235.3 431.3h.9M216.4 417.5h.9M207.2 433.4h.9M223.3 442.8h.9M221.4 449.3h.9M232.0 404.6h.9M227.4 441.7h.9M229.0 444.7h.9M222.1 420.1h.9M216.9 408.8h.9M226.6 449.4h.9M234.6 404.0h.9M207.9 442.1h.9M237.2 412.9h.9M228.4 446.3h.9M234.3 440.5h.9M219.5 438.5h.9M207.1 434.0h.9M210.1 436.6h.9M223.3 416.0h.9M208.3 445.1h.9M234.8 420.5h.9M211.2 408.9h.9M226.2 417.7h.9M223.9 399.4h.9M211.9 417.5h.9M209.1 406.6h.9M203.2 426.6h.9M216.1 435.3h.9M234.4 405.5h.9M221.7 445.3h.9M215.3 416.8h.9M226.1 402.0h.9M226.3 406.4h.9M211.9 396.1h.9M227.5 387.1h.9M226.3 374.1h.9M207.5 391.8h.9M221.7 395.2h.9M215.3 393.9h.9M212.4 397.4h.9M217.5 376.0h.9M203.2 377.6h.9M218.0 391.9h.9M213.0 387.8h.9M221.9 397.0h.9M226.6 390.1h.9M235.9 381.2h.9M217.2 389.4h.9M217.1 381.4h.9M231.7 384.7h.9M207.1 382.8h.9M207.3 379.1h.9M223.4 376.5h.9M208.4 391.5h.9M230.6 383.8h.9M229.2 388.1h.9M214.9 385.7h.9M224.1 383.5h.9M220.7 375.6h.9M237.5 372.8h.9M205.2 384.3h.9M227.4 377.8h.9M224.5 396.0h.9M226.0 377.2h.9M212.6 388.5h.9M212.0 373.6h.9M237.5 378.8h.9M226.5 372.1h.9M214.2 394.1h.9M234.0 375.0h.9M216.5 395.4h.9M214.2 394.8h.9M202.4 387.1h.9M188.5 391.9h.9M189.0 394.6h.9M189.1 388.7h.9M190.3 389.5h.9M190.3 395.7h.9M189.1 391.6h.9M184.1 392.4h.9M190.3 391.5h.9M189.1 391.4h.9M191.6 389.5h.9M183.3 393.2h.9M190.2 392.8h.9M183.5 390.1h.9M188.6 393.1h.9M187.8 396.2h.9M190.4 387.1h.9M184.0 395.8h.9M190.1 391.1h.9M184.9 391.7h.9M187.4 393.7h.9M187.0 395.3h.9M189.7 393.4h.9M187.5 394.6h.9M188.7 389.0h.9M186.9 389.1h.9M187.4 389.8h.9M186.7 391.8h.9M189.3 389.9h.9M187.0 389.6h.9M186.2 395.1h.9M189.9 392.4h.9M189.4 388.9h.9M191.9 396.7h.9M188.3 396.6h.9M190.2 396.4h.9M187.1 386.0h.9M190.6 389.1h.9M191.7 389.5h.9M191.6 393.4h.9M184.6 394.6h.9M185.8 394.4h.9M184.1 390.9h.9M190.8 396.1h.9M191.2 399.2h.9M187.6 393.2h.9M186.5 396.3h.9M187.1 393.3h.9M186.4 385.2h.9M187.1 391.0h.9M186.7 391.8h.9M190.1 394.6h.9M192.9 395.4h.9M188.1 391.2h.9M190.3 389.8h.9M191.9 390.2h.9M191.6 392.4h.9M188.0 392.0h.9M189.6 393.2h.9M191.4 395.9h.9M191.0 389.5h.9M191.6 398.6h.9M187.0 391.8h.9M188.5 396.8h.9M190.4 393.0h.9M188.1 394.7h.9M193.0 390.8h.9M194.0 395.6h.9M186.7 392.8h.9M187.2 388.6h.9M188.3 392.0h.9M189.2 390.3h.9M191.0 394.8h.9M192.6 391.2h.9M186.9 395.4h.9M188.3 395.1h.9M190.3 394.7h.9M187.3 391.3h.9M189.7 396.3h.9M185.4 392.6h.9M189.3 392.4h.9M188.2 396.1h.9M189.5 391.6h.9M186.1 396.6h.9M186.8 395.5h.9M187.3 394.9h.9M185.4 392.7h.9M184.3 391.3h.9M186.0 394.3h.9M189.7 389.5h.9M188.0 393.8h.9M189.0 390.2h.9M188.3 396.5h.9M192.3 393.3h.9M187.5 396.0h.9M188.2 389.9h.9M190.3 392.9h.9M188.7 391.0h.9M189.1 392.4h.9M189.6 389.5h.9M186.3 395.8h.9M185.8 390.5h.9M187.1 394.3h.9M190.5 394.6h.9M194.1 397.1h.9M186.1 394.8h.9M189.3 387.9h.9M183.9 390.6h.9M188.1 389.3h.9M189.2 389.1h.9M188.7 389.8h.9M185.6 395.1h.9M187.6 394.9h.9M192.0 393.9h.9M188.8 389.7h.9M187.0 391.4h.9M188.9 394.8h.9M186.7 393.8h.9M187.5 389.5h.9M187.8 393.4h.9M188.3 393.2h.9M194.9 406.2h.9M187.9 402.5h.9M178.9 437.0h.9M190.3 402.4h.9M193.2 400.0h.9M182.9 416.9h.9M192.4 419.2h.9M193.5 416.5h.9M189.8 399.9h.9M186.9 413.1h.9M189.2 422.2h.9M187.9 403.5h.9M190.1 431.2h.9M193.8 405.9h.9M189.9 417.7h.9M187.2 414.4h.9M191.9 408.3h.9M188.0 424.5h.9M183.1 395.2h.9M190.2 411.2h.9M196.3 397.6h.9M187.6 417.3h.9M189.9 390.2h.9M183.7 419.9h.9M188.7 404.6h.9M187.8 423.1h.9M190.0 407.4h.9M189.2 431.1h.9M188.4 409.4h.9M192.2 408.0h.9M186.7 405.0h.9M185.1 406.9h.9M193.3 394.5h.9M191.4 413.8h.9M185.6 390.9h.9M184.5 410.5h.9M184.8 405.6h.9M197.7 407.4h.9M191.9 401.6h.9M190.2 408.0h.9M191.9 410.1h.9M191.3 413.8h.9M198.4 429.0h.9M191.5 407.7h.9M191.1 420.6h.9M188.1 422.2h.9M192.7 421.5h.9M190.6 409.4h.9M189.9 435.8h.9M178.9 394.5h.9M188.4 404.9h.9M185.7 415.6h.9M191.9 403.8h.9M181.5 413.6h.9M186.8 419.5h.9M184.9 411.2h.9M189.2 408.1h.9M189.8 417.6h.9M190.7 407.5h.9M186.9 405.0h.9M187.9 391.0h.9M184.4 419.5h.9M189.8 432.1h.9M186.6 399.7h.9M193.6 404.3h.9M197.2 427.3h.9M183.2 396.9h.9M188.8 399.9h.9M184.3 417.6h.9M184.6 412.1h.9M189.7 419.3h.9M190.9 394.7h.9M188.0 420.8h.9M192.3 403.6h.9M189.3 425.3h.9M187.0 421.5h.9M195.6 405.4h.9M191.3 425.0h.9M189.2 409.2h.9M192.1 399.7h.9M192.5 406.7h.9M188.5 395.4h.9M193.2 409.0h.9M183.1 400.1h.9M184.4 425.7h.9M189.7 399.3h.9M184.1 426.6h.9M195.1 420.7h.9M188.9 392.2h.9M192.9 410.2h.9M189.4 408.6h.9M187.3 404.6h.9M188.2 409.5h.9M192.4 435.9h.9M188.0 409.8h.9M181.5 397.4h.9M194.4 400.9h.9M187.7 405.6h.9M188.0 438.8h.9M188.3 405.8h.9M185.3 429.0h.9M179.0 394.4h.9M186.9 406.0h.9M186.5 407.0h.9M189.7 406.4h.9M189.6 415.0h.9M187.3 416.7h.9M186.0 409.7h.9M195.4 395.7h.9M190.7 413.9h.9M188.9 411.2h.9M183.6 419.6h.9M186.7 400.8h.9M189.1 426.9h.9M184.8 415.5h.9M186.0 397.0h.9M185.0 421.4h.9M188.0 399.7h.9M190.1 403.2h.9M188.3 408.2h.9M187.9 415.1h.9M190.3 439.3h.9M192.1 408.9h.9M177.9 418.0h.9M185.0 417.2h.9M187.8 408.7h.9M190.1 393.5h.9M180.3 412.2h.9M187.2 387.3h.9M193.6 416.2h.9M188.7 394.3h.9M189.4 415.3h.9M192.4 424.2h.9M191.4 403.0h.9M186.1 418.9h.9M189.6 425.6h.9M186.0 398.8h.9M190.8 386.5h.9M191.6 404.2h.9M192.6 415.0h.9M190.4 399.4h.9M179.0 411.6h.9M188.5 414.4h.9M185.7 420.3h.9M191.7 425.7h.9M193.2 416.5h.9M190.1 401.7h.9M187.1 408.2h.9M190.7 392.5h.9M192.1 419.7h.9M193.3 436.5h.9M192.9 395.6h.9M188.1 418.1h.9M189.7 420.5h.9M189.1 447.8h.9M193.6 436.4h.9M183.4 407.2h.9M183.1 424.1h.9M193.1 421.3h.9M193.1 390.9h.9M191.6 413.8h.9M188.5 408.9h.9M192.7 432.0h.9M188.7 409.2h.9M186.5 417.8h.9M191.5 429.8h.9M184.7 424.3h.9M190.2 397.1h.9M188.0 411.8h.9M189.4 416.5h.9M195.8 418.4h.9M183.7 409.1h.9M190.2 423.7h.9M193.5 403.3h.9M192.3 406.9h.9M190.5 429.6h.9M185.6 408.7h.9M194.2 395.3h.9M187.4 429.2h.9M196.5 396.5h.9M189.0 403.7h.9M192.8 415.1h.9M192.4 421.8h.9M187.1 421.4h.9M188.7 424.1h.9M193.4 421.6h.9M187.4 419.3h.9M192.1 413.0h.9M188.1 408.6h.9M191.5 405.6h.9M189.7 439.6h.9M190.0 423.0h.9M194.0 415.6h.9M185.7 426.6h.9M185.4 418.8h.9M182.0 419.6h.9M200.6 415.3h.9M187.4 419.5h.9M193.3 414.6h.9M187.8 396.9h.9M188.2 391.9h.9M195.0 403.8h.9M187.6 388.8h.9M171.2 422.9h.9M196.4 395.4h.9M183.0 401.9h.9M198.1 381.0h.9M183.1 403.5h.9M194.7 417.2h.9M186.4 405.6h.9M168.8 393.6h.9M175.7 424.6h.9M173.4 392.2h.9M175.5 372.3h.9M192.8 413.5h.9M196.2 392.8h.9M176.8 378.1h.9M184.8 421.0h.9M172.1 408.5h.9M193.2 414.7h.9M169.9 379.4h.9M195.9 406.6h.9M178.1 413.2h.9M178.7 409.3h.9M172.6 392.5h.9M183.7 418.9h.9M177.9 375.0h.9M176.0 398.5h.9M169.8 407.5h.9M179.3 392.0h.9M186.4 422.3h.9M196.5 387.3h.9M185.3 383.7h.9M171.0 382.6h.9M169.0 420.9h.9M180.0 403.5h.9M166.8 391.3h.9M182.8 401.1h.9M180.6 410.2h.9M170.6 410.6h.9" stroke="#000" stroke-width=".9" stroke-opacity="0.42" fill="none"/>
<rect x="163.0" y="368.5" width="96.50" height="96.00" fill="none" stroke="#8c8c8c" stroke-width="0.9"/>
<line x1="163.0" y1="370.5" x2="259.5" y2="370.5" stroke="#505050" stroke-width="0.9"/>
<path d="M201.5 370.6V458.5H256.5V370.6" fill="none" stroke="#2a2a2a" stroke-width="1.0"/>
<path d="M163.0 400.5H216.27L256.5 378.0" fill="none" stroke="#2a2a2a" stroke-width="1.1"/>
<line x1="163.0" y1="427.5" x2="256.5" y2="427.5" stroke="#2a2a2a" stroke-width="1.0"/>
<line x1="160.4" y1="378.4" x2="163.0" y2="378.4" stroke="#333" stroke-width="0.8"/>
<text x="147.49" y="381.7" font-size="6.0" fill="#151515" style="stroke-width:0.2px">10</text>
<text x="154.86" y="379.3" font-size="4.2" fill="#151515" style="stroke-width:0.12px">5</text>
<line x1="160.4" y1="400.5" x2="163.0" y2="400.5" stroke="#333" stroke-width="0.8"/>
<text x="147.49" y="403.8" font-size="6.0" fill="#151515" style="stroke-width:0.2px">10</text>
<text x="154.86" y="401.4" font-size="4.2" fill="#151515" style="stroke-width:0.12px">4</text>
<line x1="160.4" y1="427.4" x2="163.0" y2="427.4" stroke="#333" stroke-width="0.8"/>
<text x="147.49" y="430.7" font-size="6.0" fill="#151515" style="stroke-width:0.2px">10</text>
<text x="154.86" y="428.3" font-size="4.2" fill="#151515" style="stroke-width:0.12px">3</text>
<line x1="160.4" y1="442.5" x2="163.0" y2="442.5" stroke="#333" stroke-width="0.8"/>
<text x="155.89999999999998" y="445.0" font-size="6.0" text-anchor="end" fill="#151515" style="stroke-width:0.2px">0</text>
<line x1="160.4" y1="458.0" x2="163.0" y2="458.0" stroke="#333" stroke-width="0.8"/>
<text x="145.09" y="461.3" font-size="5.4" fill="#151515" style="stroke-width:0.1px">-</text>
<text x="147.49" y="461.3" font-size="6.0" fill="#151515" style="stroke-width:0.2px">10</text>
<text x="154.86" y="458.9" font-size="4.2" fill="#151515" style="stroke-width:0.12px">3</text>
<line x1="161.7" y1="385.03" x2="163.0" y2="385.03" stroke="#777" stroke-width="0.5"/>
<line x1="161.7" y1="389.45" x2="163.0" y2="389.45" stroke="#777" stroke-width="0.5"/>
<line x1="161.7" y1="392.102" x2="163.0" y2="392.102" stroke="#777" stroke-width="0.5"/>
<line x1="161.7" y1="394.312" x2="163.0" y2="394.312" stroke="#777" stroke-width="0.5"/>
<line x1="161.7" y1="396.08" x2="163.0" y2="396.08" stroke="#777" stroke-width="0.5"/>
<line x1="161.7" y1="397.627" x2="163.0" y2="397.627" stroke="#777" stroke-width="0.5"/>
<line x1="161.7" y1="398.953" x2="163.0" y2="398.953" stroke="#777" stroke-width="0.5"/>
<line x1="161.7" y1="408.57" x2="163.0" y2="408.57" stroke="#777" stroke-width="0.5"/>
<line x1="161.7" y1="413.95" x2="163.0" y2="413.95" stroke="#777" stroke-width="0.5"/>
<line x1="161.7" y1="417.178" x2="163.0" y2="417.178" stroke="#777" stroke-width="0.5"/>
<line x1="161.7" y1="419.868" x2="163.0" y2="419.868" stroke="#777" stroke-width="0.5"/>
<line x1="161.7" y1="422.02" x2="163.0" y2="422.02" stroke="#777" stroke-width="0.5"/>
<line x1="161.7" y1="423.90299999999996" x2="163.0" y2="423.90299999999996" stroke="#777" stroke-width="0.5"/>
<line x1="161.7" y1="425.517" x2="163.0" y2="425.517" stroke="#777" stroke-width="0.5"/>
<line x1="161.7" y1="431.93" x2="163.0" y2="431.93" stroke="#777" stroke-width="0.5"/>
<line x1="161.7" y1="434.95" x2="163.0" y2="434.95" stroke="#777" stroke-width="0.5"/>
<line x1="161.7" y1="436.762" x2="163.0" y2="436.762" stroke="#777" stroke-width="0.5"/>
<line x1="161.7" y1="438.272" x2="163.0" y2="438.272" stroke="#777" stroke-width="0.5"/>
<line x1="161.7" y1="439.48" x2="163.0" y2="439.48" stroke="#777" stroke-width="0.5"/>
<line x1="161.7" y1="440.537" x2="163.0" y2="440.537" stroke="#777" stroke-width="0.5"/>
<line x1="161.7" y1="441.443" x2="163.0" y2="441.443" stroke="#777" stroke-width="0.5"/>
<line x1="161.7" y1="447.15" x2="163.0" y2="447.15" stroke="#777" stroke-width="0.5"/>
<line x1="161.7" y1="450.25" x2="163.0" y2="450.25" stroke="#777" stroke-width="0.5"/>
<line x1="161.7" y1="452.11" x2="163.0" y2="452.11" stroke="#777" stroke-width="0.5"/>
<line x1="161.7" y1="453.66" x2="163.0" y2="453.66" stroke="#777" stroke-width="0.5"/>
<line x1="161.7" y1="454.9" x2="163.0" y2="454.9" stroke="#777" stroke-width="0.5"/>
<line x1="161.7" y1="455.985" x2="163.0" y2="455.985" stroke="#777" stroke-width="0.5"/>
<line x1="161.7" y1="456.915" x2="163.0" y2="456.915" stroke="#777" stroke-width="0.5"/>
<line x1="168.79" y1="464.5" x2="168.79" y2="467.1" stroke="#333" stroke-width="0.8"/>
<text x="163.87" y="476.2" font-size="5.4" fill="#151515" style="stroke-width:0.1px">-</text>
<text x="166.27" y="476.2" font-size="6.0" fill="#151515" style="stroke-width:0.2px">10</text>
<text x="173.64" y="473.8" font-size="4.2" fill="#151515" style="stroke-width:0.12px">3</text>
<line x1="186.64249999999998" y1="464.5" x2="186.64249999999998" y2="467.1" stroke="#333" stroke-width="0.8"/>
<text x="186.64249999999998" y="476.2" font-size="6.0" text-anchor="middle" fill="#151515" style="stroke-width:0.2px">0</text>
<line x1="196.968" y1="464.5" x2="196.968" y2="467.1" stroke="#333" stroke-width="0.8"/>
<text x="196.97" y="476.2" font-size="6.0" fill="#151515" style="stroke-width:0.2px">10</text>
<text x="204.34" y="473.8" font-size="4.2" fill="#151515" style="stroke-width:0.12px">3</text>
<line x1="223.602" y1="464.5" x2="223.602" y2="467.1" stroke="#333" stroke-width="0.8"/>
<text x="223.6" y="476.2" font-size="6.0" fill="#151515" style="stroke-width:0.2px">10</text>
<text x="230.97" y="473.8" font-size="4.2" fill="#151515" style="stroke-width:0.12px">4</text>
<line x1="245.411" y1="464.5" x2="245.411" y2="467.1" stroke="#333" stroke-width="0.8"/>
<text x="245.41" y="476.2" font-size="6.0" fill="#151515" style="stroke-width:0.2px">10</text>
<text x="252.78" y="473.8" font-size="4.2" fill="#151515" style="stroke-width:0.12px">5</text>
<line x1="174.14575" y1="464.5" x2="174.14575" y2="465.8" stroke="#777" stroke-width="0.5"/>
<line x1="177.71625" y1="464.5" x2="177.71625" y2="465.8" stroke="#777" stroke-width="0.5"/>
<line x1="179.85854999999998" y1="464.5" x2="179.85854999999998" y2="465.8" stroke="#777" stroke-width="0.5"/>
<line x1="181.6438" y1="464.5" x2="181.6438" y2="465.8" stroke="#777" stroke-width="0.5"/>
<line x1="183.07199999999997" y1="464.5" x2="183.07199999999997" y2="465.8" stroke="#777" stroke-width="0.5"/>
<line x1="184.32167499999997" y1="464.5" x2="184.32167499999997" y2="465.8" stroke="#777" stroke-width="0.5"/>
<line x1="185.392825" y1="464.5" x2="185.392825" y2="465.8" stroke="#777" stroke-width="0.5"/>
<line x1="189.74014999999997" y1="464.5" x2="189.74014999999997" y2="465.8" stroke="#777" stroke-width="0.5"/>
<line x1="191.80525" y1="464.5" x2="191.80525" y2="465.8" stroke="#777" stroke-width="0.5"/>
<line x1="193.04431" y1="464.5" x2="193.04431" y2="465.8" stroke="#777" stroke-width="0.5"/>
<line x1="194.07685999999998" y1="464.5" x2="194.07685999999998" y2="465.8" stroke="#777" stroke-width="0.5"/>
<line x1="194.9029" y1="464.5" x2="194.9029" y2="465.8" stroke="#777" stroke-width="0.5"/>
<line x1="195.62568499999998" y1="464.5" x2="195.62568499999998" y2="465.8" stroke="#777" stroke-width="0.5"/>
<line x1="196.245215" y1="464.5" x2="196.245215" y2="465.8" stroke="#777" stroke-width="0.5"/>
<line x1="204.9582" y1="464.5" x2="204.9582" y2="465.8" stroke="#777" stroke-width="0.5"/>
<line x1="210.285" y1="464.5" x2="210.285" y2="465.8" stroke="#777" stroke-width="0.5"/>
<line x1="213.48108" y1="464.5" x2="213.48108" y2="465.8" stroke="#777" stroke-width="0.5"/>
<line x1="216.14448" y1="464.5" x2="216.14448" y2="465.8" stroke="#777" stroke-width="0.5"/>
<line x1="218.2752" y1="464.5" x2="218.2752" y2="465.8" stroke="#777" stroke-width="0.5"/>
<line x1="220.13958" y1="464.5" x2="220.13958" y2="465.8" stroke="#777" stroke-width="0.5"/>
<line x1="221.73762" y1="464.5" x2="221.73762" y2="465.8" stroke="#777" stroke-width="0.5"/>
<line x1="230.1447" y1="464.5" x2="230.1447" y2="465.8" stroke="#777" stroke-width="0.5"/>
<line x1="234.50650000000002" y1="464.5" x2="234.50650000000002" y2="465.8" stroke="#777" stroke-width="0.5"/>
<line x1="237.12358" y1="464.5" x2="237.12358" y2="465.8" stroke="#777" stroke-width="0.5"/>
<line x1="239.30448" y1="464.5" x2="239.30448" y2="465.8" stroke="#777" stroke-width="0.5"/>
<line x1="241.0492" y1="464.5" x2="241.0492" y2="465.8" stroke="#777" stroke-width="0.5"/>
<line x1="242.57583" y1="464.5" x2="242.57583" y2="465.8" stroke="#777" stroke-width="0.5"/>
<line x1="243.88437" y1="464.5" x2="243.88437" y2="465.8" stroke="#777" stroke-width="0.5"/>
<rect x="161.1" y="440.5" width="1.9" height="4" fill="#111"/>
<rect x="183.002" y="464.7" width="4" height="1.8" fill="#111"/>
<text x="211.25" y="363.8" font-size="7.5" text-anchor="middle" fill="#151515">Kisumu</text>
<text x="166.3" y="377.2" font-size="6.6" fill="#151515" style="stroke-width:0.22px">9.1%</text>
<text x="225" y="377.2" font-size="6.6" fill="#151515" style="stroke-width:0.22px">2.4%</text>
<text x="240.6" y="392.7" font-size="6.6" fill="#151515" style="stroke-width:0.22px">87.8%</text>
<text x="166" y="409.7" font-size="6.6" fill="#151515" style="stroke-width:0.22px">7.5%</text>
<text x="235" y="454.7" font-size="6.6" fill="#151515" style="stroke-width:0.22px">13.4%</text>
<clipPath id="c821"><rect x="286.0" y="370.5" width="95.30000000000001" height="93.5"/></clipPath><g clip-path="url(#c821)"><path d="M324.5 393L335 393L350 387L362 391L362 446L324.5 446Z" fill="#000" opacity="0.3" filter="url(#b2)"/><ellipse cx="343" cy="410" rx="13" ry="13" fill="#000" opacity="0.25" filter="url(#b4)"/><rect x="324.5" y="439" width="37.5" height="5.5" fill="#000" opacity="0.35" filter="url(#b1)"/><ellipse cx="331" cy="441.5" rx="7" ry="2.5" fill="#000" opacity="0.35" filter="url(#b1)"/><ellipse cx="354" cy="442" rx="7" ry="2.5" fill="#000" opacity="0.35" filter="url(#b1)"/><rect x="306" y="384" width="16" height="43" fill="#000" opacity="0.14" filter="url(#b1)"/><ellipse cx="310.5" cy="424.8" rx="2" ry="2" fill="#000" opacity="0.7" filter="url(#b1)"/><ellipse cx="310.5" cy="389" rx="2.5" ry="5" fill="#000" opacity="0.25" filter="url(#b1)"/></g>
<path d="M333.1 429.3h.9M355.9 432.2h.9M356.4 415.5h.9M345.8 402.6h.9M345.1 434.0h.9M331.7 400.4h.9M340.6 414.2h.9M342.8 401.2h.9M346.2 400.7h.9M334.5 400.4h.9M340.8 426.2h.9M353.1 404.8h.9M359.1 390.3h.9M349.3 397.6h.9M351.5 393.3h.9M358.5 404.2h.9M323.5 403.0h.9M343.0 398.6h.9M326.6 396.0h.9M346.5 411.1h.9M350.5 429.7h.9M337.4 404.9h.9M355.4 400.8h.9M352.3 424.2h.9M342.8 408.4h.9M343.4 404.0h.9M338.4 415.8h.9M332.7 413.9h.9M347.1 406.9h.9M337.0 409.1h.9M335.0 405.1h.9M344.7 402.6h.9M336.3 409.1h.9M348.3 410.6h.9M340.7 427.4h.9M338.1 413.2h.9M337.9 398.7h.9M343.8 411.5h.9M357.6 401.2h.9M323.6 428.1h.9M362.2 412.6h.9M346.9 401.9h.9M357.7 398.0h.9M352.2 416.2h.9M349.2 399.2h.9M334.7 395.1h.9M334.6 407.4h.9M351.2 399.1h.9M348.8 408.3h.9M310.7 428.1h.9M336.9 424.4h.9M316.9 422.6h.9M336.0 414.4h.9M328.2 398.1h.9M349.6 402.9h.9M350.5 402.1h.9M330.2 395.3h.9M335.8 386.5h.9M340.8 418.0h.9M358.3 409.0h.9M335.1 399.3h.9M342.4 411.2h.9M352.9 405.5h.9M344.1 416.6h.9M339.0 404.2h.9M343.8 413.9h.9M356.2 382.2h.9M342.8 429.6h.9M353.1 416.4h.9M332.9 401.3h.9M339.8 394.9h.9M336.4 383.2h.9M353.2 402.7h.9M331.7 400.4h.9M326.0 404.5h.9M347.3 404.4h.9M354.1 408.6h.9M326.4 387.6h.9M330.0 417.4h.9M355.9 407.5h.9M349.3 421.3h.9M338.2 394.1h.9M345.7 403.7h.9M354.3 394.4h.9M349.0 437.1h.9M324.8 387.4h.9M342.7 395.7h.9M344.9 412.5h.9M354.3 419.7h.9M355.4 384.6h.9M344.3 397.2h.9M348.5 382.5h.9M339.2 417.6h.9M334.2 414.6h.9M345.3 405.4h.9M328.5 395.4h.9M322.0 407.2h.9M329.1 405.6h.9M348.8 410.6h.9M343.8 395.9h.9M341.9 420.6h.9M358.5 396.2h.9M346.6 402.0h.9M339.6 405.0h.9M355.1 417.8h.9M342.8 407.1h.9M326.5 426.8h.9M336.5 421.6h.9M337.3 401.8h.9M345.6 419.2h.9M341.6 395.7h.9M348.0 393.4h.9M342.9 427.3h.9M340.1 414.7h.9M339.4 427.2h.9M341.0 406.6h.9M338.7 402.5h.9M328.2 399.5h.9M334.5 426.8h.9M348.3 415.7h.9M331.4 389.9h.9M356.4 397.4h.9M346.5 399.0h.9M341.0 393.4h.9M326.9 419.9h.9M340.9 406.1h.9M339.5 415.4h.9M348.1 409.9h.9M354.7 389.3h.9M353.1 401.4h.9M350.1 396.3h.9M352.0 418.4h.9M360.7 412.4h.9M350.1 401.3h.9M349.3 423.9h.9M337.4 435.7h.9M344.0 397.1h.9M348.9 387.0h.9M326.0 410.8h.9M341.6 387.5h.9M349.8 393.8h.9M320.7 397.9h.9M344.2 415.0h.9M331.6 411.0h.9M341.9 392.9h.9M331.5 397.0h.9M332.0 394.8h.9M325.8 408.1h.9M355.5 431.4h.9M335.4 424.4h.9M331.6 417.7h.9M327.3 394.9h.9M341.3 420.2h.9M358.7 399.6h.9M341.9 399.0h.9M333.7 420.3h.9M341.5 405.6h.9M335.7 416.8h.9M340.3 414.5h.9M335.1 401.0h.9M357.1 410.1h.9M339.0 407.3h.9M333.3 394.6h.9M345.1 422.4h.9M344.0 401.7h.9M352.8 399.2h.9M337.4 401.9h.9M341.1 418.5h.9M342.9 410.6h.9M341.3 428.3h.9M347.0 391.3h.9M347.8 403.0h.9M347.4 409.4h.9M324.9 405.0h.9M348.4 391.6h.9M344.9 396.5h.9M323.7 401.7h.9M343.6 402.3h.9M336.0 405.8h.9M341.7 404.5h.9M331.2 395.9h.9M350.9 388.7h.9M349.6 422.7h.9M353.1 424.7h.9M348.0 408.2h.9M348.2 419.8h.9M348.7 418.3h.9M355.4 418.0h.9M343.4 400.8h.9M351.8 409.4h.9M331.2 402.5h.9M350.9 390.0h.9M341.3 393.2h.9M359.3 410.5h.9M348.2 407.9h.9M334.3 413.2h.9M347.5 408.7h.9M338.8 409.8h.9M354.6 411.4h.9M343.6 396.0h.9M341.9 399.5h.9M343.1 433.6h.9M331.8 412.3h.9M344.1 422.1h.9M340.7 402.3h.9M343.9 408.9h.9M354.1 423.5h.9M331.1 411.7h.9M342.2 414.3h.9M358.2 418.3h.9M341.4 407.8h.9M339.4 394.2h.9M345.2 393.3h.9M355.2 393.4h.9M343.9 392.0h.9M354.7 384.4h.9M332.9 394.7h.9M356.7 400.2h.9M340.0 426.8h.9M349.5 398.6h.9M353.6 409.1h.9M336.6 405.9h.9M362.9 406.4h.9M345.5 394.3h.9M339.0 413.7h.9M359.8 401.9h.9M350.8 420.6h.9M343.7 392.9h.9M330.4 417.7h.9M347.2 394.0h.9M325.3 388.6h.9M351.6 431.2h.9M344.0 415.0h.9M319.6 420.0h.9M341.7 404.0h.9M333.8 403.6h.9M324.4 397.7h.9M333.7 402.2h.9M334.4 401.3h.9M344.0 390.5h.9M333.3 422.8h.9M355.5 397.0h.9M348.7 395.0h.9M334.4 409.2h.9M342.7 397.3h.9M343.0 402.4h.9M334.1 406.1h.9M340.1 401.6h.9M355.9 406.4h.9M334.8 404.4h.9M352.0 397.5h.9M340.6 407.5h.9M332.9 408.4h.9M340.0 417.1h.9M351.8 405.0h.9M342.0 394.2h.9M336.9 400.5h.9M340.6 407.0h.9M332.7 405.2h.9M344.9 416.0h.9M352.2 425.2h.9M353.2 412.8h.9M361.1 413.1h.9M349.5 415.3h.9M320.5 405.2h.9M346.8 409.3h.9M328.9 417.8h.9M338.6 415.9h.9M335.5 390.5h.9M347.8 406.4h.9M342.3 405.7h.9M338.1 411.0h.9M343.6 425.5h.9M326.9 424.9h.9M332.9 399.7h.9M348.9 425.7h.9M361.1 403.5h.9M336.8 419.4h.9M355.6 412.8h.9M340.4 409.1h.9M354.6 400.5h.9M330.6 419.7h.9M345.2 416.6h.9M354.4 392.1h.9M330.8 423.9h.9M342.7 407.3h.9M333.1 415.1h.9M339.5 400.1h.9M346.2 408.1h.9M339.4 407.4h.9M336.0 376.2h.9M344.3 425.1h.9M335.1 414.9h.9M338.9 406.8h.9M335.0 429.0h.9M344.7 425.0h.9M334.4 422.9h.9M333.1 396.2h.9M332.8 431.2h.9M330.6 413.5h.9M346.5 426.8h.9M352.1 399.1h.9M340.9 407.6h.9M330.3 399.5h.9M326.5 402.6h.9M337.8 398.7h.9M338.2 398.2h.9M342.5 418.5h.9M341.6 406.7h.9M347.9 405.3h.9M334.3 386.7h.9M361.8 409.6h.9M332.2 395.1h.9M339.2 418.7h.9M340.7 404.1h.9M334.6 413.2h.9M321.0 404.4h.9M353.2 398.4h.9M353.8 418.0h.9M324.5 408.7h.9M342.8 395.1h.9M340.1 410.0h.9M354.5 419.0h.9M343.9 408.8h.9M340.6 416.3h.9M334.7 403.2h.9M346.8 386.3h.9M339.0 392.9h.9M345.4 404.1h.9M346.5 410.0h.9M343.0 417.6h.9M342.2 429.3h.9M339.3 407.8h.9M341.9 408.7h.9M329.0 417.0h.9M320.9 410.2h.9M340.4 404.2h.9M349.3 408.9h.9M338.1 425.3h.9M334.6 407.0h.9M343.0 389.1h.9M332.1 425.0h.9M332.3 406.4h.9M338.1 421.8h.9M343.3 401.4h.9M342.1 385.0h.9M355.1 400.9h.9M339.1 391.3h.9M327.6 409.6h.9M332.0 409.6h.9M335.8 403.1h.9M340.1 426.7h.9M330.0 395.4h.9M347.6 393.0h.9M347.4 409.3h.9M334.3 415.6h.9M353.9 408.9h.9M341.0 399.0h.9M332.9 418.3h.9M337.0 384.4h.9M335.4 393.4h.9M352.5 403.9h.9M336.2 386.7h.9M354.6 407.0h.9M346.4 402.3h.9M342.1 405.1h.9M347.5 408.3h.9M340.4 413.3h.9M338.3 409.2h.9M329.9 408.3h.9M352.0 386.3h.9M332.6 396.9h.9M342.9 399.6h.9M360.9 378.9h.9M362.2 394.8h.9M359.1 403.0h.9M342.3 421.4h.9M356.7 393.7h.9M343.8 387.6h.9M332.9 407.7h.9M346.3 426.7h.9M347.5 415.7h.9M358.0 403.7h.9M337.5 411.2h.9M334.4 398.8h.9M346.6 410.1h.9M349.1 404.1h.9M360.0 429.7h.9M346.8 398.0h.9M338.2 412.9h.9M343.5 412.0h.9M324.0 409.6h.9M342.8 433.2h.9M360.3 392.4h.9M344.8 410.1h.9M334.2 418.0h.9M337.3 396.9h.9M351.1 394.1h.9M333.5 388.6h.9M345.6 428.6h.9M343.6 413.5h.9M349.6 400.5h.9M351.1 401.5h.9M351.3 404.2h.9M345.7 411.6h.9M350.5 398.0h.9M342.5 415.1h.9M334.2 415.5h.9M342.1 423.4h.9M348.8 413.4h.9M352.6 415.9h.9M361.7 412.9h.9M339.7 420.8h.9M333.1 414.4h.9M333.1 405.4h.9M345.3 401.5h.9M323.1 401.6h.9M329.0 409.0h.9M345.5 398.9h.9M346.0 407.2h.9M327.8 399.4h.9M349.2 408.4h.9M343.8 407.0h.9M350.5 410.5h.9M353.6 420.7h.9M341.7 408.6h.9M343.3 388.7h.9M347.9 415.3h.9M332.5 409.3h.9M348.5 410.6h.9M327.7 407.0h.9M354.1 400.1h.9M348.6 392.7h.9M336.4 413.1h.9M343.1 416.7h.9M337.6 389.1h.9M346.8 401.6h.9M355.7 386.3h.9M340.8 388.9h.9M345.9 418.1h.9M355.3 406.1h.9M342.3 424.0h.9M352.6 390.7h.9M335.8 409.3h.9M340.8 418.6h.9M351.3 417.9h.9M355.4 429.4h.9M331.1 412.6h.9M342.3 412.9h.9M356.5 412.7h.9M347.0 415.8h.9M335.4 411.4h.9M347.0 407.9h.9M338.1 405.9h.9M356.3 415.5h.9M335.3 402.9h.9M332.9 398.5h.9M344.5 418.5h.9M343.1 405.0h.9M343.0 404.3h.9M334.5 411.4h.9M350.5 402.5h.9M341.5 397.7h.9M332.3 418.3h.9M348.6 397.7h.9M338.1 405.7h.9M352.0 413.6h.9M334.0 421.6h.9M355.2 416.4h.9M357.4 416.4h.9M350.7 403.6h.9M353.2 410.5h.9M354.7 419.8h.9M320.8 410.7h.9M351.0 401.5h.9M343.6 414.9h.9M362.1 413.2h.9M346.4 401.6h.9M349.7 406.2h.9M340.6 399.3h.9M355.6 405.7h.9M352.1 396.0h.9M345.7 392.2h.9M337.3 413.1h.9M336.7 412.1h.9M355.6 398.6h.9M358.8 423.6h.9M356.2 420.2h.9M333.5 423.5h.9M342.3 428.6h.9M334.3 416.6h.9M325.7 408.3h.9M330.2 425.9h.9M347.6 437.6h.9M324.7 395.7h.9M358.4 413.3h.9M349.5 433.7h.9M345.5 417.2h.9M346.4 419.9h.9M359.4 444.6h.9M336.9 426.9h.9M333.4 425.0h.9M357.8 411.5h.9M344.0 415.3h.9M344.4 427.9h.9M332.6 402.6h.9M361.0 431.8h.9M343.3 440.5h.9M349.6 393.5h.9M356.7 399.7h.9M339.5 410.4h.9M326.0 407.6h.9M343.0 437.1h.9M331.7 406.3h.9M342.1 434.2h.9M347.0 406.9h.9M337.1 392.9h.9M331.9 417.2h.9M357.8 399.7h.9M327.6 415.8h.9M346.1 435.8h.9M349.3 438.0h.9M344.1 400.5h.9M351.0 444.3h.9M331.5 400.3h.9M326.8 432.9h.9M337.4 435.9h.9M357.4 400.8h.9M337.7 402.6h.9M344.3 413.8h.9M337.4 412.6h.9M324.9 435.3h.9M351.0 419.8h.9M346.7 431.9h.9M350.3 400.2h.9M336.4 415.1h.9M336.9 419.5h.9M328.8 413.8h.9M335.6 434.5h.9M361.8 409.4h.9M358.9 417.1h.9M344.2 431.3h.9M338.2 439.4h.9M360.8 443.5h.9M348.3 406.9h.9M326.1 409.5h.9M331.2 394.7h.9M358.5 440.0h.9M358.4 413.6h.9M335.1 423.4h.9M334.0 440.4h.9M335.6 411.2h.9M331.2 441.3h.9M349.6 437.5h.9M326.0 436.6h.9M333.3 414.7h.9M335.3 441.5h.9M338.2 418.6h.9M332.1 397.3h.9M326.5 397.6h.9M347.5 437.6h.9M350.0 421.3h.9M340.9 413.0h.9M332.1 414.3h.9M328.7 437.1h.9M343.9 392.3h.9M334.5 427.7h.9M358.4 395.4h.9M341.6 441.5h.9M352.8 405.6h.9M341.7 443.8h.9M360.5 394.8h.9M356.8 404.7h.9M348.2 413.7h.9M355.9 404.5h.9M354.8 399.1h.9M330.1 427.9h.9M337.0 406.9h.9M350.6 407.9h.9M338.3 426.5h.9M340.3 394.5h.9M347.3 424.3h.9M347.8 394.8h.9M357.6 438.5h.9M359.6 413.5h.9M357.9 421.8h.9M349.5 408.1h.9M350.9 419.5h.9M341.0 411.1h.9M333.7 410.0h.9M355.9 401.6h.9M357.8 402.2h.9M351.8 431.4h.9M338.6 431.8h.9M341.5 434.6h.9M349.6 419.9h.9M336.1 392.3h.9M360.6 431.6h.9M344.1 419.6h.9M343.5 409.0h.9M349.6 418.6h.9M334.0 400.5h.9M338.3 435.3h.9M359.5 417.7h.9M339.0 429.5h.9M344.0 398.8h.9M347.3 439.4h.9M342.6 423.4h.9M331.1 426.8h.9M342.8 415.4h.9M342.4 421.1h.9M357.7 427.6h.9M353.8 434.4h.9M354.4 437.4h.9M344.8 422.4h.9M336.3 422.1h.9M350.7 441.0h.9M344.8 399.2h.9M343.9 414.6h.9M344.4 407.6h.9M357.9 399.8h.9M335.4 405.0h.9M327.5 422.2h.9M349.0 398.6h.9M344.9 437.4h.9M325.0 408.7h.9M353.2 434.3h.9M334.8 395.5h.9M337.3 417.3h.9M340.7 396.8h.9M343.2 393.1h.9M345.9 400.9h.9M340.0 415.2h.9M337.5 405.8h.9M339.1 433.6h.9M338.1 396.9h.9M356.3 441.7h.9M358.2 408.8h.9M325.7 404.0h.9M361.1 411.6h.9M340.0 400.6h.9M336.5 423.0h.9M354.2 424.8h.9M355.9 421.1h.9M356.5 402.8h.9M353.3 442.3h.9M342.8 441.8h.9M328.7 447.0h.9M337.1 414.3h.9M347.6 403.8h.9M334.5 420.5h.9M344.9 439.6h.9M347.6 443.2h.9M341.1 442.4h.9M343.6 408.5h.9M332.5 420.1h.9M347.7 401.8h.9M343.0 441.7h.9M331.2 410.9h.9M354.1 408.5h.9M336.3 393.3h.9M335.7 441.6h.9M344.0 430.0h.9M330.1 438.3h.9M351.0 402.8h.9M344.9 398.5h.9M325.8 441.2h.9M341.5 394.9h.9M351.7 410.0h.9M331.1 420.3h.9M329.5 429.5h.9M353.2 411.9h.9M335.3 426.2h.9M343.4 398.3h.9M351.7 412.6h.9M324.5 406.0h.9M353.7 424.3h.9M328.2 406.5h.9M338.5 430.6h.9M353.5 425.7h.9M327.7 404.2h.9M347.4 442.9h.9M353.0 419.8h.9M325.0 407.3h.9M339.0 442.3h.9M348.9 407.6h.9M335.6 432.6h.9M350.2 433.1h.9M340.6 425.0h.9M346.3 444.5h.9M354.1 443.9h.9M350.5 417.7h.9M353.9 399.7h.9M337.8 441.6h.9M336.0 392.6h.9M338.0 437.8h.9M354.2 422.9h.9M343.0 394.9h.9M344.1 435.0h.9M334.5 417.1h.9M348.7 412.1h.9M342.1 425.3h.9M335.7 420.9h.9M347.7 418.4h.9M341.9 435.7h.9M330.5 409.0h.9M334.6 407.1h.9M354.6 437.2h.9M326.3 446.3h.9M345.1 397.5h.9M337.6 429.1h.9M332.0 399.5h.9M348.7 392.2h.9M348.4 431.6h.9M360.6 440.6h.9M361.1 435.2h.9M348.3 415.0h.9M344.0 421.4h.9M352.1 405.8h.9M340.9 407.7h.9M341.6 433.5h.9M324.6 415.1h.9M335.9 392.5h.9M349.0 392.5h.9M334.3 440.7h.9M333.6 431.1h.9M345.6 442.9h.9M356.8 400.3h.9M361.3 415.5h.9M343.5 445.1h.9M346.1 410.4h.9M346.8 430.9h.9M343.4 422.6h.9M347.0 400.8h.9M347.2 420.3h.9M352.7 440.8h.9M341.6 423.3h.9M346.8 440.5h.9M335.0 397.8h.9M352.0 417.7h.9M351.0 416.3h.9M356.2 401.1h.9M352.8 432.2h.9M329.9 400.8h.9M326.0 396.5h.9M325.7 407.8h.9M340.5 417.0h.9M337.5 427.2h.9M344.2 431.8h.9M343.2 405.9h.9M338.5 416.8h.9M349.9 423.9h.9M356.5 432.4h.9M353.0 444.2h.9M356.2 436.7h.9M351.8 440.8h.9M350.4 429.8h.9M337.9 427.6h.9M339.5 444.5h.9M354.4 444.3h.9M330.2 432.7h.9M356.4 404.2h.9M352.5 440.9h.9M336.9 411.6h.9M326.3 395.3h.9M333.6 393.3h.9M335.3 397.4h.9M343.1 446.8h.9M339.1 420.9h.9M330.4 400.1h.9M338.7 408.6h.9M345.3 440.3h.9M330.9 415.9h.9M349.3 425.6h.9M346.8 407.1h.9M360.5 413.0h.9M354.2 417.8h.9M332.6 401.6h.9M350.3 444.1h.9M347.7 431.0h.9M348.3 424.4h.9M339.1 416.3h.9M353.3 393.8h.9M337.6 439.1h.9M333.4 403.0h.9M333.2 393.1h.9M335.9 402.9h.9M339.9 398.6h.9M360.2 442.5h.9M345.9 392.7h.9M340.5 445.8h.9M344.0 445.0h.9M344.5 438.3h.9M332.5 438.9h.9M334.3 433.6h.9M341.6 414.4h.9M341.2 446.0h.9M332.5 422.0h.9M361.5 394.9h.9M359.7 435.9h.9M351.8 435.5h.9M325.7 392.8h.9M354.3 395.1h.9M337.5 422.8h.9M354.6 402.0h.9M324.7 438.8h.9M349.5 437.2h.9M333.4 414.3h.9M342.8 392.1h.9M349.8 431.2h.9M330.8 445.1h.9M334.5 444.9h.9M350.7 393.0h.9M333.3 407.1h.9M359.4 398.5h.9M334.6 432.8h.9M343.1 426.0h.9M351.9 437.8h.9M337.7 394.9h.9M353.4 396.6h.9M334.5 437.0h.9M354.3 400.1h.9M326.8 445.9h.9M326.2 420.0h.9M329.2 408.5h.9M353.6 409.3h.9M355.5 447.0h.9M353.7 408.4h.9M355.4 431.4h.9M355.4 399.3h.9M358.4 428.2h.9M343.7 410.5h.9M338.2 442.8h.9M354.6 445.7h.9M340.9 408.2h.9M347.7 443.0h.9M349.0 405.0h.9M338.6 397.9h.9M333.4 437.8h.9M361.5 395.5h.9M351.0 423.9h.9M358.5 398.1h.9M327.9 411.6h.9M337.5 446.5h.9M333.0 413.2h.9M361.2 432.7h.9M340.7 419.8h.9M357.6 438.6h.9M338.6 422.4h.9M340.4 434.9h.9M355.2 395.4h.9M349.5 400.1h.9M330.0 402.7h.9M329.2 424.2h.9M350.6 398.0h.9M361.2 401.5h.9M356.1 393.4h.9M348.8 433.6h.9M356.3 413.7h.9M352.8 429.0h.9M328.6 443.7h.9M352.9 438.2h.9M333.0 405.2h.9M335.1 428.1h.9M358.2 411.4h.9M334.2 401.6h.9M349.2 442.8h.9M353.2 428.6h.9M333.1 425.6h.9M328.1 433.8h.9M327.5 406.9h.9M326.9 413.2h.9M357.5 417.4h.9M326.9 402.0h.9M350.3 405.8h.9M341.8 440.5h.9M360.3 445.5h.9M328.4 444.9h.9M361.9 439.5h.9M330.9 441.0h.9M344.1 402.3h.9M347.0 425.9h.9M347.8 402.9h.9M350.2 438.0h.9M335.9 446.2h.9M358.0 445.9h.9M329.5 397.2h.9M334.4 415.0h.9M341.9 402.9h.9M348.1 395.2h.9M337.1 430.8h.9M338.5 399.5h.9M350.5 405.3h.9M332.4 431.7h.9M327.7 445.5h.9M343.7 404.7h.9M345.9 403.0h.9M344.7 417.8h.9M326.3 441.0h.9M351.4 433.3h.9M355.1 436.2h.9M342.2 446.9h.9M334.7 441.8h.9M361.6 416.6h.9M344.3 403.7h.9M349.7 441.8h.9M331.8 398.8h.9M326.0 404.1h.9M329.9 406.9h.9M334.1 413.4h.9M329.1 447.0h.9M344.5 434.6h.9M340.4 412.6h.9M343.7 446.3h.9M331.6 397.7h.9M353.0 406.5h.9M342.9 407.4h.9M327.6 423.6h.9M327.0 403.2h.9M341.6 397.8h.9M325.9 442.2h.9M360.5 413.9h.9M334.1 401.4h.9M343.2 427.9h.9M329.7 414.9h.9M354.1 435.1h.9M358.9 410.7h.9M334.0 441.7h.9M336.1 418.9h.9M361.8 416.1h.9M353.4 434.9h.9M354.0 426.2h.9M325.0 441.7h.9M338.6 441.1h.9M336.7 427.6h.9M330.0 414.8h.9M358.0 399.6h.9M346.5 437.3h.9M350.2 414.3h.9M334.3 407.6h.9M338.7 422.5h.9M343.1 397.5h.9M331.8 439.3h.9M335.5 401.6h.9M350.0 401.2h.9M343.9 415.8h.9M349.0 404.0h.9M329.1 437.2h.9M342.6 428.4h.9M334.5 395.1h.9M335.3 393.2h.9M360.9 421.8h.9M360.3 392.9h.9M358.0 424.5h.9M329.2 394.1h.9M350.6 403.0h.9M351.2 414.2h.9M324.7 410.8h.9M334.5 407.0h.9M355.4 418.0h.9M344.5 443.6h.9M337.1 431.4h.9M341.6 438.0h.9M341.7 431.8h.9M331.7 435.0h.9M355.5 435.8h.9M360.3 409.1h.9M335.1 393.7h.9M352.0 414.5h.9M354.3 433.1h.9M325.7 411.6h.9M355.0 428.2h.9M330.0 407.0h.9M358.3 441.4h.9M334.5 433.0h.9M350.6 414.0h.9M340.3 402.7h.9M345.4 416.0h.9M328.1 402.3h.9M339.9 431.3h.9M361.2 431.7h.9M330.5 417.0h.9M331.3 413.0h.9M358.8 416.8h.9M333.9 420.0h.9M333.7 414.8h.9M360.6 421.9h.9M325.1 431.3h.9M335.9 445.8h.9M339.1 419.7h.9M350.6 443.9h.9M356.3 406.6h.9M341.3 399.9h.9M339.2 435.1h.9M354.5 398.7h.9M354.2 443.8h.9M333.1 444.2h.9M354.3 392.9h.9M356.7 424.1h.9M336.6 394.7h.9M357.9 406.6h.9M336.9 412.9h.9M348.3 426.3h.9M333.9 437.4h.9M332.2 406.2h.9M342.5 393.2h.9M349.0 438.6h.9M335.7 421.8h.9M361.1 393.4h.9M339.6 404.3h.9M326.9 403.9h.9M331.9 436.6h.9M350.4 412.0h.9M343.4 444.2h.9M359.4 418.2h.9M342.4 446.3h.9M325.4 427.5h.9M343.3 409.6h.9M328.6 413.8h.9M359.8 406.6h.9M335.9 410.5h.9M342.6 438.4h.9M360.4 434.2h.9M347.2 400.0h.9M352.9 416.9h.9M352.8 402.7h.9M344.8 426.2h.9M347.1 402.3h.9M347.3 424.8h.9M334.4 442.4h.9M331.4 443.7h.9M352.1 412.5h.9M349.8 446.9h.9M329.4 438.7h.9M344.8 415.5h.9M356.8 392.0h.9M330.0 435.0h.9M358.5 421.6h.9M331.1 445.0h.9M349.6 412.5h.9M349.9 408.3h.9M324.7 402.3h.9M336.0 393.8h.9M358.8 399.1h.9M356.4 405.8h.9M359.2 409.5h.9M342.7 422.7h.9M329.1 400.4h.9M330.5 430.4h.9M339.4 421.4h.9M324.9 395.9h.9M335.7 394.3h.9M356.8 398.1h.9M355.5 445.7h.9M360.0 410.5h.9M333.7 418.6h.9M339.7 415.9h.9M360.6 443.5h.9M355.5 438.0h.9M348.0 403.3h.9M325.4 409.4h.9M341.1 394.7h.9M334.4 427.3h.9M355.8 423.7h.9M355.5 393.4h.9M338.6 422.6h.9M338.1 416.6h.9M348.9 417.2h.9M357.3 417.9h.9M342.6 432.0h.9M326.4 435.0h.9M333.4 393.8h.9M345.1 443.1h.9M331.0 426.2h.9M332.4 404.8h.9M353.6 417.6h.9M342.1 440.1h.9M327.9 432.5h.9M326.5 395.3h.9M346.3 445.1h.9M357.2 443.6h.9M339.6 392.0h.9M332.4 409.0h.9M326.4 402.2h.9M352.2 444.8h.9M348.4 426.7h.9M352.3 433.4h.9M346.6 434.4h.9M338.7 394.3h.9M344.9 403.2h.9M328.0 423.2h.9M355.4 419.7h.9M358.1 414.7h.9M354.3 427.2h.9M357.8 422.1h.9M347.1 406.4h.9M341.6 410.2h.9M349.0 407.7h.9M327.6 441.7h.9M356.7 424.7h.9M337.8 414.3h.9M332.3 407.3h.9M350.4 420.4h.9M331.2 393.9h.9M350.6 423.7h.9M329.4 439.8h.9M326.7 445.4h.9M334.9 397.6h.9M325.8 414.9h.9M360.3 401.2h.9M326.5 411.8h.9M334.3 409.8h.9M325.4 416.7h.9M357.0 446.6h.9M331.1 414.5h.9M340.6 422.0h.9M343.2 425.9h.9M333.8 395.6h.9M346.0 421.0h.9M356.9 402.9h.9M335.5 398.7h.9M343.2 439.5h.9M354.4 422.5h.9M326.6 425.9h.9M360.7 440.8h.9M336.7 429.4h.9M343.1 430.9h.9M344.5 433.4h.9M345.1 428.3h.9M352.7 414.3h.9M355.3 429.9h.9M356.8 429.8h.9M335.6 446.1h.9M327.5 412.7h.9M337.5 430.2h.9M340.0 397.0h.9M329.2 436.8h.9M333.7 396.5h.9M325.6 404.6h.9M327.6 420.5h.9M343.6 392.5h.9M357.4 437.2h.9M334.2 399.1h.9M354.9 424.9h.9M343.9 393.9h.9M330.3 431.7h.9M359.5 399.3h.9M341.3 435.6h.9M350.8 400.5h.9M326.6 416.4h.9M357.6 411.7h.9M330.7 444.1h.9M339.1 418.0h.9M337.2 398.4h.9M354.8 420.0h.9M355.9 422.9h.9M355.9 415.2h.9M336.2 400.8h.9M335.6 393.7h.9M356.5 418.7h.9M350.4 424.4h.9M336.9 394.1h.9M333.3 426.6h.9M339.1 392.9h.9M348.6 423.3h.9M361.0 406.5h.9M349.4 392.4h.9M359.8 425.8h.9M347.3 396.8h.9M352.4 404.3h.9M355.8 401.2h.9M326.8 407.5h.9M328.4 418.2h.9M356.3 399.0h.9M355.9 438.3h.9M337.6 393.2h.9M352.5 399.9h.9M346.0 418.7h.9M354.3 425.3h.9M343.5 395.0h.9M338.8 440.4h.9M326.2 410.6h.9M335.9 440.4h.9M330.5 419.9h.9M346.4 393.5h.9M347.9 420.7h.9M340.4 420.3h.9M340.4 444.8h.9M350.5 421.4h.9M352.3 426.9h.9M334.0 417.6h.9M325.2 403.8h.9M350.0 419.9h.9M349.2 430.7h.9M346.7 431.9h.9M332.7 442.2h.9M343.0 416.5h.9M356.4 405.4h.9M361.6 404.7h.9M344.4 435.4h.9M329.5 444.9h.9M327.7 408.1h.9M355.8 418.8h.9M341.8 444.1h.9M337.4 422.9h.9M326.4 419.1h.9M330.6 435.8h.9M342.9 407.3h.9M342.0 445.1h.9M329.9 404.0h.9M328.0 418.5h.9M345.4 439.4h.9M330.6 420.0h.9M343.6 422.7h.9M340.7 419.5h.9M336.8 401.8h.9M351.2 431.6h.9M333.2 425.0h.9M346.4 439.2h.9M341.3 418.7h.9M331.6 435.0h.9M357.7 436.3h.9M356.1 419.9h.9M331.1 421.1h.9M343.7 428.5h.9M338.0 402.9h.9M349.5 406.1h.9M332.3 406.6h.9M324.8 425.4h.9M331.8 428.9h.9M344.4 422.7h.9M330.0 416.6h.9M326.8 431.3h.9M324.5 415.9h.9M336.1 405.1h.9M333.4 430.5h.9M325.7 429.2h.9M348.5 392.6h.9M351.8 439.9h.9M348.2 397.9h.9M361.9 400.7h.9M347.1 393.3h.9M351.5 401.7h.9M347.3 423.4h.9M334.0 400.4h.9M342.3 420.5h.9M326.0 415.9h.9M349.5 406.0h.9M357.0 406.4h.9M348.5 411.4h.9M356.2 432.3h.9M332.0 435.5h.9M355.2 433.1h.9M350.5 434.0h.9M353.3 402.7h.9M328.9 419.0h.9M344.1 426.8h.9M329.2 407.6h.9M327.1 397.2h.9M350.5 445.2h.9M347.6 423.1h.9M324.7 411.9h.9M361.6 422.8h.9M347.8 426.7h.9M337.6 413.1h.9M348.2 419.3h.9M354.0 419.8h.9M351.8 399.8h.9M331.8 435.4h.9M329.5 395.2h.9M356.4 430.5h.9M332.2 412.2h.9M358.4 418.7h.9M333.7 430.7h.9M356.1 440.6h.9M348.9 398.2h.9M325.2 425.7h.9M336.0 443.6h.9M328.4 392.3h.9M347.3 420.9h.9M359.6 415.4h.9M348.3 435.7h.9M331.0 416.9h.9M326.7 441.5h.9M340.3 393.0h.9M330.6 412.3h.9M330.9 443.9h.9M361.8 407.5h.9M347.2 395.8h.9M326.8 436.1h.9M357.8 420.9h.9M331.6 441.0h.9M334.8 437.9h.9M341.5 438.8h.9M332.1 421.9h.9M331.4 423.0h.9M342.3 441.2h.9M355.2 444.8h.9M337.7 446.3h.9M358.8 435.5h.9M334.8 418.6h.9M331.7 440.4h.9M351.2 395.9h.9M339.3 416.3h.9M356.3 413.3h.9M335.4 441.3h.9M331.6 435.1h.9M325.4 422.6h.9M342.5 434.0h.9M331.0 429.9h.9M337.5 401.5h.9M345.4 424.4h.9M350.6 433.1h.9M338.1 433.2h.9M344.0 412.4h.9M359.7 411.2h.9M346.0 416.1h.9M346.3 396.1h.9M349.4 425.6h.9M354.8 416.7h.9M339.1 445.3h.9M328.3 405.7h.9M359.4 442.8h.9M332.3 437.9h.9M330.4 393.0h.9M334.7 431.6h.9M359.1 414.3h.9M348.0 429.1h.9M339.6 438.8h.9M327.4 444.8h.9M361.6 446.2h.9M361.4 423.8h.9M349.8 434.5h.9M332.8 432.8h.9M344.8 440.9h.9M358.8 398.7h.9M326.5 432.6h.9M337.5 393.9h.9M352.0 407.4h.9M345.4 406.9h.9M348.5 402.7h.9M336.8 392.7h.9M340.3 408.0h.9M345.2 428.9h.9M347.9 413.4h.9M336.1 405.4h.9M345.9 402.4h.9M352.1 401.6h.9M343.6 402.6h.9M326.9 436.1h.9M339.3 420.2h.9M358.3 402.3h.9M349.2 432.2h.9M361.1 414.8h.9M350.3 445.8h.9M346.8 429.6h.9M331.5 407.6h.9M358.4 439.1h.9M347.5 415.8h.9M341.6 424.2h.9M329.4 442.5h.9M330.9 411.9h.9M340.2 402.8h.9M346.7 424.5h.9M339.3 403.3h.9M347.9 442.2h.9M337.1 439.6h.9M342.6 418.5h.9M360.5 423.5h.9M360.4 404.5h.9M348.0 412.5h.9M361.9 424.0h.9M359.3 424.7h.9M337.1 401.1h.9M330.5 422.7h.9M338.1 422.2h.9M358.6 413.8h.9M345.2 424.7h.9M342.9 443.6h.9M345.7 445.2h.9M360.6 442.2h.9M327.0 430.7h.9M358.2 425.5h.9M342.5 388.7h.9M349.2 381.5h.9M329.6 379.3h.9M334.1 391.4h.9M328.0 380.3h.9M346.8 386.1h.9M348.0 383.1h.9M336.9 378.6h.9M332.9 390.5h.9M334.7 383.7h.9M352.2 384.1h.9M336.8 383.0h.9M346.7 379.7h.9M329.5 385.4h.9M337.2 380.8h.9M352.2 380.8h.9M336.7 385.9h.9M359.2 389.8h.9M334.0 385.0h.9M337.5 379.0h.9M343.1 387.5h.9M344.3 386.7h.9M326.0 391.0h.9M347.7 385.6h.9M346.9 379.5h.9M327.1 392.0h.9M343.5 381.4h.9M356.3 378.2h.9M337.7 388.0h.9M334.6 385.5h.9M334.1 387.8h.9M325.8 387.5h.9M339.2 385.5h.9M352.6 378.9h.9M332.2 385.7h.9M353.2 384.2h.9M342.9 384.2h.9M350.9 390.5h.9M328.9 378.1h.9M339.3 380.4h.9M334.9 380.9h.9M343.6 388.2h.9M332.9 382.6h.9M331.2 379.4h.9M353.8 384.6h.9M357.1 382.6h.9M339.1 386.8h.9M361.5 389.8h.9M340.8 390.8h.9M357.2 389.5h.9M360.3 384.9h.9M333.5 386.4h.9M339.1 380.7h.9M354.7 385.7h.9M326.2 379.7h.9M345.6 388.4h.9M350.4 381.7h.9M329.1 389.7h.9M329.1 389.8h.9M360.4 390.5h.9M348.9 383.6h.9M360.7 378.8h.9M339.4 384.0h.9M329.1 385.7h.9M348.3 380.5h.9M336.1 391.2h.9M359.3 380.9h.9M334.6 389.1h.9M345.2 383.8h.9M357.8 384.1h.9M342.0 390.9h.9M331.9 386.0h.9M340.7 381.5h.9M330.9 385.6h.9M326.9 387.6h.9M350.5 391.4h.9M330.5 384.9h.9M361.2 380.4h.9M355.8 383.1h.9M327.1 382.8h.9M349.9 439.5h.9M356.4 439.3h.9M350.5 443.3h.9M360.5 442.3h.9M336.0 437.7h.9M328.6 442.1h.9M347.3 445.1h.9M351.2 442.2h.9M340.9 439.4h.9M346.7 443.2h.9M336.4 443.5h.9M341.8 440.0h.9M346.1 442.5h.9M343.1 438.4h.9M358.0 445.3h.9M350.4 442.1h.9M339.3 437.9h.9M332.5 440.4h.9M355.8 440.2h.9M326.1 439.0h.9M335.5 443.9h.9M345.0 442.9h.9M329.9 442.2h.9M341.7 443.5h.9M358.2 439.8h.9M353.1 440.4h.9M339.8 443.4h.9M347.0 442.8h.9M347.3 442.0h.9M358.1 441.0h.9M337.7 442.0h.9M334.5 440.0h.9M344.4 439.0h.9M345.2 438.0h.9M318.6 442.6h.9M318.7 444.2h.9M331.5 440.7h.9M326.7 443.4h.9M335.1 441.7h.9M345.9 439.9h.9M321.0 443.4h.9M335.2 440.8h.9M336.4 440.7h.9M327.8 441.5h.9M351.3 440.7h.9M342.5 438.6h.9M323.0 439.9h.9M346.6 439.7h.9M339.0 441.9h.9M352.2 442.8h.9M339.7 444.4h.9M351.4 442.3h.9M357.4 438.6h.9M330.0 439.0h.9M341.4 441.3h.9M340.3 444.2h.9M337.2 440.2h.9M344.0 441.8h.9M349.0 440.3h.9M343.1 442.2h.9M345.6 440.7h.9M340.4 442.9h.9M345.2 441.4h.9M345.2 443.1h.9M344.9 439.9h.9M348.8 442.7h.9M352.2 442.0h.9M357.2 442.5h.9M346.0 441.0h.9M337.0 442.9h.9M332.8 442.3h.9M342.1 441.4h.9M343.8 443.3h.9M341.0 444.9h.9M325.4 438.3h.9M341.4 441.8h.9M332.1 443.1h.9M338.8 441.1h.9M334.9 442.7h.9M343.3 440.7h.9M355.0 443.1h.9M352.5 443.4h.9M343.8 438.9h.9M358.4 438.1h.9M346.7 441.6h.9M347.9 439.1h.9M307.0 441.9h.9M332.2 442.6h.9M337.5 438.4h.9M337.2 441.9h.9M335.2 440.8h.9M335.5 442.3h.9M333.1 439.7h.9M349.1 442.2h.9M330.6 441.1h.9M333.9 437.7h.9M346.5 439.8h.9M361.6 443.6h.9M353.5 442.0h.9M332.2 442.4h.9M346.9 442.6h.9M345.1 441.0h.9M356.6 438.9h.9M325.6 442.5h.9M346.7 439.4h.9M333.9 437.8h.9M319.7 441.8h.9M356.9 443.3h.9M350.7 441.4h.9M346.0 439.6h.9M332.4 437.5h.9M353.3 442.3h.9M347.0 443.8h.9M341.8 440.1h.9M340.1 442.1h.9M338.1 438.8h.9M351.4 439.7h.9M354.1 442.3h.9M334.4 441.9h.9M341.9 439.8h.9M332.2 439.6h.9M343.5 441.5h.9M334.6 441.5h.9M354.3 440.8h.9M333.8 441.3h.9M348.4 443.5h.9M341.6 440.5h.9M336.5 444.1h.9M332.7 442.0h.9M362.3 442.5h.9M331.8 438.5h.9M344.4 439.9h.9M328.7 441.1h.9M336.0 439.5h.9M320.9 443.3h.9M349.7 443.3h.9M348.4 443.4h.9M342.6 440.8h.9M352.9 438.6h.9M356.7 436.6h.9M330.6 442.5h.9M355.8 440.0h.9M338.4 437.8h.9M338.6 440.4h.9M344.1 444.5h.9M347.0 441.0h.9M336.3 440.7h.9M333.6 442.9h.9M339.9 441.6h.9M337.5 440.6h.9M344.6 442.5h.9M336.2 438.4h.9M350.9 436.7h.9M362.3 439.3h.9M336.8 444.4h.9M330.1 443.3h.9M334.6 437.5h.9M336.9 443.0h.9M355.4 438.0h.9M355.5 441.6h.9M353.5 442.6h.9M337.3 439.6h.9M335.5 442.0h.9M331.5 438.1h.9M339.1 444.5h.9M345.7 445.5h.9M340.1 443.0h.9M333.6 439.1h.9M351.7 440.5h.9M360.6 440.1h.9M341.3 441.2h.9M341.7 442.3h.9M353.9 440.8h.9M344.4 443.2h.9M334.9 447.0h.9M336.3 445.0h.9M353.2 443.2h.9M352.4 439.7h.9M339.8 442.6h.9M342.6 438.1h.9M341.5 440.3h.9M348.1 446.6h.9M355.1 443.9h.9M346.0 444.4h.9M318.5 439.3h.9M349.1 440.4h.9M351.6 440.3h.9M338.1 442.7h.9M330.3 441.5h.9M328.3 441.0h.9M350.7 440.0h.9M340.7 439.4h.9M352.9 442.9h.9M357.7 439.0h.9M332.4 440.2h.9M340.9 443.3h.9M333.2 442.8h.9M332.7 441.6h.9M356.1 443.6h.9M332.7 438.5h.9M342.8 442.8h.9M357.4 442.2h.9M348.2 444.6h.9M338.4 441.3h.9M350.6 439.0h.9M348.3 442.1h.9M332.9 440.2h.9M345.2 439.5h.9M349.9 443.6h.9M347.3 442.9h.9M341.8 439.3h.9M352.5 441.7h.9M343.4 440.8h.9M345.9 439.2h.9M361.7 443.2h.9M350.0 444.7h.9M349.5 442.0h.9M341.8 441.1h.9M328.8 440.6h.9M318.5 439.2h.9M355.2 439.8h.9M353.6 440.1h.9M348.6 441.7h.9M337.3 442.6h.9M353.0 442.5h.9M363.3 439.7h.9M349.2 442.2h.9M330.1 442.7h.9M326.6 446.8h.9M339.7 443.0h.9M338.5 439.2h.9M349.6 440.1h.9M323.0 439.9h.9M351.1 443.7h.9M340.1 440.2h.9M357.7 444.2h.9M341.9 439.4h.9M348.4 441.7h.9M338.3 443.0h.9M330.0 441.9h.9M360.6 444.3h.9M336.4 441.6h.9M328.9 442.7h.9M341.3 443.0h.9M344.1 444.7h.9M338.1 440.0h.9M337.0 438.6h.9M339.1 442.0h.9M347.3 440.9h.9M352.3 441.2h.9M345.4 441.9h.9M345.0 441.6h.9M350.7 439.7h.9M331.6 441.9h.9M344.7 442.4h.9M356.6 442.3h.9M336.4 437.7h.9M355.1 442.0h.9M344.1 438.4h.9M353.4 442.4h.9M331.6 439.4h.9M332.3 440.2h.9M354.2 444.5h.9M337.5 442.5h.9M335.0 442.4h.9M342.8 442.3h.9M308.6 441.1h.9M349.2 444.0h.9M357.9 441.0h.9M341.1 441.0h.9M319.7 443.5h.9M316.6 440.5h.9M341.8 442.1h.9M361.6 443.1h.9M342.3 440.2h.9M343.5 444.9h.9M351.2 443.5h.9M335.8 441.8h.9M351.3 443.5h.9M324.3 441.0h.9M339.4 437.2h.9M337.9 442.2h.9M338.4 442.7h.9M317.6 443.4h.9M338.6 442.0h.9M350.3 441.7h.9M336.0 442.6h.9M358.8 441.4h.9M340.4 440.5h.9M343.4 443.2h.9M323.1 442.7h.9M350.5 443.4h.9M345.8 441.9h.9M355.0 443.1h.9M333.1 441.1h.9M343.4 436.9h.9M355.5 440.2h.9M341.9 442.8h.9M341.0 443.5h.9M327.8 439.5h.9M357.8 442.6h.9M353.8 439.4h.9M331.6 442.3h.9M354.0 445.5h.9M357.6 442.6h.9M352.6 442.6h.9M343.0 443.8h.9M344.0 442.4h.9M324.0 441.4h.9M339.5 440.8h.9M339.0 440.1h.9M328.8 439.5h.9M350.8 441.0h.9M340.0 440.9h.9M349.9 445.2h.9M337.0 441.6h.9M325.7 441.0h.9M343.4 445.7h.9M339.6 441.2h.9M349.6 441.1h.9M342.4 442.0h.9M357.3 442.1h.9M336.8 440.7h.9M362.2 440.4h.9M347.2 443.4h.9M353.9 440.3h.9M328.7 439.8h.9M350.6 441.3h.9M344.2 440.9h.9M355.9 441.2h.9M336.4 441.0h.9M343.7 441.5h.9M326.1 441.7h.9M350.1 442.7h.9M353.7 437.9h.9M352.3 444.4h.9M342.1 444.8h.9M351.9 440.2h.9M347.0 442.3h.9M333.6 439.7h.9M344.1 441.3h.9M342.5 444.6h.9M350.3 444.3h.9M350.3 441.5h.9M350.3 446.4h.9M356.3 442.8h.9M326.6 436.3h.9M360.1 441.3h.9M361.7 445.7h.9M351.0 442.4h.9M353.6 444.8h.9M355.7 442.1h.9M341.8 443.1h.9M342.8 446.0h.9M350.1 441.7h.9M356.2 441.6h.9M338.2 443.7h.9M338.9 444.8h.9M340.4 445.9h.9M357.5 443.3h.9M341.6 444.5h.9M338.7 436.6h.9M344.3 440.8h.9M337.1 441.2h.9M335.4 444.0h.9M350.1 438.9h.9M350.1 441.7h.9M336.0 436.8h.9M344.7 442.0h.9M350.0 444.9h.9M327.0 439.4h.9M324.5 441.2h.9M347.1 439.9h.9M328.7 442.2h.9M346.2 438.3h.9M348.5 442.5h.9M341.6 442.0h.9M336.7 438.7h.9M352.3 443.4h.9M357.1 443.9h.9M330.7 441.9h.9M346.7 443.3h.9M353.9 440.9h.9M349.0 441.2h.9M336.7 444.9h.9M336.5 441.5h.9M324.9 441.3h.9M344.0 438.6h.9M332.9 437.8h.9M347.9 439.4h.9M347.9 445.8h.9M342.3 440.5h.9M345.4 443.6h.9M355.2 442.9h.9M340.6 439.7h.9M349.1 441.0h.9M313.6 384.4h.9M314.9 399.8h.9M308.9 389.9h.9M315.1 392.7h.9M312.8 410.0h.9M317.1 422.5h.9M306.9 404.6h.9M313.2 404.6h.9M310.3 393.2h.9M309.6 414.5h.9M308.6 376.1h.9M318.5 381.6h.9M309.1 392.2h.9M310.8 415.2h.9M305.8 400.8h.9M300.6 403.5h.9M312.2 399.4h.9M316.3 402.4h.9M309.7 390.1h.9M305.3 408.4h.9M307.3 373.4h.9M314.2 392.8h.9M309.8 404.1h.9M316.6 381.8h.9M307.5 417.0h.9M315.4 418.8h.9M303.8 404.2h.9M309.2 391.7h.9M303.6 412.9h.9M314.6 410.0h.9M314.0 405.5h.9M312.8 410.8h.9M310.6 406.9h.9M309.7 413.0h.9M307.3 401.6h.9M310.2 389.9h.9M309.7 397.5h.9M314.0 385.0h.9M307.8 383.8h.9M303.4 407.9h.9M313.5 407.4h.9M311.5 399.2h.9M316.0 413.2h.9M312.7 394.4h.9M313.9 408.3h.9M305.9 382.3h.9M314.3 412.7h.9M312.4 386.6h.9M318.0 411.4h.9M312.8 405.3h.9M311.1 431.3h.9M305.8 405.6h.9M312.9 407.4h.9M316.9 384.6h.9M310.2 388.6h.9M308.0 395.0h.9M313.1 396.1h.9M308.7 392.6h.9M314.1 400.8h.9M311.2 403.1h.9M315.2 377.1h.9M314.2 413.2h.9M312.0 420.5h.9M314.6 410.7h.9M307.9 388.2h.9M313.3 400.5h.9M310.7 408.1h.9M312.0 390.7h.9M316.9 396.7h.9M308.6 385.6h.9M312.2 421.0h.9M312.4 381.1h.9M313.4 406.6h.9M310.2 393.7h.9M314.8 403.7h.9M316.5 399.1h.9M308.5 397.4h.9M309.2 413.1h.9M313.2 391.6h.9M315.5 396.4h.9M310.6 401.4h.9M312.8 394.2h.9M306.0 378.3h.9M306.4 393.9h.9M307.1 420.8h.9M317.6 404.5h.9M320.5 408.6h.9M308.1 400.9h.9M311.1 419.8h.9M313.1 386.3h.9M313.9 412.7h.9M310.5 410.2h.9M311.4 410.3h.9M304.6 393.7h.9M310.6 408.2h.9M306.6 402.0h.9M308.2 403.2h.9M310.4 409.2h.9M305.2 390.9h.9M307.2 398.5h.9M311.1 391.7h.9M313.2 404.9h.9M312.3 417.1h.9M313.9 414.9h.9M308.4 393.2h.9M313.5 406.0h.9M310.5 411.9h.9M311.4 391.0h.9M309.9 412.3h.9M309.6 404.7h.9M309.8 407.0h.9M311.8 383.3h.9M313.3 406.8h.9M308.8 415.4h.9M313.6 390.2h.9M307.3 398.5h.9M311.5 391.2h.9M312.8 393.2h.9M313.3 379.1h.9M311.4 401.2h.9M310.3 394.3h.9M311.4 410.3h.9M305.2 410.2h.9M312.2 398.7h.9M309.5 389.5h.9M303.5 402.9h.9M308.9 406.1h.9M309.9 410.9h.9M312.2 416.9h.9M308.6 384.0h.9M310.5 394.3h.9M305.2 399.0h.9M305.5 407.5h.9M309.7 384.6h.9M312.4 391.6h.9M307.9 407.0h.9M310.7 390.1h.9M307.7 376.5h.9M317.0 410.6h.9M308.9 405.4h.9M309.8 413.4h.9M316.9 402.6h.9M314.6 387.9h.9M310.5 386.9h.9M313.2 402.7h.9M310.2 382.0h.9M314.7 405.0h.9M306.5 424.8h.9M306.8 405.7h.9M309.6 394.5h.9M308.4 396.9h.9M306.0 377.5h.9M309.6 409.4h.9M311.0 395.3h.9M313.5 404.1h.9M317.4 418.8h.9M309.3 390.1h.9M302.9 396.3h.9M311.2 409.1h.9M305.7 376.4h.9M307.9 403.4h.9M307.4 397.5h.9M306.8 387.2h.9M311.3 391.1h.9M314.4 403.9h.9M313.8 385.5h.9M311.2 402.2h.9M314.7 394.2h.9M315.4 409.3h.9M314.2 414.2h.9M307.0 389.7h.9M312.1 399.4h.9M306.1 417.5h.9M314.0 398.1h.9M305.8 403.0h.9M312.4 395.8h.9M313.1 422.0h.9M314.0 412.4h.9M316.1 405.8h.9M307.7 415.5h.9M303.1 391.7h.9M310.5 383.5h.9M314.3 400.6h.9M308.6 391.3h.9M312.3 402.1h.9M313.5 401.8h.9M315.1 417.9h.9M305.1 424.5h.9M312.0 375.7h.9M314.1 397.0h.9M309.2 407.0h.9M319.2 411.9h.9M315.0 388.2h.9M310.8 378.7h.9M315.9 406.6h.9M311.1 389.3h.9M312.7 390.2h.9M308.9 402.6h.9M306.3 411.2h.9M309.7 394.3h.9M313.7 413.9h.9M319.5 417.3h.9M318.2 395.7h.9M311.5 394.4h.9M321.1 407.2h.9M315.6 414.3h.9M322.0 408.3h.9M307.9 407.9h.9M318.5 388.0h.9M319.9 408.8h.9M320.9 384.6h.9M320.2 410.2h.9M307.6 409.9h.9M321.8 418.8h.9M319.6 410.1h.9M310.6 406.2h.9M320.4 410.2h.9M310.0 389.8h.9M313.1 419.6h.9M309.9 389.8h.9M314.7 400.5h.9M314.1 400.2h.9M312.4 418.6h.9M310.2 413.5h.9M306.3 388.8h.9M312.5 424.3h.9M312.9 384.3h.9M308.8 400.8h.9M316.1 411.6h.9M320.0 384.7h.9M320.4 400.9h.9M317.3 394.2h.9M314.8 413.9h.9M308.2 384.1h.9M310.0 402.4h.9M315.8 384.9h.9M319.3 409.3h.9M318.7 397.2h.9M315.8 422.6h.9M314.4 406.1h.9M306.8 410.0h.9M317.2 391.0h.9M319.4 426.6h.9M316.6 390.5h.9M320.8 422.9h.9M310.1 394.7h.9M311.4 407.6h.9M315.8 388.6h.9M315.4 392.6h.9M315.3 416.1h.9M315.8 395.1h.9M318.6 403.8h.9M318.3 404.9h.9M318.8 392.9h.9M308.4 417.9h.9M315.2 410.5h.9M319.0 398.4h.9M315.0 388.0h.9M321.4 401.4h.9M313.1 413.4h.9M308.3 419.4h.9M307.9 426.8h.9M320.4 386.5h.9M307.1 384.0h.9M309.6 424.4h.9M311.6 423.5h.9M310.2 385.8h.9M313.3 384.9h.9M320.7 412.0h.9M308.1 415.2h.9M310.3 426.0h.9M309.6 422.6h.9M312.5 400.8h.9M320.4 399.6h.9M306.1 409.4h.9M318.9 402.9h.9M319.5 410.6h.9M318.4 398.9h.9M314.3 425.6h.9M311.7 390.1h.9M311.1 405.7h.9M317.2 413.7h.9M321.4 386.4h.9M316.3 395.9h.9M316.7 424.5h.9M318.0 385.1h.9M310.8 414.7h.9M317.7 389.7h.9M315.3 399.7h.9M306.8 423.9h.9M313.6 402.5h.9M313.4 400.9h.9M321.4 420.6h.9M319.3 395.4h.9M309.6 406.1h.9M321.1 385.2h.9M318.2 421.9h.9M318.5 408.4h.9M315.4 419.7h.9M319.1 388.7h.9M318.4 395.7h.9M309.1 406.4h.9M319.2 426.3h.9M310.4 414.2h.9M314.6 404.6h.9M308.9 418.6h.9M316.4 410.0h.9M313.9 403.6h.9M308.8 391.6h.9M316.6 397.1h.9M321.5 414.5h.9M306.4 396.3h.9M308.8 398.2h.9M317.6 424.4h.9M320.0 409.4h.9M307.2 392.5h.9M308.3 409.5h.9M317.3 426.3h.9M310.1 410.3h.9M311.0 425.5h.9M321.3 420.2h.9M320.7 396.9h.9M321.5 409.2h.9M312.1 391.4h.9M312.8 412.7h.9M319.1 422.1h.9M315.4 392.0h.9M310.5 392.1h.9M320.3 415.1h.9M309.7 412.0h.9M319.5 403.0h.9M317.2 414.0h.9M306.6 401.1h.9M307.2 422.0h.9M309.2 404.5h.9M319.3 413.7h.9M315.5 389.1h.9M317.2 390.6h.9M307.7 405.9h.9M309.2 415.9h.9M307.4 402.1h.9M311.3 415.5h.9M319.7 402.6h.9M308.2 395.4h.9M309.9 415.3h.9M309.9 421.4h.9M310.8 397.5h.9M309.1 413.0h.9M316.5 385.8h.9M321.7 423.8h.9M319.2 387.5h.9M316.9 410.1h.9M308.9 397.6h.9M306.3 423.0h.9M309.7 413.4h.9M316.6 394.8h.9M312.3 402.5h.9M313.0 391.9h.9M308.9 394.2h.9M317.5 396.8h.9M308.8 423.2h.9M308.7 399.6h.9M321.6 413.0h.9M315.8 417.0h.9M310.1 387.1h.9M308.5 424.7h.9M316.4 391.8h.9M320.0 402.0h.9M307.8 424.5h.9M313.1 402.5h.9M307.9 406.2h.9M308.5 410.9h.9M313.5 391.3h.9M307.9 404.9h.9M317.3 423.4h.9M312.0 406.5h.9M314.4 396.7h.9M314.0 385.2h.9M313.0 393.8h.9M307.3 400.4h.9M312.5 387.8h.9M317.0 396.4h.9M312.9 415.3h.9M309.2 408.6h.9M314.7 423.9h.9M315.2 403.6h.9M318.7 418.6h.9M307.7 388.8h.9M313.0 400.5h.9M321.3 384.4h.9M321.9 387.8h.9M314.8 386.7h.9M313.4 416.2h.9M311.9 394.4h.9M315.7 423.6h.9M319.6 391.2h.9M316.5 414.7h.9M312.9 425.4h.9M319.6 402.9h.9M302.0 413.7h.9M310.1 375.3h.9M295.9 424.5h.9M290.7 378.9h.9M293.0 419.4h.9M304.7 410.0h.9M303.5 424.4h.9M307.5 386.2h.9M317.8 400.8h.9M305.7 389.5h.9M298.5 380.8h.9M316.2 411.9h.9M300.4 411.4h.9M300.1 392.2h.9M319.3 420.6h.9M304.6 381.4h.9M309.7 374.7h.9M307.7 423.6h.9M299.8 410.6h.9M296.5 407.0h.9M320.5 389.7h.9M303.5 424.7h.9M305.1 410.8h.9M317.5 396.5h.9M319.7 384.1h.9M312.7 410.8h.9M311.9 415.8h.9M293.1 402.5h.9M296.5 384.7h.9M312.9 421.8h.9" stroke="#000" stroke-width=".9" stroke-opacity="0.42" fill="none"/>
<rect x="285.5" y="368.5" width="96.00" height="96.00" fill="none" stroke="#8c8c8c" stroke-width="0.9"/>
<line x1="285.5" y1="370.5" x2="381.5" y2="370.5" stroke="#505050" stroke-width="0.9"/>
<path d="M324.5 370.6V458.5H378.5V370.6" fill="none" stroke="#2a2a2a" stroke-width="1.0"/>
<path d="M285.5 400.5H338.66L378.5 378.0" fill="none" stroke="#2a2a2a" stroke-width="1.1"/>
<line x1="285.5" y1="427.5" x2="378.5" y2="427.5" stroke="#2a2a2a" stroke-width="1.0"/>
<line x1="282.9" y1="378.4" x2="285.5" y2="378.4" stroke="#333" stroke-width="0.8"/>
<text x="269.99" y="381.7" font-size="6.0" fill="#151515" style="stroke-width:0.2px">10</text>
<text x="277.36" y="379.3" font-size="4.2" fill="#151515" style="stroke-width:0.12px">5</text>
<line x1="282.9" y1="400.5" x2="285.5" y2="400.5" stroke="#333" stroke-width="0.8"/>
<text x="269.99" y="403.8" font-size="6.0" fill="#151515" style="stroke-width:0.2px">10</text>
<text x="277.36" y="401.4" font-size="4.2" fill="#151515" style="stroke-width:0.12px">4</text>
<line x1="282.9" y1="427.4" x2="285.5" y2="427.4" stroke="#333" stroke-width="0.8"/>
<text x="269.99" y="430.7" font-size="6.0" fill="#151515" style="stroke-width:0.2px">10</text>
<text x="277.36" y="428.3" font-size="4.2" fill="#151515" style="stroke-width:0.12px">3</text>
<line x1="282.9" y1="442.5" x2="285.5" y2="442.5" stroke="#333" stroke-width="0.8"/>
<text x="278.4" y="445.0" font-size="6.0" text-anchor="end" fill="#151515" style="stroke-width:0.2px">0</text>
<line x1="282.9" y1="458.0" x2="285.5" y2="458.0" stroke="#333" stroke-width="0.8"/>
<text x="267.59" y="461.3" font-size="5.4" fill="#151515" style="stroke-width:0.1px">-</text>
<text x="269.99" y="461.3" font-size="6.0" fill="#151515" style="stroke-width:0.2px">10</text>
<text x="277.36" y="458.9" font-size="4.2" fill="#151515" style="stroke-width:0.12px">3</text>
<line x1="284.2" y1="385.03" x2="285.5" y2="385.03" stroke="#777" stroke-width="0.5"/>
<line x1="284.2" y1="389.45" x2="285.5" y2="389.45" stroke="#777" stroke-width="0.5"/>
<line x1="284.2" y1="392.102" x2="285.5" y2="392.102" stroke="#777" stroke-width="0.5"/>
<line x1="284.2" y1="394.312" x2="285.5" y2="394.312" stroke="#777" stroke-width="0.5"/>
<line x1="284.2" y1="396.08" x2="285.5" y2="396.08" stroke="#777" stroke-width="0.5"/>
<line x1="284.2" y1="397.627" x2="285.5" y2="397.627" stroke="#777" stroke-width="0.5"/>
<line x1="284.2" y1="398.953" x2="285.5" y2="398.953" stroke="#777" stroke-width="0.5"/>
<line x1="284.2" y1="408.57" x2="285.5" y2="408.57" stroke="#777" stroke-width="0.5"/>
<line x1="284.2" y1="413.95" x2="285.5" y2="413.95" stroke="#777" stroke-width="0.5"/>
<line x1="284.2" y1="417.178" x2="285.5" y2="417.178" stroke="#777" stroke-width="0.5"/>
<line x1="284.2" y1="419.868" x2="285.5" y2="419.868" stroke="#777" stroke-width="0.5"/>
<line x1="284.2" y1="422.02" x2="285.5" y2="422.02" stroke="#777" stroke-width="0.5"/>
<line x1="284.2" y1="423.90299999999996" x2="285.5" y2="423.90299999999996" stroke="#777" stroke-width="0.5"/>
<line x1="284.2" y1="425.517" x2="285.5" y2="425.517" stroke="#777" stroke-width="0.5"/>
<line x1="284.2" y1="431.93" x2="285.5" y2="431.93" stroke="#777" stroke-width="0.5"/>
<line x1="284.2" y1="434.95" x2="285.5" y2="434.95" stroke="#777" stroke-width="0.5"/>
<line x1="284.2" y1="436.762" x2="285.5" y2="436.762" stroke="#777" stroke-width="0.5"/>
<line x1="284.2" y1="438.272" x2="285.5" y2="438.272" stroke="#777" stroke-width="0.5"/>
<line x1="284.2" y1="439.48" x2="285.5" y2="439.48" stroke="#777" stroke-width="0.5"/>
<line x1="284.2" y1="440.537" x2="285.5" y2="440.537" stroke="#777" stroke-width="0.5"/>
<line x1="284.2" y1="441.443" x2="285.5" y2="441.443" stroke="#777" stroke-width="0.5"/>
<line x1="284.2" y1="447.15" x2="285.5" y2="447.15" stroke="#777" stroke-width="0.5"/>
<line x1="284.2" y1="450.25" x2="285.5" y2="450.25" stroke="#777" stroke-width="0.5"/>
<line x1="284.2" y1="452.11" x2="285.5" y2="452.11" stroke="#777" stroke-width="0.5"/>
<line x1="284.2" y1="453.66" x2="285.5" y2="453.66" stroke="#777" stroke-width="0.5"/>
<line x1="284.2" y1="454.9" x2="285.5" y2="454.9" stroke="#777" stroke-width="0.5"/>
<line x1="284.2" y1="455.985" x2="285.5" y2="455.985" stroke="#777" stroke-width="0.5"/>
<line x1="284.2" y1="456.915" x2="285.5" y2="456.915" stroke="#777" stroke-width="0.5"/>
<line x1="291.278" y1="464.5" x2="291.278" y2="467.1" stroke="#333" stroke-width="0.8"/>
<text x="286.37" y="476.2" font-size="5.4" fill="#151515" style="stroke-width:0.1px">-</text>
<text x="288.77" y="476.2" font-size="6.0" fill="#151515" style="stroke-width:0.2px">10</text>
<text x="296.14" y="473.8" font-size="4.2" fill="#151515" style="stroke-width:0.12px">3</text>
<line x1="309.0935" y1="464.5" x2="309.0935" y2="467.1" stroke="#333" stroke-width="0.8"/>
<text x="309.0935" y="476.2" font-size="6.0" text-anchor="middle" fill="#151515" style="stroke-width:0.2px">0</text>
<line x1="319.3976" y1="464.5" x2="319.3976" y2="467.1" stroke="#333" stroke-width="0.8"/>
<text x="319.4" y="476.2" font-size="6.0" fill="#151515" style="stroke-width:0.2px">10</text>
<text x="326.77" y="473.8" font-size="4.2" fill="#151515" style="stroke-width:0.12px">3</text>
<line x1="345.9764" y1="464.5" x2="345.9764" y2="467.1" stroke="#333" stroke-width="0.8"/>
<text x="345.98" y="476.2" font-size="6.0" fill="#151515" style="stroke-width:0.2px">10</text>
<text x="353.35" y="473.8" font-size="4.2" fill="#151515" style="stroke-width:0.12px">4</text>
<line x1="367.7402" y1="464.5" x2="367.7402" y2="467.1" stroke="#333" stroke-width="0.8"/>
<text x="367.74" y="476.2" font-size="6.0" fill="#151515" style="stroke-width:0.2px">10</text>
<text x="375.11" y="473.8" font-size="4.2" fill="#151515" style="stroke-width:0.12px">5</text>
<line x1="296.62265" y1="464.5" x2="296.62265" y2="465.8" stroke="#777" stroke-width="0.5"/>
<line x1="300.18575" y1="464.5" x2="300.18575" y2="465.8" stroke="#777" stroke-width="0.5"/>
<line x1="302.32361000000003" y1="464.5" x2="302.32361000000003" y2="465.8" stroke="#777" stroke-width="0.5"/>
<line x1="304.10516" y1="464.5" x2="304.10516" y2="465.8" stroke="#777" stroke-width="0.5"/>
<line x1="305.5304" y1="464.5" x2="305.5304" y2="465.8" stroke="#777" stroke-width="0.5"/>
<line x1="306.777485" y1="464.5" x2="306.777485" y2="465.8" stroke="#777" stroke-width="0.5"/>
<line x1="307.846415" y1="464.5" x2="307.846415" y2="465.8" stroke="#777" stroke-width="0.5"/>
<line x1="312.18473" y1="464.5" x2="312.18473" y2="465.8" stroke="#777" stroke-width="0.5"/>
<line x1="314.24555" y1="464.5" x2="314.24555" y2="465.8" stroke="#777" stroke-width="0.5"/>
<line x1="315.48204200000004" y1="464.5" x2="315.48204200000004" y2="465.8" stroke="#777" stroke-width="0.5"/>
<line x1="316.512452" y1="464.5" x2="316.512452" y2="465.8" stroke="#777" stroke-width="0.5"/>
<line x1="317.33678000000003" y1="464.5" x2="317.33678000000003" y2="465.8" stroke="#777" stroke-width="0.5"/>
<line x1="318.058067" y1="464.5" x2="318.058067" y2="465.8" stroke="#777" stroke-width="0.5"/>
<line x1="318.676313" y1="464.5" x2="318.676313" y2="465.8" stroke="#777" stroke-width="0.5"/>
<line x1="327.37124" y1="464.5" x2="327.37124" y2="465.8" stroke="#777" stroke-width="0.5"/>
<line x1="332.687" y1="464.5" x2="332.687" y2="465.8" stroke="#777" stroke-width="0.5"/>
<line x1="335.876456" y1="464.5" x2="335.876456" y2="465.8" stroke="#777" stroke-width="0.5"/>
<line x1="338.534336" y1="464.5" x2="338.534336" y2="465.8" stroke="#777" stroke-width="0.5"/>
<line x1="340.66064" y1="464.5" x2="340.66064" y2="465.8" stroke="#777" stroke-width="0.5"/>
<line x1="342.521156" y1="464.5" x2="342.521156" y2="465.8" stroke="#777" stroke-width="0.5"/>
<line x1="344.115884" y1="464.5" x2="344.115884" y2="465.8" stroke="#777" stroke-width="0.5"/>
<line x1="352.50554" y1="464.5" x2="352.50554" y2="465.8" stroke="#777" stroke-width="0.5"/>
<line x1="356.8583" y1="464.5" x2="356.8583" y2="465.8" stroke="#777" stroke-width="0.5"/>
<line x1="359.469956" y1="464.5" x2="359.469956" y2="465.8" stroke="#777" stroke-width="0.5"/>
<line x1="361.646336" y1="464.5" x2="361.646336" y2="465.8" stroke="#777" stroke-width="0.5"/>
<line x1="363.38744" y1="464.5" x2="363.38744" y2="465.8" stroke="#777" stroke-width="0.5"/>
<line x1="364.910906" y1="464.5" x2="364.910906" y2="465.8" stroke="#777" stroke-width="0.5"/>
<line x1="366.21673400000003" y1="464.5" x2="366.21673400000003" y2="465.8" stroke="#777" stroke-width="0.5"/>
<rect x="283.6" y="440.5" width="1.9" height="4" fill="#111"/>
<rect x="305.45640000000003" y="464.7" width="4" height="1.8" fill="#111"/>
<text x="333.65" y="363.8" font-size="7.5" text-anchor="middle" fill="#151515">BL low EBV</text>
<text x="288" y="377.2" font-size="6.6" fill="#151515" style="stroke-width:0.22px">5.5%</text>
<text x="347.1" y="377.2" font-size="6.6" fill="#151515" style="stroke-width:0.22px">2.8%</text>
<text x="360.7" y="392.7" font-size="6.6" fill="#151515" style="stroke-width:0.22px">43.1%</text>
<text x="288" y="410.2" font-size="6.6" fill="#151515" style="stroke-width:0.22px">11.9%</text>
<text x="356.2" y="454.7" font-size="6.6" fill="#151515" style="stroke-width:0.22px">36.5%</text>
<clipPath id="c922"><rect x="410.0" y="370.5" width="94.80000000000001" height="93.5"/></clipPath><g clip-path="url(#c922)"><path d="M448 394L460 394L476 386L476 452L448 452Z" fill="#000" opacity="0.14" filter="url(#b3)"/><ellipse cx="462" cy="440" rx="12" ry="7" fill="#000" opacity="0.18" filter="url(#b3)"/><rect x="476" y="396" width="12" height="50" fill="#000" opacity="0.5" filter="url(#b2)"/><ellipse cx="482" cy="410" rx="4" ry="12" fill="#000" opacity="0.35" filter="url(#b2)"/><ellipse cx="479" cy="441" rx="9" ry="5" fill="#000" opacity="0.7" filter="url(#b2)"/><rect x="429" y="378" width="12" height="49" fill="#000" opacity="0.1" filter="url(#b2)"/><ellipse cx="434.5" cy="387" rx="3" ry="6" fill="#000" opacity="0.45" filter="url(#b1)"/><ellipse cx="434.5" cy="424.8" rx="2" ry="2" fill="#000" opacity="0.8" filter="url(#b1)"/></g>
<path d="M478.2 419.3h.9M485.0 419.0h.9M482.4 412.4h.9M480.5 408.8h.9M482.9 411.2h.9M485.9 414.9h.9M477.8 408.0h.9M483.8 413.6h.9M481.1 433.3h.9M480.1 413.5h.9M481.7 429.9h.9M485.9 422.6h.9M483.5 430.9h.9M486.1 423.9h.9M482.4 433.8h.9M485.2 426.1h.9M484.6 410.8h.9M478.9 416.0h.9M479.7 439.0h.9M480.4 410.0h.9M481.5 437.7h.9M486.9 408.7h.9M481.8 419.5h.9M482.3 443.1h.9M485.7 423.7h.9M478.5 411.7h.9M483.0 392.4h.9M478.3 424.3h.9M482.7 416.8h.9M479.4 434.4h.9M473.8 408.1h.9M479.1 416.0h.9M481.0 421.7h.9M483.2 426.7h.9M474.8 389.8h.9M474.8 426.8h.9M482.9 423.8h.9M482.3 408.3h.9M476.8 417.6h.9M484.1 402.5h.9M487.5 399.3h.9M483.4 430.8h.9M480.7 407.0h.9M484.8 424.3h.9M475.4 412.9h.9M481.5 422.5h.9M484.8 411.3h.9M484.5 434.8h.9M482.1 396.5h.9M479.0 423.9h.9M484.0 436.1h.9M480.0 403.6h.9M482.2 399.5h.9M475.1 428.6h.9M481.3 419.8h.9M481.4 413.7h.9M480.4 431.4h.9M478.4 418.9h.9M484.3 427.6h.9M485.7 415.3h.9M483.5 413.3h.9M479.6 422.3h.9M475.5 411.1h.9M482.6 434.6h.9M480.5 418.3h.9M477.7 410.9h.9M482.0 406.9h.9M476.4 396.0h.9M488.1 425.2h.9M469.6 411.0h.9M482.8 416.0h.9M486.6 417.9h.9M483.2 429.7h.9M480.8 417.9h.9M485.9 406.9h.9M477.1 407.7h.9M476.6 415.8h.9M479.9 405.9h.9M478.5 431.3h.9M480.0 407.8h.9M481.1 404.5h.9M475.2 412.8h.9M479.2 420.6h.9M484.0 424.3h.9M488.5 399.3h.9M485.7 424.2h.9M479.5 425.7h.9M484.7 414.9h.9M479.2 419.0h.9M474.2 422.0h.9M483.9 384.8h.9M480.3 429.3h.9M481.5 420.4h.9M481.3 412.1h.9M476.2 419.6h.9M482.4 425.2h.9M485.2 421.8h.9M481.9 411.8h.9M479.3 414.7h.9M475.6 407.3h.9M480.2 431.3h.9M479.3 403.8h.9M480.7 423.5h.9M480.0 409.2h.9M479.4 400.6h.9M480.9 412.0h.9M476.8 414.9h.9M475.2 427.5h.9M478.8 431.1h.9M477.4 400.3h.9M482.1 396.3h.9M484.9 420.8h.9M482.8 410.6h.9M479.5 411.8h.9M479.7 413.7h.9M482.7 412.9h.9M482.7 425.4h.9M483.5 411.3h.9M478.0 419.4h.9M483.2 430.2h.9M488.4 413.7h.9M485.2 417.3h.9M484.3 424.6h.9M480.8 401.7h.9M480.1 419.9h.9M482.0 408.2h.9M478.4 395.6h.9M477.6 400.9h.9M482.8 426.8h.9M474.6 408.9h.9M481.5 419.7h.9M484.8 426.7h.9M477.8 425.8h.9M480.6 390.4h.9M478.5 416.8h.9M487.4 417.1h.9M480.9 425.8h.9M483.9 425.9h.9M478.3 393.9h.9M481.2 407.6h.9M477.3 396.1h.9M479.1 426.4h.9M477.1 434.0h.9M476.7 407.5h.9M482.9 421.4h.9M482.8 400.9h.9M480.6 391.7h.9M481.5 437.1h.9M481.7 411.7h.9M482.5 439.0h.9M475.2 436.3h.9M483.5 406.9h.9M478.3 419.9h.9M481.0 406.6h.9M485.6 425.3h.9M477.2 418.7h.9M487.8 415.6h.9M479.4 419.0h.9M477.8 416.5h.9M485.9 436.9h.9M477.6 408.3h.9M482.5 405.9h.9M475.8 422.4h.9M483.3 401.2h.9M476.7 418.8h.9M477.4 418.2h.9M489.2 421.1h.9M476.3 432.1h.9M481.9 409.6h.9M485.6 407.8h.9M481.7 413.7h.9M481.4 429.8h.9M471.4 417.6h.9M479.8 412.4h.9M486.4 407.0h.9M474.6 418.1h.9M478.0 418.0h.9M485.8 420.6h.9M484.8 424.5h.9M478.7 395.6h.9M481.0 423.3h.9M479.4 434.8h.9M482.2 420.8h.9M481.4 406.5h.9M483.6 428.2h.9M481.2 391.0h.9M482.0 424.9h.9M485.2 430.1h.9M482.7 409.0h.9M476.5 411.1h.9M477.7 422.4h.9M479.4 401.1h.9M486.5 424.3h.9M477.8 403.9h.9M481.0 430.3h.9M471.7 385.1h.9M478.3 414.3h.9M482.2 416.8h.9M485.5 425.2h.9M484.8 424.9h.9M478.5 418.5h.9M488.4 402.9h.9M480.5 423.9h.9M485.0 406.3h.9M479.7 420.5h.9M486.4 399.3h.9M483.4 411.9h.9M480.7 425.2h.9M482.8 433.5h.9M476.5 414.2h.9M482.7 405.7h.9M478.0 414.4h.9M480.3 420.3h.9M486.2 439.9h.9M480.9 414.2h.9M478.2 396.6h.9M476.9 408.7h.9M481.8 407.3h.9M476.6 400.3h.9M478.0 436.1h.9M482.5 416.0h.9M480.3 430.8h.9M482.9 432.3h.9M482.7 409.9h.9M485.3 418.9h.9M480.2 422.0h.9M479.2 417.1h.9M485.3 409.7h.9M486.9 419.2h.9M483.4 418.1h.9M484.8 422.1h.9M485.3 397.2h.9M484.5 423.1h.9M484.1 429.5h.9M483.9 410.8h.9M479.6 417.8h.9M479.3 441.5h.9M483.6 429.6h.9M488.0 391.7h.9M484.9 427.4h.9M481.5 435.8h.9M477.1 421.8h.9M483.8 423.0h.9M478.3 415.3h.9M485.5 419.1h.9M477.3 411.1h.9M484.4 428.5h.9M484.5 433.5h.9M482.8 434.7h.9M489.5 430.0h.9M474.0 412.7h.9M485.1 410.0h.9M481.9 414.1h.9M480.1 420.0h.9M482.2 416.7h.9M480.0 420.7h.9M480.8 402.8h.9M477.4 422.6h.9M478.0 406.7h.9M487.7 414.0h.9M487.1 419.7h.9M480.4 425.9h.9M482.5 413.2h.9M475.5 418.6h.9M485.9 427.4h.9M477.7 419.9h.9M481.3 404.7h.9M487.0 428.6h.9M479.4 385.4h.9M484.1 409.7h.9M478.5 432.6h.9M482.7 433.4h.9M481.2 401.6h.9M484.7 420.1h.9M483.7 395.9h.9M481.7 443.2h.9M480.9 410.0h.9M483.4 403.9h.9M483.6 407.4h.9M473.9 418.8h.9M484.0 400.8h.9M475.5 430.8h.9M483.5 423.5h.9M480.7 404.8h.9M479.7 435.0h.9M482.9 409.3h.9M479.2 405.3h.9M480.4 404.5h.9M481.5 427.6h.9M476.6 420.8h.9M482.1 412.7h.9M485.3 414.3h.9M480.8 408.6h.9M481.6 431.2h.9M482.9 421.0h.9M483.2 403.6h.9M480.1 421.6h.9M482.2 424.6h.9M487.8 423.0h.9M479.6 420.3h.9M480.0 422.7h.9M478.2 402.5h.9M481.9 405.6h.9M485.3 409.4h.9M488.5 419.0h.9M478.6 436.5h.9M478.6 407.1h.9M478.8 432.2h.9M481.1 417.4h.9M484.3 402.2h.9M478.1 434.9h.9M481.9 410.0h.9M481.2 420.5h.9M478.8 399.9h.9M481.2 411.2h.9M483.2 414.9h.9M483.1 414.6h.9M481.2 422.5h.9M481.9 408.1h.9M475.4 423.2h.9M476.1 398.8h.9M482.2 422.5h.9M481.2 421.0h.9M483.4 423.9h.9M483.7 420.8h.9M478.5 424.9h.9M483.3 408.4h.9M476.1 407.0h.9M479.2 410.3h.9M480.2 398.5h.9M483.2 432.4h.9M475.2 400.7h.9M484.2 423.7h.9M475.6 395.2h.9M479.5 397.1h.9M480.6 407.9h.9M477.7 425.0h.9M482.9 415.6h.9M485.2 397.8h.9M481.4 414.7h.9M476.9 419.3h.9M480.9 411.8h.9M481.6 421.5h.9M481.7 410.8h.9M483.2 404.9h.9M476.3 422.1h.9M473.2 414.7h.9M485.6 405.1h.9M473.0 440.1h.9M485.9 435.6h.9M479.9 438.6h.9M480.8 444.9h.9M478.3 434.1h.9M477.8 440.2h.9M476.2 434.7h.9M471.6 436.5h.9M480.2 442.8h.9M481.7 444.2h.9M483.4 438.8h.9M479.5 443.6h.9M479.5 433.6h.9M483.1 442.0h.9M474.4 431.6h.9M470.1 439.9h.9M476.7 441.6h.9M474.8 439.6h.9M476.0 443.0h.9M478.5 438.3h.9M474.3 442.4h.9M476.4 441.2h.9M476.4 440.7h.9M474.5 433.8h.9M480.0 443.9h.9M481.8 438.2h.9M485.1 444.8h.9M480.2 437.1h.9M487.4 439.3h.9M475.4 440.8h.9M482.5 440.8h.9M485.9 438.2h.9M476.2 441.6h.9M479.1 438.3h.9M481.5 445.1h.9M481.7 442.0h.9M481.5 435.8h.9M477.5 443.4h.9M476.9 445.0h.9M470.0 443.7h.9M479.9 438.5h.9M480.3 433.5h.9M483.0 441.2h.9M466.8 442.0h.9M465.6 436.4h.9M471.7 440.4h.9M473.8 436.0h.9M477.0 445.2h.9M486.1 438.3h.9M475.4 435.3h.9M488.4 441.4h.9M472.8 438.9h.9M488.3 442.3h.9M475.2 440.7h.9M471.8 438.2h.9M468.8 442.5h.9M481.7 438.4h.9M475.0 437.8h.9M472.5 441.5h.9M469.6 444.8h.9M477.7 434.2h.9M477.1 445.7h.9M481.4 438.3h.9M485.6 444.8h.9M473.7 439.8h.9M475.2 435.0h.9M474.0 442.3h.9M475.2 436.1h.9M484.3 440.1h.9M477.9 441.2h.9M479.6 443.2h.9M468.3 442.4h.9M467.5 436.4h.9M475.9 440.2h.9M475.1 432.8h.9M469.6 441.5h.9M470.7 440.2h.9M474.2 446.2h.9M483.9 441.9h.9M487.0 441.7h.9M477.8 438.9h.9M483.9 436.2h.9M475.8 438.8h.9M480.8 443.6h.9M481.4 441.9h.9M478.4 445.2h.9M480.6 441.3h.9M476.9 442.6h.9M472.5 440.6h.9M472.0 440.8h.9M477.1 442.0h.9M482.0 437.0h.9M478.2 442.7h.9M474.3 437.5h.9M472.6 439.6h.9M478.3 434.9h.9M477.9 438.3h.9M474.2 440.7h.9M480.0 444.4h.9M477.8 438.7h.9M480.7 441.1h.9M472.8 440.9h.9M480.9 435.1h.9M475.8 439.5h.9M477.4 438.7h.9M471.6 439.8h.9M477.2 443.4h.9M483.1 438.9h.9M466.8 438.6h.9M473.2 434.9h.9M469.9 439.4h.9M473.2 448.3h.9M479.5 444.1h.9M479.1 440.3h.9M476.7 436.2h.9M464.4 437.8h.9M482.5 438.3h.9M472.0 440.3h.9M480.7 438.4h.9M486.8 449.4h.9M481.9 445.6h.9M483.8 439.1h.9M482.0 441.7h.9M468.7 443.2h.9M474.9 441.1h.9M471.3 437.9h.9M474.3 449.1h.9M476.5 442.2h.9M473.3 443.8h.9M478.3 440.2h.9M474.2 446.4h.9M483.5 438.2h.9M475.0 445.2h.9M484.6 440.9h.9M479.2 435.4h.9M471.0 441.4h.9M472.6 441.5h.9M479.2 437.8h.9M473.6 444.3h.9M482.9 437.4h.9M477.2 441.2h.9M474.2 440.7h.9M475.3 435.0h.9M486.6 441.0h.9M462.5 438.1h.9M476.1 439.9h.9M479.7 434.6h.9M487.1 441.3h.9M478.6 434.9h.9M470.8 436.0h.9M478.2 441.2h.9M477.9 437.3h.9M480.4 441.6h.9M474.0 439.1h.9M481.9 440.3h.9M475.1 440.3h.9M479.5 443.3h.9M487.0 444.0h.9M471.0 436.8h.9M473.5 442.9h.9M472.7 439.4h.9M481.0 435.2h.9M480.1 442.4h.9M484.0 446.0h.9M485.0 442.4h.9M478.8 444.8h.9M469.0 439.5h.9M475.3 440.4h.9M476.0 434.2h.9M478.0 443.2h.9M475.4 438.7h.9M475.5 443.3h.9M464.5 440.8h.9M474.6 437.3h.9M471.1 444.0h.9M479.2 434.3h.9M473.6 437.1h.9M476.5 438.7h.9M479.4 439.8h.9M480.5 444.6h.9M482.6 435.3h.9M472.6 440.3h.9M475.4 437.7h.9M479.6 441.4h.9M480.6 440.5h.9M470.9 442.2h.9M474.7 443.3h.9M488.4 444.0h.9M467.7 441.1h.9M463.4 441.1h.9M470.2 441.5h.9M479.1 444.8h.9M482.2 437.0h.9M476.1 441.8h.9M472.9 449.7h.9M466.2 438.3h.9M477.7 434.3h.9M484.3 441.6h.9M481.7 447.5h.9M479.6 434.5h.9M473.9 442.5h.9M483.7 442.7h.9M483.8 436.8h.9M471.1 437.6h.9M470.8 436.2h.9M480.6 437.2h.9M468.7 441.6h.9M481.0 439.7h.9M477.2 443.7h.9M473.6 440.9h.9M483.9 445.2h.9M470.4 439.2h.9M475.7 441.2h.9M476.0 443.7h.9M472.7 441.3h.9M482.2 443.2h.9M469.3 440.7h.9M470.6 444.8h.9M477.5 434.5h.9M469.9 438.4h.9M480.4 439.6h.9M484.1 443.6h.9M468.9 439.9h.9M479.2 445.2h.9M472.0 437.8h.9M474.1 438.3h.9M475.8 444.1h.9M479.0 438.9h.9M476.6 434.4h.9M478.1 438.4h.9M481.0 448.5h.9M473.5 435.2h.9M474.9 437.3h.9M475.1 442.5h.9M478.6 437.2h.9M484.8 446.7h.9M484.4 436.3h.9M487.6 438.6h.9M472.2 437.6h.9M475.4 437.1h.9M470.3 444.8h.9M468.2 440.6h.9M470.2 434.9h.9M477.0 443.0h.9M468.0 423.3h.9M466.7 410.3h.9M475.8 413.0h.9M456.5 426.5h.9M461.2 421.4h.9M476.3 433.5h.9M481.0 442.6h.9M475.3 450.9h.9M460.1 437.4h.9M481.5 424.4h.9M481.5 419.0h.9M468.3 418.5h.9M458.8 411.9h.9M452.0 439.3h.9M484.4 397.8h.9M470.4 407.5h.9M484.5 440.5h.9M465.0 404.0h.9M486.6 419.4h.9M453.9 416.0h.9M471.4 394.6h.9M448.7 406.0h.9M453.3 430.7h.9M474.2 438.6h.9M475.3 417.1h.9M482.5 421.1h.9M475.7 428.5h.9M459.5 399.5h.9M460.6 431.9h.9M467.6 440.4h.9M465.3 440.1h.9M451.8 412.5h.9M456.2 412.9h.9M456.4 422.7h.9M469.2 413.9h.9M467.8 422.8h.9M461.1 446.8h.9M448.2 420.2h.9M473.8 392.4h.9M480.7 412.7h.9M482.6 398.0h.9M454.4 409.1h.9M470.7 426.5h.9M478.9 397.5h.9M479.7 445.7h.9M484.5 398.3h.9M483.1 413.9h.9M463.0 443.7h.9M452.5 429.2h.9M458.5 442.0h.9M483.5 425.6h.9M467.6 437.2h.9M457.2 450.3h.9M465.0 450.5h.9M468.9 406.0h.9M473.5 421.8h.9M469.0 415.3h.9M475.4 440.3h.9M476.9 451.8h.9M458.2 398.4h.9M459.8 433.1h.9M465.3 428.3h.9M465.6 447.4h.9M460.8 416.4h.9M459.8 421.4h.9M459.5 435.5h.9M460.2 392.9h.9M462.0 440.8h.9M469.1 400.0h.9M463.5 415.1h.9M465.8 423.5h.9M459.9 429.8h.9M458.2 416.4h.9M463.3 402.4h.9M457.9 394.6h.9M469.2 424.9h.9M457.8 421.0h.9M449.7 392.3h.9M464.3 411.7h.9M472.2 414.6h.9M475.3 432.2h.9M474.0 416.3h.9M461.9 441.3h.9M459.3 403.1h.9M453.8 442.6h.9M480.0 393.5h.9M479.5 447.2h.9M451.1 426.8h.9M474.8 422.8h.9M460.0 428.1h.9M461.7 439.5h.9M478.0 426.0h.9M467.0 403.6h.9M471.8 405.1h.9M455.8 423.5h.9M459.6 427.4h.9M484.6 407.5h.9M468.7 421.9h.9M452.1 392.7h.9M452.6 400.1h.9M474.5 418.3h.9M454.7 428.2h.9M477.6 424.6h.9M477.3 405.2h.9M451.8 423.5h.9M481.2 437.1h.9M468.2 436.0h.9M483.9 430.7h.9M471.0 412.9h.9M466.8 399.9h.9M482.9 437.0h.9M464.7 402.5h.9M451.7 417.7h.9M451.3 430.6h.9M449.4 432.7h.9M454.8 441.6h.9M485.9 404.4h.9M473.2 415.9h.9M461.8 408.7h.9M448.0 395.7h.9M448.2 427.7h.9M478.5 408.8h.9M454.9 394.7h.9M469.3 406.3h.9M473.9 403.7h.9M483.6 421.3h.9M486.4 451.4h.9M478.2 414.7h.9M485.6 409.9h.9M456.2 443.1h.9M456.4 392.9h.9M477.9 445.1h.9M462.2 422.5h.9M466.5 410.4h.9M460.2 425.2h.9M483.2 427.3h.9M458.5 421.6h.9M479.7 430.3h.9M455.1 443.2h.9M486.2 433.9h.9M474.3 393.1h.9M486.6 448.2h.9M456.8 441.8h.9M461.3 420.3h.9M478.4 399.8h.9M465.0 424.1h.9M463.7 435.0h.9M451.0 427.1h.9M452.7 440.8h.9M475.0 450.0h.9M482.6 410.6h.9M464.1 395.5h.9M456.5 425.2h.9M454.8 430.4h.9M464.4 402.9h.9M468.4 428.1h.9M452.6 440.4h.9M470.3 432.9h.9M476.9 423.4h.9M475.0 399.5h.9M465.2 403.6h.9M456.6 394.4h.9M472.3 405.0h.9M461.7 396.1h.9M451.6 442.5h.9M483.6 440.7h.9M486.5 449.6h.9M467.1 414.1h.9M462.5 410.8h.9M458.6 415.4h.9M485.2 404.0h.9M465.4 422.8h.9M454.2 425.1h.9M449.1 444.6h.9M448.2 412.2h.9M461.7 424.6h.9M461.2 443.7h.9M469.4 411.3h.9M485.7 408.6h.9M458.2 405.9h.9M458.0 394.9h.9M452.0 418.4h.9M484.4 407.1h.9M477.2 421.1h.9M473.5 400.6h.9M464.8 427.8h.9M468.8 420.5h.9M460.6 435.1h.9M476.3 406.1h.9M481.6 417.8h.9M485.1 400.1h.9M448.9 422.1h.9M460.7 437.1h.9M480.3 442.5h.9M472.6 444.5h.9M478.1 443.3h.9M465.0 412.1h.9M454.1 417.6h.9M456.1 440.9h.9M463.7 409.5h.9M486.1 399.0h.9M448.2 405.5h.9M476.2 423.1h.9M460.7 402.4h.9M466.7 393.3h.9M453.3 431.3h.9M473.5 401.2h.9M448.5 437.3h.9M479.0 410.1h.9M475.3 418.7h.9M454.8 417.6h.9M470.4 451.9h.9M450.6 399.7h.9M451.1 441.0h.9M450.5 432.0h.9M453.4 393.5h.9M460.2 405.7h.9M484.4 421.0h.9M459.1 403.9h.9M476.9 410.0h.9M462.1 438.7h.9M466.6 449.6h.9M468.4 435.4h.9M470.8 414.9h.9M484.0 395.8h.9M472.1 448.5h.9M451.5 407.8h.9M456.7 424.4h.9M465.9 442.1h.9M468.6 445.5h.9M457.0 443.1h.9M457.4 413.4h.9M459.8 448.3h.9M484.1 433.0h.9M486.4 408.5h.9M455.6 402.6h.9M455.8 450.6h.9M462.1 414.8h.9M457.3 410.9h.9M476.2 442.3h.9M485.1 434.4h.9M458.5 401.6h.9M449.0 407.3h.9M473.4 443.2h.9M453.1 419.3h.9M469.2 440.9h.9M467.9 424.0h.9M454.6 398.3h.9M460.0 427.0h.9M478.1 433.4h.9M469.2 427.6h.9M459.5 425.1h.9M457.1 402.0h.9M468.6 393.8h.9M455.8 407.4h.9M460.3 439.2h.9M484.9 408.1h.9M454.7 396.8h.9M464.0 394.6h.9M453.3 441.8h.9M460.3 421.6h.9M482.6 444.7h.9M455.9 426.6h.9M452.5 416.5h.9M465.9 430.6h.9M448.2 449.3h.9M454.9 441.9h.9M457.2 419.9h.9M464.3 436.1h.9M484.7 406.5h.9M449.7 395.3h.9M453.6 392.5h.9M453.9 432.8h.9M484.0 448.6h.9M469.4 414.7h.9M458.4 447.1h.9M478.1 446.7h.9M471.8 437.0h.9M455.8 392.0h.9M460.6 411.9h.9M479.9 423.3h.9M463.2 418.5h.9M452.5 441.0h.9M465.0 405.6h.9M459.7 422.2h.9M463.1 442.3h.9M463.0 407.0h.9M474.7 423.1h.9M471.2 428.0h.9M485.9 409.0h.9M461.5 435.2h.9M469.7 445.4h.9M457.1 427.5h.9M449.3 405.3h.9M448.3 401.0h.9M465.1 396.4h.9M474.3 403.3h.9M464.5 451.1h.9M480.9 414.4h.9M454.5 394.0h.9M467.0 396.0h.9M466.6 408.8h.9M472.4 449.9h.9M471.7 407.8h.9M472.9 396.3h.9M476.9 427.0h.9M469.1 431.1h.9M475.6 402.8h.9M454.0 415.8h.9M455.3 446.1h.9M451.6 412.8h.9M485.2 407.1h.9M459.0 449.8h.9M471.9 405.1h.9M470.8 443.6h.9M474.4 421.2h.9M468.6 445.0h.9M461.4 427.4h.9M485.0 409.0h.9M456.9 451.2h.9M461.1 409.7h.9M452.9 425.3h.9M467.2 415.7h.9M483.5 442.5h.9M469.9 414.8h.9M452.2 424.0h.9M449.4 410.1h.9M474.0 444.8h.9M461.1 432.9h.9M485.4 442.6h.9M483.6 431.8h.9M486.5 408.8h.9M459.9 436.3h.9M458.5 447.9h.9M479.8 405.2h.9M485.9 399.8h.9M483.2 433.0h.9M486.2 392.0h.9M467.7 410.0h.9M450.9 415.7h.9M487.0 399.1h.9M456.7 393.0h.9M462.4 392.8h.9M453.0 417.8h.9M455.5 424.2h.9M477.6 414.0h.9M475.0 409.4h.9M466.3 400.8h.9M471.9 443.0h.9M459.2 428.4h.9M458.4 427.9h.9M484.1 394.0h.9M484.1 418.4h.9M477.2 392.9h.9M473.8 408.8h.9M469.5 420.4h.9M478.8 410.9h.9M482.0 414.1h.9M449.2 446.1h.9M479.2 430.3h.9M462.0 415.0h.9M486.7 401.3h.9M468.1 405.1h.9M450.0 437.7h.9M471.5 397.0h.9M450.0 442.5h.9M450.3 432.1h.9M478.5 448.7h.9M463.5 431.1h.9M462.5 430.4h.9M460.9 410.7h.9M461.7 395.8h.9M485.3 437.8h.9M467.6 420.5h.9M481.1 441.2h.9M456.3 394.3h.9M448.8 404.2h.9M481.6 409.7h.9M477.8 412.5h.9M473.1 419.1h.9M454.6 437.1h.9M461.9 436.4h.9M468.2 416.3h.9M471.7 432.5h.9M459.5 435.2h.9M476.7 400.1h.9M466.2 435.3h.9M478.8 405.7h.9M486.9 442.1h.9M465.0 423.7h.9M472.7 408.1h.9M465.7 395.3h.9M475.6 418.9h.9M450.1 394.6h.9M472.1 439.6h.9M465.9 421.6h.9M471.2 441.8h.9M451.6 425.3h.9M460.6 433.1h.9M452.5 411.8h.9M482.1 408.8h.9M466.3 445.2h.9M463.8 426.6h.9M479.1 437.1h.9M482.1 431.1h.9M457.7 406.0h.9M473.9 434.7h.9M449.7 438.9h.9M470.9 430.4h.9M459.0 404.1h.9M459.0 446.8h.9M464.1 425.0h.9M472.3 435.3h.9M457.3 433.2h.9M459.3 416.0h.9M486.0 399.4h.9M479.9 419.6h.9M450.8 441.6h.9M457.4 441.9h.9M468.7 446.8h.9M455.3 404.7h.9M479.6 410.3h.9M453.7 418.0h.9M454.5 434.9h.9M476.1 420.4h.9M456.6 410.7h.9M477.1 398.5h.9M454.8 447.6h.9M451.6 450.3h.9M482.3 425.1h.9M480.6 428.1h.9M461.0 400.6h.9M471.7 427.2h.9M484.6 411.2h.9M481.6 445.9h.9M475.6 407.3h.9M481.0 392.9h.9M448.0 449.5h.9M469.9 440.8h.9M459.2 425.4h.9M468.5 394.4h.9M467.5 402.1h.9M486.5 407.1h.9M475.9 404.8h.9M474.7 441.3h.9M469.9 443.1h.9M453.3 421.9h.9M473.6 408.7h.9M451.8 395.4h.9M486.1 424.7h.9M449.0 403.0h.9M472.3 430.3h.9M476.5 398.4h.9M453.7 416.2h.9M484.7 414.6h.9M472.9 443.8h.9M467.9 450.6h.9M481.3 448.3h.9M466.0 444.3h.9M478.1 437.2h.9M449.3 413.3h.9M478.0 420.3h.9M452.0 440.5h.9M485.0 392.4h.9M452.4 397.1h.9M476.3 423.6h.9M472.2 452.0h.9M456.1 395.1h.9M483.8 412.3h.9M454.5 427.8h.9M461.5 405.5h.9M479.8 450.6h.9M456.0 430.5h.9M459.5 410.7h.9M452.4 418.8h.9M456.5 410.9h.9M463.8 403.6h.9M462.8 398.7h.9M459.3 423.1h.9M467.2 422.7h.9M464.4 411.7h.9M463.6 399.6h.9M464.8 419.0h.9M479.1 412.2h.9M461.1 411.2h.9M469.5 420.6h.9M452.3 437.3h.9M464.4 432.7h.9M486.2 421.9h.9M479.1 429.7h.9M482.8 414.1h.9M478.5 451.3h.9M472.8 414.4h.9M471.4 425.4h.9M473.9 436.9h.9M478.6 415.8h.9M450.3 401.1h.9M479.4 429.1h.9M482.1 400.5h.9M467.4 450.5h.9M473.7 443.9h.9M482.2 436.2h.9M481.5 415.0h.9M461.1 441.7h.9M479.6 410.8h.9M483.5 433.9h.9M471.3 437.9h.9M460.7 417.4h.9M474.3 418.3h.9M484.8 393.6h.9M482.0 420.9h.9M467.5 435.5h.9M477.5 444.7h.9M465.8 417.2h.9M479.3 431.8h.9M461.2 399.1h.9M452.8 425.7h.9M448.2 400.2h.9M462.3 409.2h.9M473.7 444.3h.9M454.4 426.5h.9M479.0 407.5h.9M464.6 394.0h.9M460.1 450.6h.9M466.3 446.3h.9M480.2 413.2h.9M477.8 440.0h.9M480.4 418.9h.9M456.3 419.3h.9M454.4 428.7h.9M462.9 419.8h.9M454.3 440.9h.9M471.9 419.1h.9M471.6 415.5h.9M481.4 423.8h.9M483.2 431.9h.9M470.9 439.5h.9M452.8 418.9h.9M472.6 431.0h.9M461.5 437.8h.9M476.1 434.8h.9M457.1 398.4h.9M478.2 412.2h.9M475.6 418.4h.9M449.3 408.8h.9M469.2 434.8h.9M482.5 405.9h.9M463.1 423.1h.9M467.4 427.7h.9M479.2 414.0h.9M475.7 427.1h.9M480.3 413.8h.9M486.2 429.9h.9M460.2 449.0h.9M479.3 431.1h.9M474.3 422.6h.9M466.7 425.7h.9M458.2 394.1h.9M450.9 412.1h.9M465.4 421.8h.9M451.7 396.7h.9M458.3 432.0h.9M472.3 450.8h.9M462.4 403.8h.9M475.5 435.5h.9M453.9 425.9h.9M459.1 418.3h.9M469.9 410.7h.9M458.3 434.8h.9M478.1 415.2h.9M481.6 404.3h.9M478.9 421.7h.9M459.4 405.4h.9M463.6 409.1h.9M473.2 395.7h.9M486.4 445.6h.9M468.4 440.2h.9M473.7 418.1h.9M450.8 408.2h.9M473.7 427.4h.9M472.1 403.0h.9M473.4 401.8h.9M461.2 420.9h.9M457.0 418.6h.9M479.2 436.8h.9M475.3 397.4h.9M454.6 399.1h.9M455.6 436.5h.9M474.7 444.1h.9M461.0 411.8h.9M449.0 422.4h.9M486.0 444.1h.9M473.4 432.3h.9M456.9 449.7h.9M475.2 437.3h.9M451.2 398.8h.9M467.9 431.3h.9M476.4 411.3h.9M458.8 450.4h.9M484.0 434.7h.9M468.7 379.9h.9M471.8 389.6h.9M459.3 376.2h.9M464.6 384.1h.9M475.0 380.6h.9M467.5 379.6h.9M450.1 379.9h.9M452.0 389.4h.9M470.1 376.3h.9M451.8 377.3h.9M460.1 382.5h.9M464.0 384.0h.9M460.5 375.3h.9M475.9 388.6h.9M466.2 375.9h.9M475.9 381.5h.9M451.5 379.3h.9M459.7 378.9h.9M466.7 383.8h.9M473.4 384.7h.9M466.8 372.2h.9M474.8 388.2h.9M460.6 376.0h.9M474.9 384.4h.9M455.6 381.2h.9M449.8 388.2h.9M465.1 388.9h.9M466.3 377.4h.9M458.5 390.9h.9M470.5 386.6h.9M448.5 379.9h.9M468.3 391.7h.9M463.2 375.4h.9M453.4 379.8h.9M456.5 388.7h.9M448.0 383.2h.9M453.5 374.7h.9M465.2 381.1h.9M469.1 379.4h.9M450.5 376.0h.9M466.4 377.4h.9M453.1 374.5h.9M464.8 391.1h.9M473.6 388.1h.9M469.2 380.8h.9M462.0 381.4h.9M450.7 381.0h.9M459.6 376.0h.9M474.0 373.7h.9M475.0 387.7h.9M451.7 381.4h.9M474.4 373.1h.9M454.3 384.0h.9M465.4 384.7h.9M468.3 381.0h.9M475.6 390.7h.9M473.6 384.0h.9M457.5 376.6h.9M463.2 372.3h.9M462.4 384.6h.9M474.3 373.8h.9M468.0 382.7h.9M471.7 377.3h.9M469.7 374.4h.9M473.9 387.7h.9M450.9 389.3h.9M449.4 381.3h.9M460.0 382.5h.9M471.8 381.1h.9M460.4 388.2h.9M474.1 385.7h.9M463.0 388.8h.9M452.2 373.6h.9M471.9 372.2h.9M462.1 376.9h.9M474.2 381.9h.9M465.1 384.9h.9M471.7 373.0h.9M467.4 374.3h.9M461.8 381.0h.9M458.0 388.0h.9M465.4 385.6h.9M466.2 378.6h.9M463.8 379.4h.9M451.1 384.7h.9M462.4 389.9h.9M475.0 384.4h.9M468.6 391.3h.9M467.5 374.2h.9M449.3 373.8h.9M463.8 372.3h.9M448.6 387.0h.9M450.4 380.2h.9M459.7 389.2h.9M470.0 383.6h.9M451.6 383.1h.9M460.0 385.8h.9M471.0 373.3h.9M461.8 378.1h.9M455.5 385.5h.9M465.0 445.9h.9M457.9 437.1h.9M458.8 434.2h.9M473.2 443.1h.9M455.0 442.5h.9M469.5 437.6h.9M464.5 444.5h.9M466.7 439.8h.9M464.6 445.9h.9M470.6 439.4h.9M463.5 439.3h.9M457.8 434.1h.9M464.6 443.9h.9M462.7 436.6h.9M462.5 446.9h.9M466.6 443.3h.9M473.4 436.3h.9M465.7 445.5h.9M472.0 442.9h.9M455.6 432.0h.9M463.2 439.3h.9M474.9 436.4h.9M459.2 441.1h.9M463.8 445.5h.9M450.7 446.4h.9M470.4 439.1h.9M466.9 428.5h.9M456.2 447.0h.9M456.9 436.2h.9M471.2 444.8h.9M457.0 438.0h.9M469.2 439.2h.9M473.2 438.9h.9M464.7 443.2h.9M473.1 441.8h.9M470.5 434.6h.9M459.9 439.7h.9M462.1 449.1h.9M466.4 448.6h.9M475.0 438.3h.9M448.1 436.2h.9M454.4 440.1h.9M455.8 450.9h.9M458.4 439.2h.9M474.7 443.7h.9M472.7 437.6h.9M461.5 440.6h.9M450.1 436.0h.9M460.1 442.5h.9M468.9 449.9h.9M464.1 444.3h.9M484.0 441.0h.9M459.0 444.0h.9M461.2 440.4h.9M468.1 436.2h.9M469.7 451.2h.9M466.6 440.3h.9M449.2 447.4h.9M456.4 433.2h.9M467.7 444.7h.9M460.1 439.3h.9M486.1 441.2h.9M472.2 438.3h.9M463.1 439.4h.9M465.3 447.3h.9M463.6 439.1h.9M456.2 439.9h.9M458.9 439.8h.9M447.9 440.0h.9M460.9 434.9h.9M446.1 433.4h.9M450.1 438.7h.9M464.5 446.5h.9M463.7 439.3h.9M453.3 439.0h.9M476.4 443.0h.9M471.7 437.8h.9M467.1 444.4h.9M480.3 441.3h.9M459.8 440.7h.9M453.9 441.3h.9M460.1 438.0h.9M469.3 444.1h.9M474.5 428.8h.9M474.5 433.6h.9M446.2 442.7h.9M455.8 430.8h.9M469.4 440.7h.9M443.3 440.7h.9M466.1 430.5h.9M466.3 437.3h.9M471.2 447.8h.9M464.4 443.9h.9M464.4 443.9h.9M457.5 438.5h.9M479.1 442.9h.9M459.5 438.1h.9M463.0 439.1h.9M464.4 448.0h.9M455.1 448.5h.9M447.4 444.1h.9M460.4 437.4h.9M463.6 436.7h.9M464.5 437.7h.9M450.5 440.1h.9M456.5 444.8h.9M458.7 446.0h.9M467.7 444.6h.9M460.5 440.1h.9M470.7 446.4h.9M459.2 451.8h.9M453.3 431.9h.9M462.4 445.4h.9M457.9 441.0h.9M467.2 443.3h.9M459.1 440.6h.9M461.8 442.4h.9M476.3 437.6h.9M468.1 439.1h.9M452.2 440.5h.9M473.3 447.6h.9M469.1 439.4h.9M462.5 442.2h.9M468.5 438.3h.9M457.2 435.5h.9M470.6 441.4h.9M465.4 439.8h.9M460.0 429.4h.9M463.4 439.4h.9M462.3 439.8h.9M468.1 437.4h.9M457.8 439.3h.9M460.4 437.1h.9M462.1 446.9h.9M475.9 441.0h.9M450.7 437.9h.9M466.7 438.7h.9M455.6 442.4h.9M461.5 425.6h.9M463.3 453.2h.9M463.4 448.3h.9M469.2 439.4h.9M469.7 440.8h.9M448.2 439.1h.9M465.8 441.2h.9M450.1 437.2h.9M453.6 449.4h.9M463.7 438.9h.9M471.5 445.9h.9M460.1 444.7h.9M463.6 439.6h.9M467.9 439.1h.9M458.4 436.9h.9M451.2 440.2h.9M473.3 438.3h.9M473.5 439.3h.9M460.4 441.6h.9M467.7 446.3h.9M458.2 439.9h.9M466.5 442.5h.9M457.4 432.5h.9M479.6 443.6h.9M454.2 447.6h.9M465.2 429.8h.9M467.1 440.9h.9M452.6 439.9h.9M471.7 427.9h.9M457.2 452.9h.9M470.0 438.2h.9M464.9 452.0h.9M454.0 440.6h.9M455.7 447.1h.9M462.0 439.2h.9M465.0 443.5h.9M465.2 441.4h.9M465.6 435.4h.9M478.9 435.5h.9M462.1 431.5h.9M442.4 432.4h.9M457.7 441.8h.9M453.6 433.7h.9M462.9 445.8h.9M450.8 433.2h.9M460.7 443.0h.9M457.6 431.4h.9M456.8 437.7h.9M467.8 439.2h.9M465.5 436.9h.9M465.5 436.9h.9M464.8 445.8h.9M445.6 438.9h.9M464.4 448.0h.9M471.0 434.5h.9M470.8 446.2h.9M456.1 442.1h.9M452.6 445.9h.9M469.6 432.4h.9M461.6 434.7h.9M465.5 445.8h.9M462.5 439.9h.9M439.0 407.8h.9M434.2 408.6h.9M441.9 401.8h.9M429.4 388.6h.9M439.2 401.4h.9M432.2 395.9h.9M433.5 402.7h.9M435.1 412.0h.9M431.2 409.0h.9M437.0 426.6h.9M431.8 412.0h.9M436.8 420.9h.9M433.7 412.0h.9M425.2 393.7h.9M434.1 401.6h.9M433.4 398.0h.9M436.0 415.8h.9M433.1 388.3h.9M436.0 406.1h.9M428.5 410.6h.9M435.5 417.1h.9M433.8 399.2h.9M437.9 418.2h.9M434.1 420.0h.9M427.4 394.1h.9M441.1 424.2h.9M437.8 413.2h.9M431.8 402.6h.9M435.9 403.7h.9M429.5 421.4h.9M431.8 413.3h.9M433.4 405.4h.9M434.8 422.7h.9M425.2 389.0h.9M433.3 403.5h.9M435.9 405.9h.9M436.8 407.6h.9M434.3 397.7h.9M433.3 417.0h.9M433.9 398.2h.9M432.8 414.8h.9M430.8 415.0h.9M434.2 386.4h.9M437.9 403.6h.9M431.5 385.0h.9M438.6 431.3h.9M439.9 377.6h.9M431.9 408.0h.9M431.4 387.8h.9M436.7 370.9h.9M436.2 396.4h.9M438.7 434.7h.9M433.5 407.7h.9M439.5 415.6h.9M432.1 398.3h.9M435.5 421.2h.9M435.7 396.5h.9M434.2 416.5h.9M428.9 397.9h.9M435.0 392.9h.9M437.0 399.9h.9M435.2 429.1h.9M435.8 402.6h.9M440.8 402.1h.9M434.0 418.5h.9M437.6 406.5h.9M431.3 380.9h.9M433.3 423.7h.9M429.5 428.9h.9M438.9 406.2h.9M432.6 414.3h.9M430.9 388.2h.9M436.5 404.2h.9M430.3 376.6h.9M431.7 417.9h.9M433.9 396.1h.9M434.9 408.0h.9M437.5 397.9h.9M431.7 389.0h.9M433.7 425.9h.9M435.2 414.5h.9M432.4 407.2h.9M432.8 407.1h.9M440.7 396.3h.9M435.9 391.8h.9M435.7 409.7h.9M440.4 393.2h.9M436.3 419.6h.9M438.7 392.9h.9M433.2 391.6h.9M438.3 390.6h.9M437.0 414.9h.9M429.7 417.6h.9M437.8 410.9h.9M440.5 415.2h.9M432.9 407.3h.9M434.4 392.8h.9M439.1 391.6h.9M429.2 399.7h.9M434.9 393.5h.9M431.0 421.8h.9M433.2 394.4h.9M435.4 411.2h.9M438.1 401.6h.9M431.0 391.4h.9M434.1 409.6h.9M429.8 393.8h.9M434.7 416.0h.9M439.1 398.0h.9M432.7 394.9h.9M434.2 424.1h.9M437.0 409.5h.9M439.7 416.2h.9M438.7 403.7h.9M436.1 406.4h.9M425.0 398.1h.9M432.8 393.0h.9M436.9 424.7h.9M433.2 391.9h.9M433.0 395.0h.9M435.2 415.5h.9M440.0 413.1h.9M438.7 388.0h.9M434.8 384.4h.9M430.5 394.3h.9M430.5 401.1h.9M437.6 414.2h.9M438.7 407.8h.9M431.9 379.6h.9M433.3 410.2h.9M428.1 397.6h.9M430.2 406.9h.9M435.0 396.2h.9M434.4 412.8h.9M439.2 398.6h.9M434.0 412.2h.9M429.4 395.0h.9M433.0 416.8h.9M431.3 378.2h.9M433.3 410.5h.9M436.1 388.0h.9M432.7 425.6h.9M435.9 378.7h.9M429.6 400.3h.9M437.6 410.1h.9M431.0 390.5h.9M437.2 404.4h.9M435.5 422.0h.9M429.8 407.6h.9M430.1 399.9h.9M432.7 406.4h.9M432.1 426.5h.9M431.0 392.5h.9M432.2 435.0h.9M429.8 396.6h.9M429.9 401.9h.9M432.4 408.2h.9M437.0 403.4h.9M433.2 393.6h.9M438.6 422.8h.9M434.8 388.8h.9M431.4 402.1h.9M435.3 401.0h.9M429.1 401.8h.9M429.8 400.4h.9M428.4 422.3h.9M438.8 396.5h.9M437.7 400.2h.9M433.6 402.8h.9M437.0 402.6h.9M430.9 388.1h.9M434.2 396.4h.9M438.2 402.1h.9M439.8 412.0h.9M437.7 431.3h.9M432.9 392.2h.9M430.2 408.9h.9M429.8 411.8h.9M428.3 418.3h.9M436.7 411.8h.9M436.1 409.1h.9M438.1 401.3h.9M433.5 417.6h.9M441.7 391.8h.9M439.0 395.9h.9M430.2 381.1h.9M436.0 393.4h.9M437.0 410.1h.9M432.7 396.6h.9M432.4 399.5h.9M429.2 396.3h.9M433.7 405.5h.9M433.5 403.4h.9M431.7 395.1h.9M435.0 379.9h.9M429.2 406.0h.9M440.5 411.3h.9M429.9 402.3h.9M434.3 379.2h.9M433.1 429.0h.9M441.4 421.8h.9M437.8 402.7h.9M438.8 405.9h.9M432.0 401.8h.9M439.7 404.9h.9M429.3 402.2h.9M428.3 416.2h.9M436.5 398.7h.9M437.7 409.8h.9M431.2 387.8h.9M438.2 405.2h.9M440.3 408.1h.9M432.6 391.5h.9M432.0 406.4h.9M436.1 396.4h.9M433.9 405.1h.9M432.7 409.5h.9M440.4 399.6h.9M432.7 408.4h.9M435.3 380.2h.9M433.7 391.4h.9M432.4 383.0h.9M429.7 393.5h.9M433.3 381.3h.9M433.7 384.5h.9M434.7 384.5h.9M438.2 384.0h.9M433.9 382.6h.9M431.9 385.3h.9M431.0 387.9h.9M434.1 378.9h.9M432.7 378.7h.9M434.7 389.7h.9M436.3 386.4h.9M433.0 383.7h.9M437.9 391.3h.9M433.3 390.7h.9M435.2 391.9h.9M435.6 381.9h.9M436.2 384.9h.9M439.5 395.6h.9M433.8 388.4h.9M437.6 387.1h.9M432.6 388.6h.9M436.8 383.4h.9M437.4 375.6h.9M435.6 384.8h.9M433.1 385.1h.9M432.6 390.1h.9M439.2 391.0h.9M436.3 390.7h.9M433.0 382.9h.9M435.0 375.4h.9M434.7 387.2h.9M435.0 388.4h.9M435.4 381.8h.9M432.8 388.3h.9M438.1 387.0h.9M434.9 383.7h.9M434.7 386.0h.9M431.8 386.4h.9M433.8 380.9h.9M433.3 382.2h.9M434.5 379.9h.9M433.4 383.8h.9M435.4 389.0h.9M434.5 385.0h.9M433.7 380.1h.9M436.0 385.7h.9M436.1 386.5h.9M441.3 389.5h.9M432.7 389.4h.9M436.7 385.5h.9M435.3 373.9h.9M435.8 384.1h.9M429.6 392.8h.9M429.3 380.3h.9M434.1 386.3h.9M439.0 383.3h.9M436.1 384.9h.9M433.7 391.6h.9M434.7 386.1h.9M435.8 389.1h.9M431.3 388.6h.9M436.5 383.0h.9M431.9 388.4h.9M433.3 382.8h.9M434.8 387.7h.9M433.2 388.2h.9M439.7 386.6h.9M435.2 383.9h.9M433.2 382.0h.9M435.9 388.2h.9M436.4 386.0h.9M432.4 389.7h.9M436.5 392.4h.9M434.9 383.0h.9M431.0 393.8h.9M433.2 384.3h.9M436.2 390.6h.9M431.6 386.0h.9M434.7 389.2h.9M436.3 382.6h.9M435.1 387.9h.9M428.5 395.0h.9M437.6 381.0h.9M433.5 386.6h.9M436.4 385.0h.9M434.5 385.4h.9M431.6 389.0h.9M433.7 387.0h.9M430.1 388.2h.9M433.5 384.5h.9M438.1 385.6h.9M433.0 396.7h.9M437.4 380.1h.9M432.2 380.9h.9M434.1 387.5h.9M436.3 386.1h.9M435.1 381.1h.9M438.3 393.7h.9M443.0 378.4h.9M413.3 407.0h.9M426.1 413.1h.9M436.7 373.3h.9M434.6 373.9h.9M441.2 372.4h.9M417.1 387.6h.9M444.0 409.8h.9M429.7 419.0h.9M414.9 414.6h.9M413.3 396.4h.9M414.3 377.1h.9M438.1 372.8h.9M420.6 424.5h.9M422.3 411.2h.9M431.8 374.9h.9M417.7 374.4h.9M412.2 385.8h.9M429.1 381.2h.9M440.1 396.0h.9M422.4 404.9h.9M417.2 380.4h.9M418.0 410.3h.9M425.8 376.7h.9M439.4 395.6h.9M418.0 373.3h.9M433.7 383.1h.9M432.5 410.8h.9M423.3 417.8h.9M442.9 389.3h.9M420.8 398.5h.9M440.1 408.5h.9M427.0 407.4h.9M438.1 407.5h.9M440.8 408.6h.9M413.3 406.2h.9M420.7 415.7h.9M436.3 385.9h.9M413.3 405.0h.9M421.8 386.0h.9M434.2 394.4h.9M428.0 411.1h.9M441.8 412.9h.9M425.6 410.9h.9M416.8 418.5h.9M432.8 406.7h.9M442.7 377.6h.9M427.5 386.7h.9M427.3 401.1h.9" stroke="#000" stroke-width=".9" stroke-opacity="0.42" fill="none"/>
<rect x="409.5" y="368.5" width="96.00" height="96.00" fill="none" stroke="#8c8c8c" stroke-width="0.9"/>
<line x1="409.5" y1="370.5" x2="505.5" y2="370.5" stroke="#505050" stroke-width="0.9"/>
<path d="M447.5 370.6V458.5H501.5V370.6" fill="none" stroke="#2a2a2a" stroke-width="1.0"/>
<path d="M409.5 400.5H462.38L501.5 378.0" fill="none" stroke="#2a2a2a" stroke-width="1.1"/>
<line x1="409.5" y1="427.5" x2="501.5" y2="427.5" stroke="#2a2a2a" stroke-width="1.0"/>
<line x1="406.9" y1="378.4" x2="409.5" y2="378.4" stroke="#333" stroke-width="0.8"/>
<text x="393.99" y="381.7" font-size="6.0" fill="#151515" style="stroke-width:0.2px">10</text>
<text x="401.36" y="379.3" font-size="4.2" fill="#151515" style="stroke-width:0.12px">5</text>
<line x1="406.9" y1="400.5" x2="409.5" y2="400.5" stroke="#333" stroke-width="0.8"/>
<text x="393.99" y="403.8" font-size="6.0" fill="#151515" style="stroke-width:0.2px">10</text>
<text x="401.36" y="401.4" font-size="4.2" fill="#151515" style="stroke-width:0.12px">4</text>
<line x1="406.9" y1="427.4" x2="409.5" y2="427.4" stroke="#333" stroke-width="0.8"/>
<text x="393.99" y="430.7" font-size="6.0" fill="#151515" style="stroke-width:0.2px">10</text>
<text x="401.36" y="428.3" font-size="4.2" fill="#151515" style="stroke-width:0.12px">3</text>
<line x1="406.9" y1="442.5" x2="409.5" y2="442.5" stroke="#333" stroke-width="0.8"/>
<text x="402.4" y="445.0" font-size="6.0" text-anchor="end" fill="#151515" style="stroke-width:0.2px">0</text>
<line x1="406.9" y1="458.0" x2="409.5" y2="458.0" stroke="#333" stroke-width="0.8"/>
<text x="391.59" y="461.3" font-size="5.4" fill="#151515" style="stroke-width:0.1px">-</text>
<text x="393.99" y="461.3" font-size="6.0" fill="#151515" style="stroke-width:0.2px">10</text>
<text x="401.36" y="458.9" font-size="4.2" fill="#151515" style="stroke-width:0.12px">3</text>
<line x1="408.2" y1="385.03" x2="409.5" y2="385.03" stroke="#777" stroke-width="0.5"/>
<line x1="408.2" y1="389.45" x2="409.5" y2="389.45" stroke="#777" stroke-width="0.5"/>
<line x1="408.2" y1="392.102" x2="409.5" y2="392.102" stroke="#777" stroke-width="0.5"/>
<line x1="408.2" y1="394.312" x2="409.5" y2="394.312" stroke="#777" stroke-width="0.5"/>
<line x1="408.2" y1="396.08" x2="409.5" y2="396.08" stroke="#777" stroke-width="0.5"/>
<line x1="408.2" y1="397.627" x2="409.5" y2="397.627" stroke="#777" stroke-width="0.5"/>
<line x1="408.2" y1="398.953" x2="409.5" y2="398.953" stroke="#777" stroke-width="0.5"/>
<line x1="408.2" y1="408.57" x2="409.5" y2="408.57" stroke="#777" stroke-width="0.5"/>
<line x1="408.2" y1="413.95" x2="409.5" y2="413.95" stroke="#777" stroke-width="0.5"/>
<line x1="408.2" y1="417.178" x2="409.5" y2="417.178" stroke="#777" stroke-width="0.5"/>
<line x1="408.2" y1="419.868" x2="409.5" y2="419.868" stroke="#777" stroke-width="0.5"/>
<line x1="408.2" y1="422.02" x2="409.5" y2="422.02" stroke="#777" stroke-width="0.5"/>
<line x1="408.2" y1="423.90299999999996" x2="409.5" y2="423.90299999999996" stroke="#777" stroke-width="0.5"/>
<line x1="408.2" y1="425.517" x2="409.5" y2="425.517" stroke="#777" stroke-width="0.5"/>
<line x1="408.2" y1="431.93" x2="409.5" y2="431.93" stroke="#777" stroke-width="0.5"/>
<line x1="408.2" y1="434.95" x2="409.5" y2="434.95" stroke="#777" stroke-width="0.5"/>
<line x1="408.2" y1="436.762" x2="409.5" y2="436.762" stroke="#777" stroke-width="0.5"/>
<line x1="408.2" y1="438.272" x2="409.5" y2="438.272" stroke="#777" stroke-width="0.5"/>
<line x1="408.2" y1="439.48" x2="409.5" y2="439.48" stroke="#777" stroke-width="0.5"/>
<line x1="408.2" y1="440.537" x2="409.5" y2="440.537" stroke="#777" stroke-width="0.5"/>
<line x1="408.2" y1="441.443" x2="409.5" y2="441.443" stroke="#777" stroke-width="0.5"/>
<line x1="408.2" y1="447.15" x2="409.5" y2="447.15" stroke="#777" stroke-width="0.5"/>
<line x1="408.2" y1="450.25" x2="409.5" y2="450.25" stroke="#777" stroke-width="0.5"/>
<line x1="408.2" y1="452.11" x2="409.5" y2="452.11" stroke="#777" stroke-width="0.5"/>
<line x1="408.2" y1="453.66" x2="409.5" y2="453.66" stroke="#777" stroke-width="0.5"/>
<line x1="408.2" y1="454.9" x2="409.5" y2="454.9" stroke="#777" stroke-width="0.5"/>
<line x1="408.2" y1="455.985" x2="409.5" y2="455.985" stroke="#777" stroke-width="0.5"/>
<line x1="408.2" y1="456.915" x2="409.5" y2="456.915" stroke="#777" stroke-width="0.5"/>
<line x1="415.248" y1="464.5" x2="415.248" y2="467.1" stroke="#333" stroke-width="0.8"/>
<text x="410.36" y="476.2" font-size="5.4" fill="#151515" style="stroke-width:0.1px">-</text>
<text x="412.76" y="476.2" font-size="6.0" fill="#151515" style="stroke-width:0.2px">10</text>
<text x="420.13" y="473.8" font-size="4.2" fill="#151515" style="stroke-width:0.12px">3</text>
<line x1="432.971" y1="464.5" x2="432.971" y2="467.1" stroke="#333" stroke-width="0.8"/>
<text x="432.971" y="476.2" font-size="6.0" text-anchor="middle" fill="#151515" style="stroke-width:0.2px">0</text>
<line x1="443.2216" y1="464.5" x2="443.2216" y2="467.1" stroke="#333" stroke-width="0.8"/>
<text x="443.22" y="476.2" font-size="6.0" fill="#151515" style="stroke-width:0.2px">10</text>
<text x="450.59" y="473.8" font-size="4.2" fill="#151515" style="stroke-width:0.12px">3</text>
<line x1="469.6624" y1="464.5" x2="469.6624" y2="467.1" stroke="#333" stroke-width="0.8"/>
<text x="469.66" y="476.2" font-size="6.0" fill="#151515" style="stroke-width:0.2px">10</text>
<text x="477.03" y="473.8" font-size="4.2" fill="#151515" style="stroke-width:0.12px">4</text>
<line x1="491.3132" y1="464.5" x2="491.3132" y2="467.1" stroke="#333" stroke-width="0.8"/>
<text x="491.31" y="476.2" font-size="6.0" fill="#151515" style="stroke-width:0.2px">10</text>
<text x="498.69" y="473.8" font-size="4.2" fill="#151515" style="stroke-width:0.12px">5</text>
<line x1="420.56489999999997" y1="464.5" x2="420.56489999999997" y2="465.8" stroke="#777" stroke-width="0.5"/>
<line x1="424.1095" y1="464.5" x2="424.1095" y2="465.8" stroke="#777" stroke-width="0.5"/>
<line x1="426.23626" y1="464.5" x2="426.23626" y2="465.8" stroke="#777" stroke-width="0.5"/>
<line x1="428.00856" y1="464.5" x2="428.00856" y2="465.8" stroke="#777" stroke-width="0.5"/>
<line x1="429.4264" y1="464.5" x2="429.4264" y2="465.8" stroke="#777" stroke-width="0.5"/>
<line x1="430.66701" y1="464.5" x2="430.66701" y2="465.8" stroke="#777" stroke-width="0.5"/>
<line x1="431.73039" y1="464.5" x2="431.73039" y2="465.8" stroke="#777" stroke-width="0.5"/>
<line x1="436.04618" y1="464.5" x2="436.04618" y2="465.8" stroke="#777" stroke-width="0.5"/>
<line x1="438.09630000000004" y1="464.5" x2="438.09630000000004" y2="465.8" stroke="#777" stroke-width="0.5"/>
<line x1="439.326372" y1="464.5" x2="439.326372" y2="465.8" stroke="#777" stroke-width="0.5"/>
<line x1="440.35143200000005" y1="464.5" x2="440.35143200000005" y2="465.8" stroke="#777" stroke-width="0.5"/>
<line x1="441.17148000000003" y1="464.5" x2="441.17148000000003" y2="465.8" stroke="#777" stroke-width="0.5"/>
<line x1="441.889022" y1="464.5" x2="441.889022" y2="465.8" stroke="#777" stroke-width="0.5"/>
<line x1="442.50405800000004" y1="464.5" x2="442.50405800000004" y2="465.8" stroke="#777" stroke-width="0.5"/>
<line x1="451.15384" y1="464.5" x2="451.15384" y2="465.8" stroke="#777" stroke-width="0.5"/>
<line x1="456.442" y1="464.5" x2="456.442" y2="465.8" stroke="#777" stroke-width="0.5"/>
<line x1="459.614896" y1="464.5" x2="459.614896" y2="465.8" stroke="#777" stroke-width="0.5"/>
<line x1="462.258976" y1="464.5" x2="462.258976" y2="465.8" stroke="#777" stroke-width="0.5"/>
<line x1="464.37424" y1="464.5" x2="464.37424" y2="465.8" stroke="#777" stroke-width="0.5"/>
<line x1="466.225096" y1="464.5" x2="466.225096" y2="465.8" stroke="#777" stroke-width="0.5"/>
<line x1="467.81154399999997" y1="464.5" x2="467.81154399999997" y2="465.8" stroke="#777" stroke-width="0.5"/>
<line x1="476.15764" y1="464.5" x2="476.15764" y2="465.8" stroke="#777" stroke-width="0.5"/>
<line x1="480.4878" y1="464.5" x2="480.4878" y2="465.8" stroke="#777" stroke-width="0.5"/>
<line x1="483.085896" y1="464.5" x2="483.085896" y2="465.8" stroke="#777" stroke-width="0.5"/>
<line x1="485.250976" y1="464.5" x2="485.250976" y2="465.8" stroke="#777" stroke-width="0.5"/>
<line x1="486.98304" y1="464.5" x2="486.98304" y2="465.8" stroke="#777" stroke-width="0.5"/>
<line x1="488.498596" y1="464.5" x2="488.498596" y2="465.8" stroke="#777" stroke-width="0.5"/>
<line x1="489.797644" y1="464.5" x2="489.797644" y2="465.8" stroke="#777" stroke-width="0.5"/>
<rect x="407.6" y="440.5" width="1.9" height="4" fill="#111"/>
<rect x="429.3424" y="464.7" width="4" height="1.8" fill="#111"/>
<text x="457.4" y="363.8" font-size="7.5" text-anchor="middle" fill="#151515">BL high EBV</text>
<text x="412" y="377.2" font-size="6.6" fill="#151515" style="stroke-width:0.22px">8.4%</text>
<text x="471.2" y="377.2" font-size="6.6" fill="#151515" style="stroke-width:0.22px">3.5%</text>
<text x="486.2" y="392.7" font-size="6.6" fill="#151515" style="stroke-width:0.22px">36.5%</text>
<text x="412" y="410.2" font-size="6.6" fill="#151515" style="stroke-width:0.22px">5.3%</text>
<text x="480.5" y="454.7" font-size="6.6" fill="#151515" style="stroke-width:0.22px">46.3%</text>
<line x1="20.8" y1="376" x2="20.8" y2="463.7" stroke="#111" stroke-width="1.5"/>
<path d="M20.8 369.8L24.1 378L17.5 378Z" fill="#111"/>
<text transform="translate(15.9,417.9) rotate(-90)" font-size="8.6" text-anchor="middle" fill="#1a1a1a" style="stroke-width:0.35px" textLength="14.4" lengthAdjust="spacingAndGlyphs">CD56</text>
<line x1="42.1" y1="484.3" x2="501" y2="484.3" stroke="#111" stroke-width="1.5"/>
<path d="M507.8 484.3L499.8 480.7L499.8 487.9Z" fill="#111"/>
<text x="280" y="495.0" font-size="8.6" text-anchor="middle" textLength="13.8" lengthAdjust="spacingAndGlyphs" fill="#1a1a1a" style="stroke-width:0.35px">CD16</text>
</svg></body></html>
